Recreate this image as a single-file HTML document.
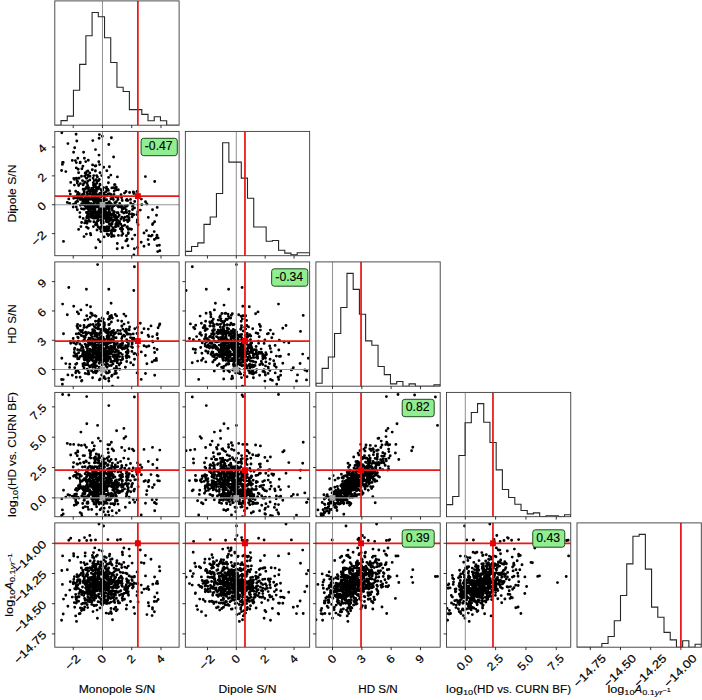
<!DOCTYPE html>
<html><head><meta charset="utf-8"><style>
html,body{margin:0;padding:0;background:#fff;}
svg{display:block;}
text{font-family:"Liberation Sans", sans-serif;fill:#000;}
</style></head><body>
<svg width="702" height="700" viewBox="0 0 702 700">
<rect width="702" height="700" fill="#fff"/>
<clipPath id="c00"><rect x="54.80" y="0.90" width="124.30" height="124.30"/></clipPath>
<g clip-path="url(#c00)">
<line x1="102.47" y1="0.90" x2="102.47" y2="125.20" stroke="#959595" stroke-width="1.05"/>
<path d="M54.80 125.20L54.80 125.20L61.02 125.20L61.02 120.60L67.23 120.60L67.23 116.10L73.44 116.10L73.44 90.20L79.66 90.20L79.66 64.40L85.88 64.40L85.88 35.80L92.09 35.80L92.09 12.50L98.30 12.50L98.30 16.70L104.52 16.70L104.52 37.70L110.73 37.70L110.73 62.50L116.95 62.50L116.95 87.30L123.16 87.30L123.16 91.50L129.38 91.50L129.38 109.60L135.59 109.60L135.59 109.60L141.81 109.60L141.81 114.40L148.02 114.40L148.02 120.80L154.24 120.80L154.24 116.70L160.45 116.70L160.45 120.80L166.67 120.80L166.67 125.20L172.88 125.20L172.88 125.20L179.10 125.20L179.10 125.20" fill="none" stroke="#262626" stroke-width="1.1" stroke-linejoin="miter"/>
<line x1="137.86" y1="0.90" x2="137.86" y2="125.20" stroke="#ec1616" stroke-width="1.75"/>
</g>
<rect x="54.80" y="0.90" width="124.30" height="124.30" fill="none" stroke="#3a3a3a" stroke-width="0.9"/>
<path d="M73.23 125.20v2.9M102.47 125.20v2.9M131.72 125.20v2.9M160.97 125.20v2.9" stroke="#000" stroke-width="0.8"/>
<clipPath id="c01"><rect x="54.80" y="131.40" width="124.30" height="124.30"/></clipPath>
<g clip-path="url(#c01)">
<path d="M96.3 194.5h0M132.1 216.8h0M137.5 247.5h0M114.1 236.1h0M95.5 199.9h0M102.6 203.0h0M91.7 213.2h0M113.7 235.6h0M61.6 170.5h0M104.9 203.6h0M101.5 204.3h0M87.6 221.5h0M113.5 213.1h0M87.7 200.2h0M73.6 152.2h0M93.0 212.8h0M101.3 222.9h0M127.0 227.3h0M103.7 167.3h0M114.2 211.7h0M81.7 203.6h0M99.0 155.1h0M92.1 194.4h0M93.6 199.3h0M73.2 207.1h0M98.7 204.8h0M80.9 226.6h0M111.8 187.9h0M89.8 179.9h0M94.7 208.2h0M87.0 183.4h0M83.6 201.6h0M95.2 205.8h0M124.8 217.2h0M158.1 237.9h0M92.4 217.8h0M92.3 208.4h0M128.3 232.8h0M91.4 211.9h0M115.8 226.8h0M130.5 229.0h0M90.4 233.4h0M122.3 209.0h0M128.4 229.4h0M94.1 196.3h0M134.0 192.5h0M86.5 227.1h0M73.5 204.1h0M81.3 195.9h0M80.4 183.6h0M128.3 232.9h0M77.6 198.5h0M86.6 187.0h0M84.5 202.6h0M105.6 211.6h0M95.5 224.4h0M98.9 211.2h0M88.2 228.2h0M94.1 198.1h0M97.0 181.8h0M128.3 233.5h0M103.5 187.6h0M126.9 199.5h0M95.4 200.0h0M98.8 194.5h0M106.5 187.1h0M101.9 225.2h0M89.5 190.5h0M109.1 218.6h0M122.5 206.8h0M98.0 220.7h0M115.6 218.0h0M107.1 208.8h0M127.2 239.2h0M67.3 202.4h0M93.5 209.9h0M110.5 214.6h0M101.7 175.6h0M102.3 136.3h0M102.9 218.8h0M119.2 206.3h0M108.5 204.9h0M156.5 215.2h0M90.2 216.9h0M92.6 212.8h0M133.8 193.6h0M104.3 204.6h0M70.7 182.4h0M96.1 190.2h0M83.1 189.3h0M89.8 203.8h0M109.4 224.2h0M109.0 227.9h0M102.4 213.4h0M101.6 211.5h0M106.9 221.8h0M137.7 211.9h0M76.3 207.0h0M87.8 181.2h0M99.1 138.3h0M91.7 206.3h0M75.7 202.5h0M90.5 213.9h0M103.8 199.3h0M84.0 236.6h0M82.5 180.6h0M116.9 226.1h0M103.9 193.2h0M87.9 206.0h0M103.1 201.0h0M119.6 221.7h0M109.6 220.1h0M108.0 194.0h0M148.8 244.5h0M103.6 215.2h0M111.7 234.4h0M97.4 202.3h0M90.8 207.7h0M129.2 214.2h0M99.0 201.5h0M111.6 217.6h0M154.6 221.8h0M90.2 214.0h0M90.0 191.5h0M106.2 208.9h0M113.4 187.6h0M100.7 208.2h0M120.5 205.9h0M86.7 217.9h0M94.9 217.3h0M114.7 230.9h0M145.5 201.7h0M100.1 217.3h0M94.4 198.1h0M146.5 230.6h0M109.4 166.7h0M98.0 203.6h0M96.2 179.7h0M104.4 230.7h0M88.2 217.7h0M100.7 196.2h0M107.8 208.3h0M120.8 224.3h0M99.2 188.4h0M88.3 160.3h0M86.4 178.3h0M86.1 174.6h0M84.6 176.3h0M108.2 222.0h0M108.4 230.0h0M93.1 199.9h0M92.6 164.9h0M93.4 226.6h0M97.6 204.7h0M68.8 198.9h0M94.8 197.8h0M114.0 194.4h0M77.8 192.4h0M100.5 216.0h0M87.2 196.5h0M87.1 204.5h0M105.9 228.9h0M104.1 196.3h0M102.2 195.8h0M89.8 204.0h0M132.2 238.9h0M96.6 222.9h0M94.8 184.6h0M107.1 190.3h0M81.4 208.6h0M105.4 209.6h0M113.6 236.0h0M101.3 200.5h0M108.4 227.8h0M87.7 215.0h0M100.4 227.4h0M99.7 208.4h0M114.5 184.8h0M91.0 215.5h0M107.8 218.4h0M95.5 185.9h0M127.3 226.6h0M132.5 206.4h0M108.4 190.4h0M92.6 213.5h0M122.2 212.0h0M89.7 211.1h0M79.9 212.6h0M116.5 223.1h0M105.9 208.1h0M86.9 171.4h0M117.3 243.5h0M94.2 213.2h0M93.2 211.4h0M95.8 247.7h0M86.4 234.1h0M108.9 230.5h0M134.8 235.1h0M89.8 172.9h0M102.0 209.9h0M87.7 185.4h0M104.8 203.1h0M122.4 226.2h0M77.6 181.6h0M100.3 210.5h0M78.6 172.7h0M101.4 208.3h0M148.1 239.6h0M89.8 217.3h0M98.0 219.9h0M94.2 198.8h0M128.5 228.4h0M106.2 195.5h0M112.2 204.8h0M95.9 165.8h0M96.5 206.9h0M90.2 199.3h0M74.7 197.2h0M116.6 220.7h0M96.1 224.9h0M99.9 184.3h0M99.7 208.7h0M105.6 227.7h0M101.6 196.9h0M96.0 199.9h0M104.5 203.3h0M106.3 228.2h0M118.4 216.6h0M86.5 207.9h0M103.7 228.2h0M87.5 191.8h0M93.9 221.7h0M106.3 221.5h0M76.5 201.6h0M111.0 219.2h0M99.0 213.8h0M93.8 204.5h0M104.1 236.9h0M75.7 197.8h0M93.3 182.7h0M110.9 198.8h0M98.6 211.0h0M83.1 209.1h0M96.1 195.6h0M74.3 179.3h0M88.1 212.8h0M93.1 178.3h0M98.2 197.0h0M91.0 203.7h0M121.0 194.7h0M115.3 204.7h0M129.3 211.4h0M152.5 209.8h0M93.7 175.6h0M115.3 226.6h0M103.6 204.6h0M103.7 209.0h0M92.4 209.6h0M117.4 176.9h0M86.7 198.1h0M134.4 248.7h0M69.8 203.4h0M82.2 196.2h0M124.6 225.2h0M79.9 198.0h0M98.8 161.8h0M85.2 206.1h0M118.0 199.6h0M69.6 191.0h0M114.2 191.3h0M106.8 205.9h0M110.5 214.8h0M99.2 211.4h0M119.6 221.8h0M133.8 214.8h0M89.0 216.6h0M107.1 219.4h0M137.3 220.0h0M111.3 223.7h0M125.4 206.0h0M131.9 214.0h0M113.8 214.1h0M99.3 179.5h0M106.6 218.6h0M102.2 203.8h0M114.7 202.6h0M97.4 204.6h0M107.4 203.3h0M100.8 202.3h0M96.0 212.0h0M97.9 195.3h0M95.4 171.1h0M107.9 219.1h0M108.4 227.0h0M100.1 241.8h0M95.0 193.5h0M106.8 170.7h0M97.6 215.3h0M84.7 222.9h0M107.9 230.8h0M96.9 202.6h0M124.0 220.5h0M93.5 207.3h0M92.8 190.6h0M101.0 189.7h0M92.8 194.8h0M157.7 251.6h0M134.5 207.9h0M111.3 214.1h0M106.8 213.7h0M127.8 200.6h0M100.4 229.0h0M94.1 190.6h0M87.5 188.5h0M120.8 207.1h0M137.1 191.5h0M92.6 189.6h0M138.1 224.7h0M106.3 205.9h0M79.3 193.8h0M102.3 201.8h0M95.9 213.9h0M94.3 180.6h0M96.3 223.0h0M114.4 216.9h0M129.6 192.5h0M94.0 205.7h0M148.8 235.8h0M103.1 196.9h0M99.4 204.7h0M94.4 202.9h0M87.4 202.7h0M90.8 234.9h0M112.1 231.6h0M122.4 247.8h0M83.6 152.3h0M126.7 220.0h0M82.7 194.3h0M100.8 220.2h0M129.1 220.4h0M89.4 194.3h0M97.8 212.9h0M128.0 245.7h0M86.7 205.3h0M119.7 203.4h0M88.8 187.8h0M116.3 187.2h0M104.4 199.2h0M79.2 196.3h0M77.8 158.2h0M148.3 217.4h0M84.9 182.0h0M122.6 229.2h0M80.2 199.5h0M104.9 199.9h0M103.3 222.9h0M115.5 226.7h0M107.6 216.2h0M89.7 204.7h0M126.0 191.5h0M133.3 192.0h0M122.2 200.5h0M74.4 185.1h0M82.9 166.3h0M103.9 217.5h0M97.0 224.7h0M76.3 162.6h0M112.3 207.7h0M111.6 214.9h0M114.9 217.0h0M121.8 217.1h0M93.0 215.5h0M70.3 194.1h0M78.6 185.5h0M118.5 207.1h0M90.5 191.8h0M113.6 157.0h0M126.5 240.8h0M118.1 197.7h0M98.1 216.3h0M86.0 201.0h0M122.9 233.7h0M96.8 200.1h0M86.4 199.8h0M99.0 210.2h0M89.1 198.1h0M110.7 203.4h0M106.3 206.9h0M88.3 211.9h0M84.4 209.1h0M122.3 206.3h0M159.4 245.3h0M105.8 191.8h0M109.1 217.1h0M146.9 204.0h0M100.0 185.0h0M76.4 178.1h0M151.0 236.1h0M83.4 198.9h0M82.7 201.0h0M92.3 169.8h0M126.7 240.4h0M77.3 183.1h0M77.6 201.4h0M130.7 202.9h0M80.3 162.3h0M81.5 176.2h0M81.7 198.4h0M106.3 188.5h0M102.4 213.7h0M91.6 188.4h0M115.5 215.5h0M104.2 194.1h0M104.9 196.4h0M106.6 205.0h0M90.0 217.0h0M95.7 190.3h0M77.7 193.5h0M112.5 198.5h0M84.0 199.6h0M102.6 197.6h0M80.1 162.9h0M116.2 197.1h0M104.2 227.1h0M102.2 200.2h0M75.4 160.6h0M100.9 220.6h0M95.1 195.4h0M95.9 201.8h0M111.7 230.2h0M104.8 218.3h0M93.4 198.1h0M105.5 204.4h0M109.7 212.5h0M84.3 191.9h0M93.1 206.0h0M65.8 171.6h0M108.4 182.8h0M128.3 228.6h0M91.7 198.5h0M96.7 183.2h0M83.1 184.9h0M117.2 205.5h0M96.1 198.5h0M104.5 211.3h0M88.2 175.3h0M137.0 214.6h0M113.4 199.6h0M98.7 187.2h0M93.5 204.3h0M108.5 216.6h0M92.6 208.6h0M120.3 228.7h0M152.1 235.2h0M95.5 149.6h0M76.3 167.9h0M104.0 212.7h0M90.2 193.9h0M94.1 186.6h0M98.1 217.6h0M113.1 197.5h0M133.2 204.4h0M88.2 202.3h0M126.3 209.9h0M144.0 233.0h0M105.0 216.9h0M99.4 134.6h0M84.0 209.0h0M88.0 214.6h0M133.8 254.9h0M78.4 196.4h0M89.9 209.7h0M107.4 226.7h0M95.4 170.6h0M103.8 210.0h0M61.8 132.8h0M78.6 229.4h0M137.2 222.3h0M145.4 176.6h0M98.5 207.3h0M109.5 193.7h0M111.5 236.6h0M114.7 188.2h0M107.4 212.6h0M157.2 207.4h0M118.7 223.2h0M105.4 214.5h0M97.8 202.7h0M94.2 199.3h0M108.2 235.6h0M85.1 202.9h0M112.1 196.6h0M109.7 220.0h0M102.9 210.1h0M98.4 239.6h0M73.8 178.4h0M81.9 168.7h0M90.0 176.2h0M114.0 205.7h0M95.6 216.3h0M84.4 158.2h0M110.5 219.9h0M108.8 234.8h0M88.1 209.2h0M117.9 220.4h0M99.7 228.4h0M103.2 207.0h0M156.3 238.0h0M97.1 201.1h0M101.8 210.0h0M89.0 220.4h0M97.1 221.4h0M105.3 207.8h0M114.6 205.3h0M96.6 198.9h0M94.8 192.8h0M67.9 143.6h0M112.8 227.8h0M99.5 199.3h0M83.1 204.7h0M108.1 205.4h0M87.0 223.2h0M102.7 190.0h0M141.8 204.8h0M108.6 177.4h0M101.0 231.6h0M105.4 196.2h0M141.3 199.1h0M85.1 189.0h0M90.8 206.2h0M95.2 166.0h0M92.0 208.8h0M91.5 191.2h0M116.4 201.8h0M62.4 164.4h0M132.5 214.1h0M94.0 203.3h0M134.7 201.5h0M125.6 212.3h0M102.3 203.1h0M97.2 188.0h0M73.7 198.2h0M117.8 205.6h0M109.2 205.2h0M99.6 164.6h0M157.1 245.6h0M93.7 217.5h0M152.5 224.5h0M86.8 217.1h0M103.8 198.0h0M111.4 218.1h0M124.7 208.3h0M77.3 209.8h0M108.8 144.5h0M102.8 212.3h0M109.9 204.0h0M114.0 229.5h0M84.5 199.4h0M63.5 241.4h0M92.4 208.3h0M98.2 226.9h0M99.8 193.4h0M121.7 211.8h0M92.9 187.9h0M99.7 213.0h0M108.7 208.5h0M114.3 219.9h0M96.4 191.5h0M130.5 199.4h0M105.5 207.7h0M93.4 185.1h0M79.9 217.0h0M154.2 231.6h0M126.2 212.0h0M122.7 208.9h0M83.7 183.4h0M81.6 222.5h0M77.0 180.8h0M111.1 225.6h0M108.2 215.9h0M144.0 246.3h0M132.5 209.5h0M92.4 194.9h0M97.5 189.2h0M78.2 169.3h0M110.2 206.1h0M103.4 218.0h0M98.1 214.6h0M141.2 242.3h0M121.7 227.6h0M112.7 221.6h0M87.2 192.9h0M101.5 220.3h0M97.3 196.8h0M123.9 213.0h0M76.1 134.2h0M86.0 173.6h0M102.0 217.1h0M114.3 219.7h0M120.5 205.7h0M115.2 230.3h0M93.9 190.2h0M86.8 178.1h0M98.4 215.2h0M123.8 218.4h0M107.1 234.1h0M98.4 211.6h0M127.4 205.5h0M93.1 207.0h0M111.0 194.5h0M91.1 203.7h0M112.1 224.0h0M102.5 200.5h0M108.2 206.0h0M86.8 195.4h0M85.6 220.8h0M93.0 199.5h0M85.1 200.3h0M118.3 226.0h0M63.2 162.4h0M88.6 207.1h0M131.5 229.2h0M117.2 248.8h0M108.2 213.4h0M106.6 199.8h0M62.6 162.5h0M110.8 175.1h0M120.6 205.2h0M77.0 195.5h0M105.5 217.9h0M101.8 206.5h0M98.3 211.7h0M157.0 235.3h0M101.7 191.8h0M112.4 210.4h0M76.8 141.0h0M127.1 216.4h0M100.0 172.7h0M79.1 178.1h0M118.3 189.8h0M78.9 178.2h0M103.3 198.8h0M128.5 217.3h0M108.1 217.4h0M115.8 224.3h0M152.8 223.6h0M103.4 210.8h0M72.3 160.4h0M106.6 215.9h0M91.8 189.4h0M104.4 199.5h0M97.0 230.0h0M87.9 171.0h0M126.6 206.2h0M109.2 210.7h0M93.9 211.5h0M85.7 161.6h0M116.4 189.8h0M106.1 227.2h0M129.1 218.3h0M98.7 188.4h0M77.5 196.3h0M91.3 199.0h0M90.2 221.4h0M110.2 219.4h0M107.8 208.5h0M111.6 208.8h0M108.8 227.2h0M75.7 191.3h0M83.2 218.4h0M119.2 215.1h0M92.8 140.6h0M103.5 218.2h0M107.7 189.3h0M96.6 175.6h0M94.5 212.2h0M95.4 187.2h0M99.9 206.8h0M117.0 224.3h0M96.5 214.9h0M93.3 192.4h0M111.2 233.1h0M100.0 204.1h0M107.3 203.1h0M94.3 211.2h0M98.8 180.6h0M125.8 240.9h0M111.0 204.0h0M115.4 204.5h0M115.7 217.5h0M99.4 202.6h0M121.8 231.2h0M154.4 239.5h0M101.0 227.2h0M118.0 212.7h0M105.0 215.0h0M84.0 191.0h0M115.0 184.6h0M94.0 218.2h0M109.5 220.9h0M88.0 200.8h0M102.1 211.6h0M103.1 221.5h0M94.8 209.9h0M116.9 212.6h0M93.6 184.9h0M80.4 205.2h0M95.3 217.1h0M126.4 235.8h0M109.4 213.6h0M140.3 210.1h0M94.2 197.1h0M106.2 219.7h0M109.4 201.6h0M95.8 217.8h0M154.7 181.5h0M87.2 215.9h0M102.5 219.6h0M105.5 218.1h0M85.4 197.7h0M159.8 250.7h0M124.5 193.1h0M118.4 235.4h0M93.0 213.0h0M111.8 220.0h0M113.0 215.0h0M106.3 231.1h0M126.7 212.5h0M126.3 200.3h0M99.9 213.4h0M88.5 176.2h0M101.5 193.2h0M121.6 197.7h0M120.9 219.0h0M85.2 173.0h0M93.8 201.5h0M98.7 216.0h0M93.5 190.7h0M116.9 217.9h0M102.4 208.9h0M100.4 212.4h0M104.2 216.8h0M95.8 218.1h0M97.4 215.8h0M75.7 203.1h0M98.5 198.7h0M92.4 215.5h0M116.1 217.0h0M97.4 176.9h0M103.0 218.6h0M107.1 219.1h0M121.7 235.4h0M111.4 137.8h0M111.4 231.3h0M113.0 214.4h0M74.7 147.8h0M95.1 209.7h0M84.0 194.2h0M127.8 221.7h0M86.4 212.5h0" stroke="#000" stroke-width="2.9" stroke-linecap="round"/>
<line x1="102.47" y1="131.40" x2="102.47" y2="255.70" stroke="#959595" stroke-width="1.05"/>
<line x1="54.80" y1="204.74" x2="179.10" y2="204.74" stroke="#959595" stroke-width="1.05"/>
<rect x="99.57" y="201.94" width="5.8" height="5.6" fill="#a4a4a4"/>
<line x1="137.86" y1="131.40" x2="137.86" y2="255.70" stroke="#ec1616" stroke-width="1.75"/>
<line x1="54.80" y1="196.08" x2="179.10" y2="196.08" stroke="#ec1616" stroke-width="1.75"/>
<rect x="134.91" y="193.13" width="5.9" height="5.9" fill="#e80000"/>
</g>
<rect x="54.80" y="131.40" width="124.30" height="124.30" fill="none" stroke="#3a3a3a" stroke-width="0.9"/>
<path d="M73.23 255.70v2.9M102.47 255.70v2.9M131.72 255.70v2.9M160.97 255.70v2.9M54.80 233.61h-2.9M54.80 204.74h-2.9M54.80 175.87h-2.9M54.80 146.99h-2.9" stroke="#000" stroke-width="0.8"/>
<clipPath id="c11"><rect x="185.35" y="131.40" width="124.30" height="124.30"/></clipPath>
<g clip-path="url(#c11)">
<line x1="236.31" y1="131.40" x2="236.31" y2="255.70" stroke="#959595" stroke-width="1.05"/>
<path d="M185.35 255.70L185.35 251.40L191.57 251.40L191.57 246.50L197.78 246.50L197.78 242.90L204.00 242.90L204.00 224.40L210.21 224.40L210.21 217.00L216.43 217.00L216.43 193.50L222.64 193.50L222.64 142.80L228.86 142.80L228.86 162.10L235.07 162.10L235.07 162.10L241.29 162.10L241.29 178.10L247.50 178.10L247.50 198.30L253.72 198.30L253.72 227.00L259.93 227.00L259.93 227.00L266.15 227.00L266.15 241.30L272.36 241.30L272.36 240.50L278.58 240.50L278.58 250.30L284.79 250.30L284.79 253.10L291.00 253.10L291.00 254.80L297.22 254.80L297.22 252.80L303.44 252.80L303.44 252.80L309.65 252.80L309.65 255.70" fill="none" stroke="#262626" stroke-width="1.1" stroke-linejoin="miter"/>
<line x1="244.97" y1="131.40" x2="244.97" y2="255.70" stroke="#ec1616" stroke-width="1.75"/>
</g>
<rect x="185.35" y="131.40" width="124.30" height="124.30" fill="none" stroke="#3a3a3a" stroke-width="0.9"/>
<path d="M207.44 255.70v2.9M236.31 255.70v2.9M265.18 255.70v2.9M294.06 255.70v2.9" stroke="#000" stroke-width="0.8"/>
<clipPath id="c02"><rect x="54.80" y="261.90" width="124.30" height="124.30"/></clipPath>
<g clip-path="url(#c02)">
<path d="M96.3 360.4h0M132.1 343.9h0M137.5 327.4h0M114.1 343.9h0M95.5 321.2h0M102.6 342.7h0M91.7 370.4h0M113.7 337.0h0M61.6 379.5h0M104.9 359.0h0M101.5 349.8h0M87.6 341.3h0M113.5 347.6h0M87.7 373.9h0M73.6 342.7h0M93.0 357.6h0M101.3 330.2h0M127.0 334.3h0M103.7 360.7h0M114.2 357.6h0M81.7 347.7h0M99.0 325.5h0M92.1 337.2h0M93.6 352.9h0M73.2 338.5h0M98.7 355.0h0M80.9 309.9h0M111.8 361.5h0M89.8 349.1h0M94.7 348.0h0M87.0 358.2h0M83.6 336.5h0M95.2 367.3h0M124.8 331.0h0M158.1 327.8h0M92.4 356.2h0M92.3 358.8h0M128.3 351.6h0M91.4 335.4h0M115.8 360.1h0M130.5 337.6h0M90.4 339.4h0M122.3 354.6h0M128.4 334.0h0M94.1 362.5h0M134.0 353.7h0M86.5 354.7h0M73.5 342.0h0M81.3 335.5h0M80.4 356.4h0M128.3 344.9h0M77.6 358.7h0M86.6 354.3h0M84.5 339.9h0M105.6 371.7h0M95.5 354.3h0M98.9 346.8h0M88.2 326.0h0M94.1 365.4h0M97.0 336.7h0M128.3 346.2h0M103.5 377.8h0M126.9 354.7h0M95.4 353.8h0M98.8 320.4h0M106.5 373.0h0M101.9 354.9h0M89.5 366.3h0M109.1 353.9h0M122.5 357.1h0M98.0 327.0h0M115.6 355.7h0M107.1 336.5h0M127.2 353.3h0M67.3 314.8h0M93.5 345.8h0M110.5 359.3h0M101.7 375.0h0M102.3 370.0h0M102.9 321.5h0M119.2 345.7h0M108.5 348.2h0M156.5 360.4h0M90.2 338.5h0M92.6 346.4h0M133.8 340.6h0M104.3 353.7h0M70.7 343.2h0M96.1 351.2h0M83.1 347.4h0M89.8 343.9h0M109.4 324.2h0M109.0 337.0h0M102.4 339.9h0M101.6 354.4h0M106.9 345.1h0M137.7 354.0h0M76.3 344.1h0M87.8 364.7h0M99.1 354.1h0M91.7 365.2h0M75.7 344.0h0M90.5 324.8h0M103.8 344.2h0M84.0 325.4h0M82.5 330.1h0M116.9 354.7h0M103.9 353.7h0M87.9 351.3h0M103.1 349.2h0M119.6 356.6h0M109.6 318.7h0M108.0 333.5h0M148.8 336.6h0M103.6 353.0h0M111.7 341.7h0M97.4 348.5h0M90.8 350.0h0M129.2 357.1h0M99.0 348.9h0M111.6 352.5h0M154.6 352.5h0M90.2 349.7h0M90.0 356.6h0M106.2 360.0h0M113.4 355.0h0M100.7 349.0h0M120.5 353.1h0M86.7 327.3h0M94.9 331.8h0M114.7 346.5h0M145.5 373.5h0M100.1 379.0h0M94.4 347.0h0M146.5 346.8h0M109.4 365.6h0M98.0 353.6h0M96.2 361.4h0M104.4 323.0h0M88.2 340.3h0M100.7 356.6h0M107.8 346.9h0M120.8 347.5h0M99.2 367.1h0M88.3 371.1h0M86.4 354.3h0M86.1 354.5h0M84.6 356.5h0M108.2 350.9h0M108.4 343.5h0M93.1 349.2h0M92.6 367.3h0M93.4 329.7h0M97.6 264.6h0M68.8 287.5h0M94.8 331.0h0M114.0 360.9h0M77.8 370.4h0M100.5 341.6h0M87.2 369.3h0M87.1 333.6h0M105.9 352.0h0M104.1 350.7h0M102.2 353.2h0M89.8 339.7h0M132.2 342.7h0M96.6 355.4h0M94.8 350.4h0M107.1 336.0h0M81.4 331.8h0M105.4 378.7h0M113.6 330.5h0M101.3 356.4h0M108.4 319.3h0M87.7 319.3h0M100.4 329.4h0M99.7 324.7h0M114.5 352.0h0M91.0 313.2h0M107.8 358.8h0M95.5 365.6h0M127.3 341.3h0M132.5 347.5h0M108.4 343.5h0M92.6 329.7h0M122.2 348.1h0M89.7 351.6h0M79.9 350.1h0M116.5 350.0h0M105.9 347.9h0M86.9 345.9h0M117.3 361.1h0M94.2 352.3h0M93.2 333.4h0M95.8 339.7h0M86.4 347.1h0M108.9 336.1h0M134.8 328.7h0M89.8 367.1h0M102.0 360.5h0M87.7 362.2h0M104.8 352.1h0M122.4 345.3h0M77.6 324.4h0M100.3 346.8h0M78.6 333.4h0M101.4 370.0h0M148.1 335.2h0M89.8 353.7h0M98.0 356.6h0M94.2 353.2h0M128.5 356.2h0M106.2 366.2h0M112.2 346.6h0M95.9 372.9h0M96.5 335.3h0M90.2 358.3h0M74.7 348.2h0M116.6 315.9h0M96.1 347.7h0M99.9 369.6h0M99.7 337.7h0M105.6 332.0h0M101.6 349.4h0M96.0 316.2h0M104.5 353.6h0M106.3 362.0h0M118.4 354.7h0M86.5 345.2h0M103.7 352.3h0M87.5 348.1h0M93.9 333.1h0M106.3 331.9h0M76.5 354.2h0M111.0 352.3h0M99.0 319.5h0M93.8 331.9h0M104.1 327.1h0M75.7 354.9h0M93.3 341.3h0M110.9 353.8h0M98.6 353.8h0M83.1 341.0h0M96.1 340.5h0M74.3 352.5h0M88.1 345.8h0M93.1 364.5h0M98.2 353.5h0M91.0 342.1h0M121.0 360.1h0M115.3 355.0h0M129.3 341.3h0M152.5 341.2h0M93.7 365.9h0M115.3 345.0h0M103.6 356.1h0M103.7 348.7h0M92.4 315.3h0M117.4 343.4h0M86.7 315.7h0M134.4 266.7h0M69.8 364.2h0M82.2 355.5h0M124.6 348.5h0M79.9 344.0h0M98.8 340.2h0M85.2 336.9h0M118.0 377.6h0M69.6 367.4h0M114.2 368.7h0M106.8 359.7h0M110.5 342.8h0M99.2 356.2h0M119.6 363.9h0M133.8 338.3h0M89.0 325.2h0M107.1 367.2h0M137.3 355.0h0M111.3 365.5h0M125.4 367.3h0M131.9 351.4h0M113.8 333.2h0M99.3 363.3h0M106.6 350.8h0M102.2 349.2h0M114.7 361.0h0M97.4 340.1h0M107.4 356.1h0M100.8 359.9h0M96.0 352.9h0M97.9 328.9h0M95.4 370.6h0M107.9 313.5h0M108.4 356.7h0M100.1 340.1h0M95.0 366.1h0M106.8 330.1h0M97.6 334.7h0M84.7 320.1h0M107.9 312.4h0M96.9 356.6h0M124.0 324.1h0M93.5 366.3h0M92.8 361.1h0M101.0 358.1h0M92.8 353.4h0M157.7 338.5h0M134.5 359.3h0M111.3 347.0h0M106.8 332.7h0M127.8 350.0h0M100.4 320.9h0M94.1 339.7h0M87.5 352.0h0M120.8 362.9h0M137.1 372.9h0M92.6 349.7h0M138.1 346.6h0M106.3 360.7h0M79.3 333.8h0M102.3 352.3h0M95.9 327.9h0M94.3 326.5h0M96.3 324.6h0M114.4 334.0h0M129.6 326.9h0M94.0 333.2h0M148.8 346.0h0M103.1 354.4h0M99.4 334.5h0M94.4 344.3h0M87.4 350.8h0M90.8 313.2h0M112.1 340.6h0M122.4 349.0h0M83.6 354.4h0M126.7 339.6h0M82.7 353.6h0M100.8 339.5h0M129.1 329.9h0M89.4 325.5h0M97.8 359.8h0M128.0 352.8h0M86.7 360.2h0M119.7 369.2h0M88.8 374.0h0M116.3 366.5h0M104.4 357.1h0M79.2 372.6h0M77.8 328.2h0M148.3 329.1h0M84.9 352.2h0M122.6 343.2h0M80.2 325.8h0M104.9 353.9h0M103.3 337.8h0M115.5 371.0h0M107.6 313.4h0M89.7 357.0h0M126.0 356.3h0M133.3 364.9h0M122.2 359.5h0M74.4 349.6h0M82.9 364.0h0M103.9 323.4h0M97.0 341.9h0M76.3 377.2h0M112.3 348.0h0M111.6 331.4h0M114.9 348.5h0M121.8 326.2h0M93.0 344.7h0M70.3 341.4h0M78.6 313.7h0M118.5 352.2h0M90.5 306.7h0M113.6 342.1h0M126.5 332.8h0M118.1 356.2h0M98.1 321.0h0M86.0 335.0h0M122.9 329.1h0M96.8 336.0h0M86.4 346.2h0M99.0 340.7h0M89.1 360.9h0M110.7 346.3h0M106.3 350.9h0M88.3 332.6h0M84.4 354.6h0M122.3 336.6h0M159.4 325.3h0M105.8 353.5h0M109.1 371.0h0M146.9 363.7h0M100.0 354.3h0M76.4 371.4h0M151.0 325.9h0M83.4 350.1h0M82.7 351.2h0M92.3 351.9h0M126.7 347.5h0M77.3 311.9h0M77.6 349.7h0M130.7 362.8h0M80.3 350.0h0M81.5 381.1h0M81.7 345.7h0M106.3 361.2h0M102.4 348.6h0M91.6 370.9h0M115.5 344.8h0M104.2 376.8h0M104.9 339.8h0M106.6 356.6h0M90.0 333.1h0M95.7 371.6h0M77.7 337.1h0M112.5 386.1h0M84.0 327.6h0M102.6 344.7h0M80.1 377.2h0M116.2 351.5h0M104.2 326.6h0M102.2 365.1h0M75.4 356.2h0M100.9 337.6h0M95.1 315.8h0M95.9 335.1h0M111.7 316.9h0M104.8 344.5h0M93.4 351.1h0M105.5 351.8h0M109.7 316.4h0M84.3 359.8h0M93.1 355.1h0M65.8 363.6h0M108.4 353.7h0M128.3 322.6h0M91.7 354.7h0M96.7 333.5h0M83.1 332.9h0M117.2 356.9h0M96.1 362.3h0M104.5 324.9h0M88.2 352.7h0M137.0 333.5h0M113.4 340.0h0M98.7 349.7h0M93.5 339.5h0M108.5 338.2h0M92.6 377.8h0M120.3 330.6h0M152.1 361.9h0M95.5 369.9h0M76.3 333.9h0M104.0 359.1h0M90.2 344.6h0M94.1 365.1h0M98.1 348.0h0M113.1 347.3h0M133.2 333.9h0M88.2 356.0h0M126.3 330.9h0M144.0 345.7h0M105.0 350.4h0M99.4 379.9h0M84.0 358.7h0M88.0 353.3h0M133.8 290.5h0M78.4 341.1h0M89.9 355.1h0M107.4 347.1h0M95.4 348.4h0M103.8 341.7h0M61.8 358.3h0M78.6 352.7h0M137.2 340.4h0M145.4 355.5h0M98.5 354.6h0M109.5 348.7h0M111.5 339.0h0M114.7 373.8h0M107.4 364.0h0M157.2 333.8h0M118.7 333.7h0M105.4 354.9h0M97.8 359.8h0M94.2 344.3h0M108.2 330.3h0M85.1 337.5h0M112.1 375.3h0M109.7 348.8h0M102.9 338.4h0M98.4 323.3h0M73.8 356.0h0M81.9 380.4h0M90.0 339.9h0M114.0 348.6h0M95.6 352.6h0M84.4 363.3h0M110.5 339.9h0M108.8 289.3h0M88.1 354.7h0M117.9 320.6h0M99.7 348.1h0M103.2 355.1h0M156.3 358.4h0M97.1 354.4h0M101.8 336.4h0M89.0 338.2h0M97.1 355.6h0M105.3 364.5h0M114.6 343.4h0M96.6 365.9h0M94.8 336.2h0M67.9 374.9h0M112.8 356.4h0M99.5 362.4h0M83.1 365.9h0M108.1 372.9h0M87.0 348.4h0M102.7 345.4h0M141.8 332.8h0M108.6 357.4h0M101.0 337.0h0M105.4 361.2h0M141.3 351.9h0M85.1 364.9h0M90.8 334.3h0M95.2 345.4h0M92.0 313.7h0M91.5 334.6h0M116.4 369.2h0M62.4 384.2h0M132.5 339.8h0M94.0 347.3h0M134.7 353.4h0M125.6 345.7h0M102.3 347.1h0M97.2 371.3h0M73.7 306.2h0M117.8 330.5h0M109.2 335.9h0M99.6 356.1h0M157.1 349.5h0M93.7 357.1h0M152.5 336.6h0M86.8 305.1h0M103.8 360.1h0M111.4 349.8h0M124.7 336.2h0M77.3 342.3h0M108.8 381.0h0M102.8 329.0h0M109.9 357.0h0M114.0 343.3h0M84.5 337.6h0M63.5 333.8h0M92.4 344.2h0M98.2 334.3h0M99.8 357.5h0M121.7 341.1h0M92.9 355.5h0M99.7 342.2h0M108.7 378.2h0M114.3 337.6h0M96.4 345.3h0M130.5 334.4h0M105.5 329.4h0M93.4 372.4h0M79.9 330.4h0M154.2 348.1h0M126.2 352.3h0M122.7 359.1h0M83.7 356.9h0M81.6 331.5h0M77.0 326.0h0M111.1 303.3h0M108.2 341.0h0M144.0 328.8h0M132.5 338.2h0M92.4 341.0h0M97.5 352.5h0M78.2 337.7h0M110.2 348.0h0M103.4 352.7h0M98.1 352.9h0M141.2 379.4h0M121.7 338.4h0M112.7 351.0h0M87.2 358.2h0M101.5 333.3h0M97.3 354.1h0M123.9 314.1h0M76.1 371.0h0M86.0 333.9h0M102.0 345.7h0M114.3 345.2h0M120.5 344.2h0M115.2 314.4h0M93.9 352.1h0M86.8 358.8h0M98.4 358.2h0M123.8 335.2h0M107.1 338.5h0M98.4 353.3h0M127.4 355.8h0M93.1 324.5h0M111.0 352.0h0M91.1 359.5h0M112.1 332.3h0M102.5 362.7h0M108.2 341.2h0M86.8 364.5h0M85.6 332.1h0M93.0 354.4h0M85.1 344.2h0M118.3 359.6h0M63.2 379.6h0M88.6 343.3h0M131.5 346.8h0M117.2 362.7h0M108.2 332.0h0M106.6 354.8h0M62.6 304.1h0M110.8 361.9h0M120.6 345.0h0M77.0 356.0h0M105.5 358.0h0M101.8 354.7h0M98.3 344.8h0M157.0 334.8h0M101.7 345.0h0M112.4 318.1h0M76.8 363.5h0M127.1 341.8h0M100.0 368.9h0M79.1 358.0h0M118.3 347.5h0M78.9 358.7h0M103.3 318.9h0M128.5 344.3h0M108.1 342.6h0M115.8 332.7h0M152.8 341.9h0M103.4 351.9h0M72.3 375.2h0M106.6 332.1h0M91.8 343.0h0M104.4 352.4h0M97.0 354.4h0M87.9 359.2h0M126.6 358.1h0M109.2 340.5h0M93.9 361.0h0M85.7 356.4h0M116.4 373.2h0M106.1 355.8h0M129.1 329.1h0M98.7 328.7h0M77.5 327.2h0M91.3 341.4h0M90.2 317.2h0M110.2 332.4h0M107.8 360.8h0M111.6 376.3h0M108.8 324.7h0M75.7 364.3h0M83.2 354.9h0M119.2 365.1h0M92.8 331.4h0M103.5 330.2h0M107.7 351.2h0M96.6 358.3h0M94.5 364.0h0M95.4 357.5h0M99.9 332.6h0M117.0 358.0h0M96.5 352.2h0M93.3 347.8h0M111.2 353.0h0M100.0 360.4h0M107.3 352.4h0M94.3 357.2h0M98.8 353.2h0M125.8 316.1h0M111.0 334.7h0M115.4 358.9h0M115.7 351.6h0M99.4 346.9h0M121.8 326.0h0M154.4 360.4h0M101.0 345.1h0M118.0 346.4h0M105.0 350.0h0M84.0 352.1h0M115.0 357.4h0M94.0 330.9h0M109.5 351.3h0M88.0 364.9h0M102.1 317.9h0M103.1 354.6h0M94.8 344.4h0M116.9 343.7h0M93.6 346.5h0M80.4 350.3h0M95.3 366.4h0M126.4 345.9h0M109.4 328.8h0M140.3 323.3h0M94.2 350.7h0M106.2 346.3h0M109.4 372.1h0M95.8 360.2h0M154.7 375.2h0M87.2 347.8h0M102.5 343.8h0M105.5 355.6h0M85.4 356.8h0M159.8 323.9h0M124.5 347.4h0M118.4 351.0h0M93.0 346.1h0M111.8 347.9h0M113.0 336.2h0M106.3 342.9h0M126.7 361.5h0M126.3 329.3h0M99.9 352.7h0M88.5 372.4h0M101.5 350.8h0M121.6 345.7h0M120.9 333.7h0M85.2 373.4h0M93.8 348.1h0M98.7 350.7h0M93.5 340.9h0M116.9 368.4h0M102.4 345.1h0M100.4 356.0h0M104.2 350.9h0M95.8 341.7h0M97.4 351.4h0M75.7 372.7h0M98.5 338.7h0M92.4 332.8h0M116.1 337.8h0M97.4 369.6h0M103.0 337.3h0M107.1 338.5h0M121.7 321.2h0M111.4 315.4h0M111.4 322.0h0M113.0 363.9h0M74.7 367.7h0M95.1 333.8h0M84.0 368.0h0M127.8 350.2h0M86.4 289.3h0" stroke="#000" stroke-width="2.9" stroke-linecap="round"/>
<line x1="102.47" y1="261.90" x2="102.47" y2="386.20" stroke="#959595" stroke-width="1.05"/>
<line x1="54.80" y1="369.59" x2="179.10" y2="369.59" stroke="#959595" stroke-width="1.05"/>
<rect x="99.57" y="366.79" width="5.8" height="5.6" fill="#a4a4a4"/>
<line x1="137.86" y1="261.90" x2="137.86" y2="386.20" stroke="#ec1616" stroke-width="1.75"/>
<line x1="54.80" y1="341.05" x2="179.10" y2="341.05" stroke="#ec1616" stroke-width="1.75"/>
<rect x="134.91" y="338.10" width="5.9" height="5.9" fill="#e80000"/>
</g>
<rect x="54.80" y="261.90" width="124.30" height="124.30" fill="none" stroke="#3a3a3a" stroke-width="0.9"/>
<path d="M73.23 386.20v2.9M102.47 386.20v2.9M131.72 386.20v2.9M160.97 386.20v2.9M54.80 369.59h-2.9M54.80 340.27h-2.9M54.80 310.96h-2.9M54.80 281.64h-2.9" stroke="#000" stroke-width="0.8"/>
<clipPath id="c12"><rect x="185.35" y="261.90" width="124.30" height="124.30"/></clipPath>
<g clip-path="url(#c12)">
<path d="M246.5 360.4h0M224.3 343.9h0M193.6 327.4h0M205.0 343.9h0M241.2 321.2h0M238.0 342.7h0M227.9 370.4h0M205.5 337.0h0M270.5 379.5h0M237.4 359.0h0M236.8 349.8h0M219.5 341.3h0M227.9 347.6h0M240.8 373.9h0M288.8 342.7h0M228.2 357.6h0M218.1 330.2h0M213.8 334.3h0M273.7 360.7h0M229.4 357.6h0M237.4 347.7h0M286.0 325.5h0M246.7 337.2h0M241.8 352.9h0M233.9 338.5h0M236.3 355.0h0M214.4 309.9h0M253.2 361.5h0M261.1 349.1h0M232.8 348.0h0M257.6 358.2h0M239.4 336.5h0M235.3 367.3h0M223.9 331.0h0M203.2 327.8h0M223.2 356.2h0M232.6 358.8h0M208.2 351.6h0M229.2 335.4h0M214.3 360.1h0M212.0 337.6h0M207.7 339.4h0M232.1 354.6h0M211.6 334.0h0M244.8 362.5h0M248.5 353.7h0M213.9 354.7h0M237.0 342.0h0M245.2 335.5h0M257.4 356.4h0M208.1 344.9h0M242.6 358.7h0M254.0 354.3h0M238.4 339.9h0M229.5 371.7h0M216.7 354.3h0M229.8 346.8h0M212.8 326.0h0M242.9 365.4h0M259.2 336.7h0M207.6 346.2h0M253.4 377.8h0M241.6 354.7h0M241.1 353.8h0M246.6 320.4h0M253.9 373.0h0M215.8 354.9h0M250.6 366.3h0M222.4 353.9h0M234.3 357.1h0M220.3 327.0h0M223.0 355.7h0M232.2 336.5h0M201.9 353.3h0M238.7 314.8h0M231.2 345.8h0M226.5 359.3h0M265.4 375.0h0M304.8 370.0h0M222.2 321.5h0M234.7 345.7h0M236.1 348.2h0M225.8 360.4h0M224.2 338.5h0M228.3 346.4h0M247.4 340.6h0M236.4 353.7h0M258.6 343.2h0M250.9 351.2h0M251.8 347.4h0M237.2 343.9h0M216.8 324.2h0M213.2 337.0h0M227.6 339.9h0M229.6 354.4h0M219.2 345.1h0M229.1 354.0h0M234.0 344.1h0M259.8 364.7h0M302.7 354.1h0M234.7 365.2h0M238.5 344.0h0M227.2 324.8h0M241.8 344.2h0M204.5 325.4h0M260.4 330.1h0M214.9 354.7h0M247.8 353.7h0M235.0 351.3h0M240.1 349.2h0M219.4 356.6h0M220.9 318.7h0M247.1 333.5h0M196.6 336.6h0M225.8 353.0h0M206.6 341.7h0M238.8 348.5h0M233.3 350.0h0M226.8 357.1h0M239.5 348.9h0M223.5 352.5h0M219.3 352.5h0M227.1 349.7h0M249.6 356.6h0M232.1 360.0h0M253.5 355.0h0M232.9 349.0h0M235.1 353.1h0M223.2 327.3h0M223.7 331.8h0M210.1 346.5h0M239.4 373.5h0M223.7 379.0h0M243.0 347.0h0M210.4 346.8h0M274.4 365.6h0M237.5 353.6h0M261.3 361.4h0M210.4 323.0h0M223.3 340.3h0M244.9 356.6h0M232.7 346.9h0M216.7 347.5h0M252.6 367.1h0M280.8 371.1h0M262.7 354.3h0M266.5 354.5h0M264.8 356.5h0M219.1 350.9h0M211.1 343.5h0M241.1 349.2h0M276.2 367.3h0M214.5 329.7h0M236.4 264.6h0M242.1 287.5h0M243.2 331.0h0M246.7 360.9h0M248.6 370.4h0M225.0 341.6h0M244.5 369.3h0M236.5 333.6h0M212.2 352.0h0M244.8 350.7h0M245.3 353.2h0M237.0 339.7h0M202.2 342.7h0M218.2 355.4h0M256.4 350.4h0M250.8 336.0h0M232.5 331.8h0M231.5 378.7h0M205.1 330.5h0M240.5 356.4h0M213.3 319.3h0M226.1 319.3h0M213.7 329.4h0M232.7 324.7h0M256.2 352.0h0M225.6 313.2h0M222.7 358.8h0M255.1 365.6h0M214.4 341.3h0M234.6 347.5h0M250.7 343.5h0M227.5 329.7h0M229.0 348.1h0M230.0 351.6h0M228.4 350.1h0M217.9 350.0h0M233.0 347.9h0M269.7 345.9h0M197.6 361.1h0M227.8 352.3h0M229.7 333.4h0M193.4 339.7h0M207.0 347.1h0M210.5 336.1h0M205.9 328.7h0M268.2 367.1h0M231.2 360.5h0M255.7 362.2h0M238.0 352.1h0M214.8 345.3h0M259.4 324.4h0M230.6 346.8h0M268.4 333.4h0M232.7 370.0h0M201.5 335.2h0M223.8 353.7h0M221.2 356.6h0M242.2 353.2h0M212.7 356.2h0M245.6 366.2h0M236.2 346.6h0M275.2 372.9h0M234.2 335.3h0M241.8 358.3h0M243.8 348.2h0M220.3 315.9h0M216.1 347.7h0M256.7 369.6h0M232.4 337.7h0M213.3 332.0h0M244.2 349.4h0M241.1 316.2h0M237.8 353.6h0M212.8 362.0h0M224.5 354.7h0M233.2 345.2h0M212.9 352.3h0M249.2 348.1h0M219.3 333.1h0M219.5 331.9h0M239.4 354.2h0M221.8 352.3h0M227.3 319.5h0M236.6 331.9h0M204.1 327.1h0M243.3 354.9h0M258.3 341.3h0M242.2 353.8h0M230.1 353.8h0M232.0 341.0h0M245.5 340.5h0M261.7 352.5h0M228.3 345.8h0M262.8 364.5h0M244.1 353.5h0M237.3 342.1h0M246.4 360.1h0M236.3 355.0h0M229.7 341.3h0M231.3 341.2h0M265.5 365.9h0M214.4 345.0h0M236.5 356.1h0M232.1 348.7h0M231.4 315.3h0M264.1 343.4h0M243.0 315.7h0M192.3 266.7h0M237.6 364.2h0M244.9 355.5h0M215.9 348.5h0M243.0 344.0h0M279.3 340.2h0M234.9 336.9h0M241.5 377.6h0M250.1 367.4h0M249.8 368.7h0M235.1 359.7h0M226.3 342.8h0M229.6 356.2h0M219.2 363.9h0M226.2 338.3h0M224.5 325.2h0M221.6 367.2h0M221.0 355.0h0M217.4 365.5h0M235.0 367.3h0M227.0 351.4h0M227.0 333.2h0M261.6 363.3h0M222.5 350.8h0M237.3 349.2h0M238.5 361.0h0M236.4 340.1h0M237.8 356.1h0M238.8 359.9h0M229.1 352.9h0M245.7 328.9h0M269.9 370.6h0M221.9 313.5h0M214.1 356.7h0M199.3 340.1h0M247.6 366.1h0M270.4 330.1h0M225.7 334.7h0M218.2 320.1h0M210.2 312.4h0M238.5 356.6h0M220.6 324.1h0M233.8 366.3h0M250.5 361.1h0M251.3 358.1h0M246.3 353.4h0M189.5 338.5h0M233.1 359.3h0M226.9 347.0h0M227.3 332.7h0M240.4 350.0h0M212.1 320.9h0M250.5 339.7h0M252.5 352.0h0M234.0 362.9h0M249.6 372.9h0M251.4 349.7h0M216.3 346.6h0M235.1 360.7h0M247.2 333.8h0M239.2 352.3h0M227.1 327.9h0M260.4 326.5h0M218.1 324.6h0M224.1 334.0h0M248.5 326.9h0M235.4 333.2h0M205.2 346.0h0M244.1 354.4h0M236.3 334.5h0M238.1 344.3h0M238.3 350.8h0M206.1 313.2h0M209.4 340.6h0M193.2 349.0h0M288.7 354.4h0M221.0 339.6h0M246.7 353.6h0M220.9 339.5h0M220.7 329.9h0M246.8 325.5h0M228.1 359.8h0M195.3 352.8h0M235.8 360.2h0M237.6 369.2h0M253.3 374.0h0M253.9 366.5h0M241.9 357.1h0M244.7 372.6h0M282.8 328.2h0M223.6 329.1h0M259.1 352.2h0M211.9 343.2h0M241.5 325.8h0M241.1 353.9h0M218.2 337.8h0M214.3 371.0h0M224.9 313.4h0M236.4 357.0h0M249.6 356.3h0M249.0 364.9h0M240.5 359.5h0M256.0 349.6h0M274.7 364.0h0M223.6 323.4h0M216.4 341.9h0M278.5 377.2h0M233.3 348.0h0M226.1 331.4h0M224.0 348.5h0M224.0 326.2h0M225.6 344.7h0M247.0 341.4h0M255.6 313.7h0M234.0 352.2h0M249.3 306.7h0M284.1 342.1h0M200.3 332.8h0M243.4 356.2h0M224.8 321.0h0M240.0 335.0h0M207.3 329.1h0M240.9 336.0h0M241.3 346.2h0M230.9 340.7h0M243.0 360.9h0M237.6 346.3h0M234.1 350.9h0M229.1 332.6h0M232.0 354.6h0M234.8 336.6h0M195.7 325.3h0M249.3 353.5h0M223.9 371.0h0M237.0 363.7h0M256.1 354.3h0M262.9 371.4h0M205.0 325.9h0M242.1 350.1h0M240.0 351.2h0M271.2 351.9h0M200.7 347.5h0M258.0 311.9h0M239.7 349.7h0M238.2 362.8h0M278.8 350.0h0M264.9 381.1h0M242.7 345.7h0M252.5 361.2h0M227.3 348.6h0M252.6 370.9h0M225.5 344.8h0M247.0 376.8h0M244.7 339.8h0M236.1 356.6h0M224.0 333.1h0M250.7 371.6h0M247.6 337.1h0M242.5 386.1h0M241.4 327.6h0M243.4 344.7h0M278.1 377.2h0M243.9 351.5h0M214.0 326.6h0M240.8 365.1h0M280.5 356.2h0M220.4 337.6h0M245.7 315.8h0M239.2 335.1h0M210.9 316.9h0M222.8 344.5h0M243.0 351.1h0M236.7 351.8h0M228.5 316.4h0M249.2 359.8h0M235.0 355.1h0M269.5 363.6h0M258.2 353.7h0M212.5 322.6h0M242.6 354.7h0M257.9 333.5h0M256.1 332.9h0M235.6 356.9h0M242.5 362.3h0M229.8 324.9h0M265.8 352.7h0M226.4 333.5h0M241.5 340.0h0M253.9 349.7h0M236.7 339.5h0M224.5 338.2h0M232.5 377.8h0M212.4 330.6h0M205.8 361.9h0M291.4 369.9h0M273.2 333.9h0M228.3 359.1h0M247.2 344.6h0M254.5 365.1h0M223.5 348.0h0M243.6 347.3h0M236.6 333.9h0M238.7 356.0h0M231.1 330.9h0M208.1 345.7h0M224.2 350.4h0M306.5 379.9h0M232.1 358.7h0M226.4 353.3h0M186.1 290.5h0M244.6 341.1h0M231.3 355.1h0M214.4 347.1h0M270.4 348.4h0M231.1 341.7h0M308.3 358.3h0M211.7 352.7h0M218.8 340.4h0M264.5 355.5h0M233.8 354.6h0M247.3 348.7h0M204.5 339.0h0M252.9 373.8h0M228.5 364.0h0M233.7 333.8h0M217.8 333.7h0M226.5 354.9h0M238.4 359.8h0M241.8 344.3h0M205.5 330.3h0M238.2 337.5h0M244.4 375.3h0M221.1 348.8h0M230.9 338.4h0M201.4 323.3h0M262.7 356.0h0M272.4 380.4h0M264.9 339.9h0M235.3 348.6h0M224.8 352.6h0M282.8 363.3h0M221.2 339.9h0M206.3 289.3h0M231.8 354.7h0M220.7 320.6h0M212.6 348.1h0M234.0 355.1h0M203.0 358.4h0M239.9 354.4h0M231.1 336.4h0M220.7 338.2h0M219.7 355.6h0M233.3 364.5h0M235.7 343.4h0M242.2 365.9h0M248.2 336.2h0M297.5 374.9h0M213.2 356.4h0M241.8 362.4h0M236.3 365.9h0M235.7 372.9h0M217.8 348.4h0M251.0 345.4h0M236.2 332.8h0M263.6 357.4h0M209.5 337.0h0M244.8 361.2h0M241.9 351.9h0M252.1 364.9h0M234.8 334.3h0M275.1 345.4h0M232.3 313.7h0M249.8 334.6h0M239.3 369.2h0M276.7 384.2h0M227.0 339.8h0M237.7 347.3h0M239.5 353.4h0M228.8 345.7h0M237.9 347.1h0M253.0 371.3h0M242.8 306.2h0M235.4 330.5h0M235.8 335.9h0M276.4 356.1h0M195.5 349.5h0M223.5 357.1h0M216.5 336.6h0M224.0 305.1h0M243.0 360.1h0M222.9 349.8h0M232.7 336.2h0M231.3 342.3h0M296.5 381.0h0M228.7 329.0h0M237.1 357.0h0M211.6 343.3h0M241.6 337.6h0M199.7 333.8h0M232.8 344.2h0M214.2 334.3h0M247.7 357.5h0M229.3 341.1h0M253.2 355.5h0M228.1 342.2h0M232.6 378.2h0M221.1 337.6h0M249.5 345.3h0M241.6 334.4h0M233.3 329.4h0M256.0 372.4h0M224.1 330.4h0M209.5 348.1h0M229.1 352.3h0M232.1 359.1h0M257.6 356.9h0M218.6 331.5h0M260.3 326.0h0M215.4 303.3h0M225.2 341.0h0M194.8 328.8h0M231.6 338.2h0M246.1 341.0h0M251.9 352.5h0M271.8 337.7h0M235.0 348.0h0M223.0 352.7h0M226.5 352.9h0M198.7 379.4h0M213.5 338.4h0M219.5 351.0h0M248.1 358.2h0M220.7 333.3h0M244.3 354.1h0M228.0 314.1h0M306.9 371.0h0M267.4 333.9h0M223.9 345.7h0M221.3 345.2h0M235.3 344.2h0M210.8 314.4h0M250.9 352.1h0M262.9 358.8h0M225.9 358.2h0M222.7 335.2h0M206.9 338.5h0M229.4 353.3h0M235.6 355.8h0M234.0 324.5h0M246.5 352.0h0M237.4 359.5h0M217.0 332.3h0M240.5 362.7h0M235.0 341.2h0M245.7 364.5h0M220.2 332.1h0M241.6 354.4h0M240.7 344.2h0M215.1 359.6h0M278.7 379.6h0M233.9 343.3h0M211.9 346.8h0M192.2 362.7h0M227.6 332.0h0M241.3 354.8h0M278.5 304.1h0M265.9 361.9h0M235.9 345.0h0M245.6 356.0h0M223.1 358.0h0M234.6 354.7h0M229.4 344.8h0M205.8 334.8h0M249.3 345.0h0M230.7 318.1h0M300.1 363.5h0M224.7 341.8h0M268.4 368.9h0M262.9 358.0h0M251.2 347.5h0M262.8 358.7h0M242.3 318.9h0M223.8 344.3h0M223.7 342.6h0M216.8 332.7h0M217.5 341.9h0M230.3 351.9h0M280.6 375.2h0M225.1 332.1h0M251.7 343.0h0M241.6 352.4h0M211.0 354.4h0M270.1 359.2h0M234.8 358.1h0M230.4 340.5h0M229.6 361.0h0M279.4 356.4h0M251.3 373.2h0M213.8 355.8h0M222.7 329.1h0M252.7 328.7h0M244.7 327.2h0M242.0 341.4h0M219.7 317.2h0M221.6 332.4h0M232.6 360.8h0M232.2 376.3h0M213.9 324.7h0M249.7 364.3h0M222.7 354.9h0M226.0 365.1h0M300.5 331.4h0M222.8 330.2h0M251.7 351.2h0M265.5 358.3h0M228.8 364.0h0M253.8 357.5h0M234.2 332.6h0M216.7 358.0h0M226.2 352.2h0M248.6 347.8h0M207.9 353.0h0M236.9 360.4h0M237.9 352.4h0M229.9 357.2h0M260.4 353.2h0M200.1 316.1h0M237.1 334.7h0M236.5 358.9h0M223.5 351.6h0M238.5 346.9h0M209.9 326.0h0M201.5 360.4h0M213.8 345.1h0M228.3 346.4h0M226.0 350.0h0M250.1 352.1h0M256.4 357.4h0M222.8 330.9h0M220.2 351.3h0M240.2 364.9h0M229.5 317.9h0M219.6 354.6h0M231.1 344.4h0M228.4 343.7h0M256.1 346.5h0M235.9 350.3h0M223.9 366.4h0M205.3 345.9h0M227.5 328.8h0M231.0 323.3h0M243.9 350.7h0M221.3 346.3h0M239.5 372.1h0M223.2 360.2h0M259.6 375.2h0M225.1 347.8h0M221.5 343.8h0M223.0 355.6h0M243.3 356.8h0M190.4 323.9h0M247.9 347.4h0M205.7 351.0h0M228.0 346.1h0M221.1 347.9h0M226.0 336.2h0M209.9 342.9h0M228.5 361.5h0M240.7 329.3h0M227.6 352.7h0M264.9 372.4h0M247.8 350.8h0M243.3 345.7h0M222.1 333.7h0M268.1 373.4h0M239.5 348.1h0M225.1 350.7h0M250.4 340.9h0M223.2 368.4h0M232.1 345.1h0M228.6 356.0h0M224.2 350.9h0M223.0 341.7h0M225.3 351.4h0M238.0 372.7h0M242.3 338.7h0M225.5 332.8h0M224.1 337.8h0M264.1 369.6h0M222.5 337.3h0M221.9 338.5h0M205.6 321.2h0M303.2 315.4h0M209.8 322.0h0M226.7 363.9h0M293.3 367.7h0M231.4 333.8h0M246.8 368.0h0M219.4 350.2h0M228.6 289.3h0" stroke="#000" stroke-width="2.9" stroke-linecap="round"/>
<line x1="236.31" y1="261.90" x2="236.31" y2="386.20" stroke="#959595" stroke-width="1.05"/>
<line x1="185.35" y1="369.59" x2="309.65" y2="369.59" stroke="#959595" stroke-width="1.05"/>
<rect x="233.41" y="366.79" width="5.8" height="5.6" fill="#a4a4a4"/>
<line x1="244.97" y1="261.90" x2="244.97" y2="386.20" stroke="#ec1616" stroke-width="1.75"/>
<line x1="185.35" y1="341.05" x2="309.65" y2="341.05" stroke="#ec1616" stroke-width="1.75"/>
<rect x="242.02" y="338.10" width="5.9" height="5.9" fill="#e80000"/>
</g>
<rect x="185.35" y="261.90" width="124.30" height="124.30" fill="none" stroke="#3a3a3a" stroke-width="0.9"/>
<path d="M207.44 386.20v2.9M236.31 386.20v2.9M265.18 386.20v2.9M294.06 386.20v2.9M185.35 369.59h-2.9M185.35 340.27h-2.9M185.35 310.96h-2.9M185.35 281.64h-2.9" stroke="#000" stroke-width="0.8"/>
<clipPath id="c22"><rect x="315.90" y="261.90" width="124.30" height="124.30"/></clipPath>
<g clip-path="url(#c22)">
<line x1="332.51" y1="261.90" x2="332.51" y2="386.20" stroke="#959595" stroke-width="1.05"/>
<path d="M315.90 386.20L315.90 383.20L322.12 383.20L322.12 368.40L328.33 368.40L328.33 357.00L334.55 357.00L334.55 333.50L340.76 333.50L340.76 307.50L346.98 307.50L346.98 273.40L353.19 273.40L353.19 289.40L359.41 289.40L359.41 314.20L365.62 314.20L365.62 340.90L371.84 340.90L371.84 345.30L378.05 345.30L378.05 366.50L384.27 366.50L384.27 374.60L390.48 374.60L390.48 383.90L396.70 383.90L396.70 381.50L402.91 381.50L402.91 386.20L409.12 386.20L409.12 383.90L415.34 383.90L415.34 386.20L421.56 386.20L421.56 386.20L427.77 386.20L427.77 386.20L433.99 386.20L433.99 384.90L440.20 384.90L440.20 386.20" fill="none" stroke="#262626" stroke-width="1.1" stroke-linejoin="miter"/>
<line x1="361.05" y1="261.90" x2="361.05" y2="386.20" stroke="#ec1616" stroke-width="1.75"/>
</g>
<rect x="315.90" y="261.90" width="124.30" height="124.30" fill="none" stroke="#3a3a3a" stroke-width="0.9"/>
<path d="M332.51 386.20v2.9M361.83 386.20v2.9M391.14 386.20v2.9M420.46 386.20v2.9" stroke="#000" stroke-width="0.8"/>
<clipPath id="c03"><rect x="54.80" y="392.40" width="124.30" height="124.30"/></clipPath>
<g clip-path="url(#c03)">
<path d="M96.3 497.8h0M132.1 470.7h0M137.5 463.0h0M114.1 467.3h0M95.5 462.6h0M102.6 476.5h0M91.7 509.5h0M113.7 485.8h0M61.6 515.5h0M104.9 489.9h0M101.5 476.1h0M87.6 470.1h0M113.5 476.8h0M87.7 507.1h0M73.6 462.6h0M93.0 496.6h0M101.3 463.6h0M127.0 471.9h0M103.7 474.3h0M114.2 487.0h0M81.7 488.3h0M99.0 473.3h0M92.1 486.1h0M93.6 480.0h0M73.2 467.0h0M98.7 491.6h0M80.9 432.1h0M111.8 496.1h0M89.8 486.2h0M94.7 476.1h0M87.0 503.2h0M83.6 462.2h0M95.2 487.2h0M124.8 450.6h0M158.1 476.0h0M92.4 486.8h0M92.3 478.3h0M128.3 490.4h0M91.4 468.9h0M115.8 485.1h0M130.5 480.6h0M90.4 481.5h0M122.3 480.7h0M128.4 458.9h0M94.1 504.0h0M134.0 491.0h0M86.5 476.9h0M73.5 476.3h0M81.3 476.0h0M80.4 481.9h0M128.3 487.8h0M77.6 502.9h0M86.6 471.4h0M84.5 478.6h0M105.6 501.8h0M95.5 491.1h0M98.9 487.5h0M88.2 469.8h0M94.1 493.7h0M97.0 473.6h0M128.3 484.0h0M103.5 511.7h0M126.9 483.9h0M95.4 473.3h0M98.8 456.1h0M106.5 503.1h0M101.9 471.3h0M89.5 493.9h0M109.1 479.3h0M122.5 491.1h0M98.0 458.4h0M115.6 494.8h0M107.1 480.1h0M127.2 478.6h0M67.3 443.4h0M93.5 489.4h0M110.5 499.4h0M101.7 508.1h0M102.3 492.9h0M102.9 459.8h0M119.2 479.7h0M108.5 486.2h0M156.5 499.6h0M90.2 484.7h0M92.6 478.7h0M133.8 490.8h0M104.3 484.6h0M70.7 455.0h0M96.1 477.8h0M83.1 493.4h0M89.8 482.1h0M109.4 476.0h0M109.0 474.5h0M102.4 469.1h0M101.6 487.5h0M106.9 494.8h0M137.7 479.8h0M76.3 477.3h0M87.8 486.5h0M99.1 463.3h0M91.7 494.3h0M75.7 453.3h0M90.5 455.0h0M103.8 475.7h0M84.0 462.7h0M82.5 467.0h0M116.9 484.0h0M103.9 493.1h0M87.9 488.1h0M103.1 480.3h0M119.6 475.8h0M109.6 461.5h0M108.0 464.6h0M148.8 480.5h0M103.6 488.2h0M111.7 475.5h0M97.4 474.4h0M90.8 494.4h0M129.2 497.2h0M99.0 484.0h0M111.6 480.7h0M154.6 502.5h0M90.2 473.7h0M90.0 492.8h0M106.2 487.1h0M113.4 496.4h0M100.7 474.2h0M120.5 484.9h0M86.7 471.5h0M94.9 482.6h0M114.7 471.2h0M145.5 503.3h0M100.1 509.7h0M94.4 476.7h0M146.5 494.6h0M109.4 507.4h0M98.0 490.2h0M96.2 485.7h0M104.4 464.6h0M88.2 467.6h0M100.7 490.0h0M107.8 482.7h0M120.8 478.7h0M99.2 504.1h0M88.3 496.9h0M86.4 481.6h0M86.1 491.0h0M84.6 490.6h0M108.2 481.3h0M108.4 484.6h0M93.1 472.2h0M92.6 498.7h0M93.4 468.6h0M97.6 425.4h0M68.8 395.0h0M94.8 473.4h0M114.0 490.8h0M77.8 503.0h0M100.5 463.9h0M87.2 502.4h0M87.1 471.5h0M105.9 482.5h0M104.1 495.2h0M102.2 478.7h0M89.8 466.3h0M132.2 476.0h0M96.6 480.8h0M94.8 481.4h0M107.1 458.2h0M81.4 445.4h0M105.4 515.0h0M113.6 488.6h0M101.3 493.2h0M108.4 452.7h0M87.7 469.7h0M100.4 477.2h0M99.7 472.8h0M114.5 482.5h0M91.0 451.6h0M107.8 500.1h0M95.5 499.6h0M127.3 486.1h0M132.5 475.5h0M108.4 471.0h0M92.6 471.9h0M122.2 480.2h0M89.7 493.9h0M79.9 476.6h0M116.5 479.9h0M105.9 487.8h0M86.9 469.8h0M117.3 500.8h0M94.2 484.2h0M93.2 470.1h0M95.8 458.9h0M86.4 485.8h0M108.9 444.9h0M134.8 479.7h0M89.8 480.1h0M102.0 490.1h0M87.7 503.4h0M104.8 471.0h0M122.4 474.4h0M77.6 464.2h0M100.3 477.5h0M78.6 470.3h0M101.4 502.8h0M148.1 481.9h0M89.8 494.5h0M98.0 496.7h0M94.2 490.0h0M128.5 483.6h0M106.2 494.9h0M112.2 485.4h0M95.9 504.2h0M96.5 473.1h0M90.2 476.2h0M74.7 496.6h0M116.6 430.7h0M96.1 489.8h0M99.9 503.3h0M99.7 457.7h0M105.6 463.0h0M101.6 480.9h0M96.0 459.2h0M104.5 467.2h0M106.3 495.4h0M118.4 492.9h0M86.5 480.2h0M103.7 487.4h0M87.5 489.8h0M93.9 483.9h0M106.3 473.5h0M76.5 494.0h0M111.0 494.1h0M99.0 460.7h0M93.8 458.2h0M104.1 481.4h0M75.7 472.0h0M93.3 469.6h0M110.9 493.9h0M98.6 487.3h0M83.1 480.2h0M96.1 470.4h0M74.3 505.2h0M88.1 490.7h0M93.1 498.1h0M98.2 492.8h0M91.0 484.0h0M121.0 477.8h0M115.3 480.7h0M129.3 473.8h0M152.5 487.5h0M93.7 497.2h0M115.3 464.9h0M103.6 498.6h0M103.7 478.8h0M92.4 442.8h0M117.4 489.8h0M86.7 396.6h0M134.4 397.0h0M69.8 478.3h0M82.2 481.1h0M124.6 484.2h0M79.9 484.4h0M98.8 479.3h0M85.2 487.9h0M118.0 504.1h0M69.6 495.3h0M114.2 504.8h0M106.8 488.7h0M110.5 480.1h0M99.2 498.7h0M119.6 491.5h0M133.8 476.6h0M89.0 463.1h0M107.1 503.4h0M137.3 499.8h0M111.3 495.9h0M125.4 507.2h0M131.9 484.8h0M113.8 470.5h0M99.3 495.8h0M106.6 482.9h0M102.2 481.9h0M114.7 493.2h0M97.4 469.2h0M107.4 494.5h0M100.8 491.1h0M96.0 492.5h0M97.9 462.7h0M95.4 489.1h0M107.9 449.1h0M108.4 485.2h0M100.1 494.4h0M95.0 492.6h0M106.8 482.4h0M97.6 481.6h0M84.7 445.0h0M107.9 444.6h0M96.9 487.0h0M124.0 438.4h0M93.5 498.7h0M92.8 501.1h0M101.0 490.9h0M92.8 485.1h0M157.7 480.6h0M134.5 489.2h0M111.3 483.6h0M106.8 474.0h0M127.8 489.6h0M100.4 441.1h0M94.1 492.4h0M87.5 484.1h0M120.8 491.6h0M137.1 499.7h0M92.6 475.9h0M138.1 486.8h0M106.3 486.3h0M79.3 459.1h0M102.3 503.7h0M95.9 470.4h0M94.3 445.9h0M96.3 454.0h0M114.4 467.8h0M129.6 502.8h0M94.0 474.2h0M148.8 486.5h0M103.1 480.0h0M99.4 466.2h0M94.4 462.8h0M87.4 481.3h0M90.8 458.1h0M112.1 471.5h0M122.4 490.0h0M83.6 486.6h0M126.7 476.3h0M82.7 493.9h0M100.8 464.8h0M129.1 468.8h0M89.4 450.5h0M97.8 500.2h0M128.0 479.9h0M86.7 497.2h0M119.7 492.5h0M88.8 496.6h0M116.3 496.3h0M104.4 495.8h0M79.2 478.6h0M77.8 451.9h0M148.3 461.5h0M84.9 493.8h0M122.6 476.8h0M80.2 463.3h0M104.9 490.5h0M103.3 471.8h0M115.5 499.8h0M107.6 469.1h0M89.7 490.0h0M126.0 483.5h0M133.3 499.6h0M122.2 481.4h0M74.4 475.5h0M82.9 489.0h0M103.9 462.4h0M97.0 482.2h0M76.3 504.6h0M112.3 483.3h0M111.6 466.2h0M114.9 476.9h0M121.8 467.3h0M93.0 481.1h0M70.3 444.4h0M78.6 445.0h0M118.5 483.0h0M90.5 453.0h0M113.6 450.8h0M126.5 480.6h0M118.1 486.6h0M98.1 460.1h0M86.0 481.0h0M122.9 486.6h0M96.8 467.0h0M86.4 461.6h0M99.0 477.2h0M89.1 491.3h0M110.7 480.7h0M106.3 481.7h0M88.3 473.0h0M84.4 489.0h0M122.3 486.2h0M159.4 480.9h0M105.8 477.9h0M109.1 497.7h0M146.9 490.8h0M100.0 489.5h0M76.4 488.5h0M151.0 474.6h0M83.4 479.9h0M82.7 503.5h0M92.3 486.2h0M126.7 479.7h0M77.3 455.8h0M77.6 497.3h0M130.7 491.7h0M80.3 486.7h0M81.5 513.7h0M81.7 496.1h0M106.3 495.6h0M102.4 479.9h0M91.6 498.7h0M115.5 488.4h0M104.2 508.3h0M104.9 485.1h0M106.6 500.1h0M90.0 475.4h0M95.7 501.1h0M77.7 451.0h0M112.5 516.7h0M84.0 479.5h0M102.6 471.3h0M80.1 512.6h0M116.2 485.2h0M104.2 467.1h0M102.2 496.6h0M75.4 489.7h0M100.9 474.1h0M95.1 460.7h0M95.9 478.7h0M111.7 465.4h0M104.8 489.7h0M93.4 488.2h0M105.5 481.9h0M109.7 444.6h0M84.3 492.9h0M93.1 493.6h0M65.8 497.1h0M108.4 493.2h0M128.3 477.1h0M91.7 487.2h0M96.7 475.1h0M83.1 455.6h0M117.2 487.0h0M96.1 497.7h0M104.5 459.2h0M88.2 473.2h0M137.0 474.5h0M113.4 477.6h0M98.7 489.6h0M93.5 473.5h0M108.5 473.1h0M92.6 499.0h0M120.3 475.3h0M152.1 499.8h0M95.5 496.4h0M76.3 475.2h0M104.0 493.0h0M90.2 477.5h0M94.1 503.2h0M98.1 488.4h0M113.1 474.8h0M133.2 468.0h0M88.2 495.5h0M126.3 473.5h0M144.0 481.4h0M105.0 483.1h0M99.4 502.5h0M84.0 500.4h0M88.0 488.4h0M133.8 450.7h0M78.4 486.0h0M89.9 492.9h0M107.4 465.5h0M95.4 457.0h0M103.8 484.4h0M61.8 498.7h0M78.6 487.7h0M137.2 473.3h0M145.4 480.6h0M98.5 473.6h0M109.5 474.5h0M111.5 493.3h0M114.7 503.9h0M107.4 494.3h0M157.2 459.8h0M118.7 470.8h0M105.4 503.0h0M97.8 498.8h0M94.2 474.8h0M108.2 477.5h0M85.1 473.8h0M112.1 510.8h0M109.7 477.3h0M102.9 473.3h0M98.4 438.2h0M73.8 497.8h0M81.9 516.0h0M90.0 457.4h0M114.0 486.5h0M95.6 474.5h0M84.4 500.3h0M110.5 473.8h0M108.8 405.6h0M88.1 475.3h0M117.9 462.7h0M99.7 496.0h0M103.2 485.2h0M156.3 503.7h0M97.1 481.3h0M101.8 471.6h0M89.0 479.8h0M97.1 500.1h0M105.3 502.5h0M114.6 470.9h0M96.6 506.8h0M94.8 485.0h0M67.9 494.7h0M112.8 489.9h0M99.5 495.0h0M83.1 507.7h0M108.1 511.8h0M87.0 475.2h0M102.7 464.0h0M141.8 467.5h0M108.6 485.1h0M101.0 489.1h0M105.4 498.7h0M141.3 474.7h0M85.1 497.4h0M90.8 482.0h0M95.2 490.8h0M92.0 466.6h0M91.5 468.4h0M116.4 500.8h0M62.4 509.9h0M132.5 483.5h0M94.0 486.7h0M134.7 502.3h0M125.6 470.3h0M102.3 468.6h0M97.2 502.3h0M73.7 444.4h0M117.8 466.7h0M109.2 468.8h0M99.6 495.9h0M157.1 475.5h0M93.7 492.2h0M152.5 447.4h0M86.8 423.7h0M103.8 501.3h0M111.4 472.9h0M124.7 468.3h0M77.3 490.6h0M108.8 515.1h0M102.8 468.7h0M109.9 481.2h0M114.0 485.9h0M84.5 455.6h0M63.5 490.2h0M92.4 478.1h0M98.2 478.2h0M99.8 494.9h0M121.7 484.2h0M92.9 480.2h0M99.7 486.1h0M108.7 494.8h0M114.3 486.6h0M96.4 484.1h0M130.5 463.5h0M105.5 473.0h0M93.4 489.4h0M79.9 474.8h0M154.2 484.7h0M126.2 465.3h0M122.7 484.9h0M83.7 496.6h0M81.6 486.6h0M77.0 464.0h0M111.1 459.5h0M108.2 485.0h0M144.0 449.4h0M132.5 449.3h0M92.4 480.9h0M97.5 488.7h0M78.2 474.0h0M110.2 483.0h0M103.4 482.2h0M98.1 493.8h0M141.2 515.0h0M121.7 465.8h0M112.7 494.6h0M87.2 484.3h0M101.5 465.9h0M97.3 480.1h0M123.9 428.4h0M76.1 502.3h0M86.0 460.9h0M102.0 484.3h0M114.3 484.7h0M120.5 469.1h0M115.2 470.0h0M93.9 493.1h0M86.8 497.6h0M98.4 489.7h0M123.8 458.1h0M107.1 479.2h0M98.4 493.5h0M127.4 492.2h0M93.1 450.2h0M111.0 470.3h0M91.1 491.6h0M112.1 449.0h0M102.5 492.0h0M108.2 475.5h0M86.8 497.3h0M85.6 478.6h0M93.0 486.1h0M85.1 466.7h0M118.3 484.0h0M63.2 514.0h0M88.6 479.7h0M131.5 486.8h0M117.2 490.8h0M108.2 460.6h0M106.6 490.5h0M62.6 394.5h0M110.8 503.8h0M120.6 461.4h0M77.0 496.8h0M105.5 490.5h0M101.8 496.0h0M98.3 480.2h0M157.0 468.1h0M101.7 479.5h0M112.4 463.1h0M76.8 478.1h0M127.1 470.1h0M100.0 475.6h0M79.1 488.8h0M118.3 485.3h0M78.9 498.0h0M103.3 458.6h0M128.5 475.1h0M108.1 465.3h0M115.8 459.5h0M152.8 464.5h0M103.4 504.6h0M72.3 496.1h0M106.6 480.0h0M91.8 476.5h0M104.4 484.8h0M97.0 472.8h0M87.9 502.0h0M126.6 493.8h0M109.2 475.3h0M93.9 495.8h0M85.7 497.0h0M116.4 513.0h0M106.1 488.3h0M129.1 448.8h0M98.7 454.7h0M77.5 473.7h0M91.3 486.0h0M90.2 453.8h0M110.2 472.8h0M107.8 498.8h0M111.6 497.8h0M108.8 456.7h0M75.7 501.1h0M83.2 489.8h0M119.2 510.5h0M92.8 470.2h0M103.5 466.9h0M107.7 483.8h0M96.6 514.3h0M94.5 494.4h0M95.4 494.7h0M99.9 477.1h0M117.0 484.2h0M96.5 494.4h0M93.3 481.1h0M111.2 478.7h0M100.0 484.5h0M107.3 490.8h0M94.3 487.8h0M98.8 473.3h0M125.8 436.6h0M111.0 486.1h0M115.4 501.3h0M115.7 492.6h0M99.4 468.7h0M121.8 465.6h0M154.4 502.7h0M101.0 481.4h0M118.0 471.9h0M105.0 496.5h0M84.0 497.4h0M115.0 489.2h0M94.0 449.5h0M109.5 482.3h0M88.0 503.3h0M102.1 455.9h0M103.1 482.5h0M94.8 466.8h0M116.9 482.1h0M93.6 486.5h0M80.4 480.6h0M95.3 490.4h0M126.4 476.7h0M109.4 468.6h0M140.3 464.9h0M94.2 489.5h0M106.2 486.4h0M109.4 500.0h0M95.8 496.4h0M154.7 510.7h0M87.2 485.9h0M102.5 462.0h0M105.5 496.0h0M85.4 488.7h0M159.8 450.1h0M124.5 488.9h0M118.4 491.0h0M93.0 483.2h0M111.8 486.9h0M113.0 483.7h0M106.3 494.4h0M126.7 494.9h0M126.3 496.6h0M99.9 483.7h0M88.5 509.4h0M101.5 485.1h0M121.6 487.1h0M120.9 472.1h0M85.2 506.6h0M93.8 467.9h0M98.7 487.9h0M93.5 481.4h0M116.9 500.3h0M102.4 468.5h0M100.4 480.8h0M104.2 488.1h0M95.8 486.5h0M97.4 478.3h0M75.7 499.7h0M98.5 484.5h0M92.4 474.5h0M116.1 467.1h0M97.4 498.2h0M103.0 468.5h0M107.1 478.1h0M121.7 447.5h0M111.4 442.2h0M111.4 468.2h0M113.0 503.8h0M74.7 494.4h0M95.1 471.9h0M84.0 491.9h0M127.8 489.5h0M86.4 447.2h0" stroke="#000" stroke-width="2.9" stroke-linecap="round"/>
<line x1="102.47" y1="392.40" x2="102.47" y2="516.70" stroke="#959595" stroke-width="1.05"/>
<line x1="54.80" y1="497.85" x2="179.10" y2="497.85" stroke="#959595" stroke-width="1.05"/>
<rect x="99.57" y="495.05" width="5.8" height="5.6" fill="#a4a4a4"/>
<line x1="137.86" y1="392.40" x2="137.86" y2="516.70" stroke="#ec1616" stroke-width="1.75"/>
<line x1="54.80" y1="470.19" x2="179.10" y2="470.19" stroke="#ec1616" stroke-width="1.75"/>
<rect x="134.91" y="467.24" width="5.9" height="5.9" fill="#e80000"/>
</g>
<rect x="54.80" y="392.40" width="124.30" height="124.30" fill="none" stroke="#3a3a3a" stroke-width="0.9"/>
<path d="M73.23 516.70v2.9M102.47 516.70v2.9M131.72 516.70v2.9M160.97 516.70v2.9M54.80 497.85h-2.9M54.80 467.52h-2.9M54.80 437.20h-2.9M54.80 406.87h-2.9" stroke="#000" stroke-width="0.8"/>
<clipPath id="c13"><rect x="185.35" y="392.40" width="124.30" height="124.30"/></clipPath>
<g clip-path="url(#c13)">
<path d="M246.5 497.8h0M224.3 470.7h0M193.6 463.0h0M205.0 467.3h0M241.2 462.6h0M238.0 476.5h0M227.9 509.5h0M205.5 485.8h0M270.5 515.5h0M237.4 489.9h0M236.8 476.1h0M219.5 470.1h0M227.9 476.8h0M240.8 507.1h0M288.8 462.6h0M228.2 496.6h0M218.1 463.6h0M213.8 471.9h0M273.7 474.3h0M229.4 487.0h0M237.4 488.3h0M286.0 473.3h0M246.7 486.1h0M241.8 480.0h0M233.9 467.0h0M236.3 491.6h0M214.4 432.1h0M253.2 496.1h0M261.1 486.2h0M232.8 476.1h0M257.6 503.2h0M239.4 462.2h0M235.3 487.2h0M223.9 450.6h0M203.2 476.0h0M223.2 486.8h0M232.6 478.3h0M208.2 490.4h0M229.2 468.9h0M214.3 485.1h0M212.0 480.6h0M207.7 481.5h0M232.1 480.7h0M211.6 458.9h0M244.8 504.0h0M248.5 491.0h0M213.9 476.9h0M237.0 476.3h0M245.2 476.0h0M257.4 481.9h0M208.1 487.8h0M242.6 502.9h0M254.0 471.4h0M238.4 478.6h0M229.5 501.8h0M216.7 491.1h0M229.8 487.5h0M212.8 469.8h0M242.9 493.7h0M259.2 473.6h0M207.6 484.0h0M253.4 511.7h0M241.6 483.9h0M241.1 473.3h0M246.6 456.1h0M253.9 503.1h0M215.8 471.3h0M250.6 493.9h0M222.4 479.3h0M234.3 491.1h0M220.3 458.4h0M223.0 494.8h0M232.2 480.1h0M201.9 478.6h0M238.7 443.4h0M231.2 489.4h0M226.5 499.4h0M265.4 508.1h0M304.8 492.9h0M222.2 459.8h0M234.7 479.7h0M236.1 486.2h0M225.8 499.6h0M224.2 484.7h0M228.3 478.7h0M247.4 490.8h0M236.4 484.6h0M258.6 455.0h0M250.9 477.8h0M251.8 493.4h0M237.2 482.1h0M216.8 476.0h0M213.2 474.5h0M227.6 469.1h0M229.6 487.5h0M219.2 494.8h0M229.1 479.8h0M234.0 477.3h0M259.8 486.5h0M302.7 463.3h0M234.7 494.3h0M238.5 453.3h0M227.2 455.0h0M241.8 475.7h0M204.5 462.7h0M260.4 467.0h0M214.9 484.0h0M247.8 493.1h0M235.0 488.1h0M240.1 480.3h0M219.4 475.8h0M220.9 461.5h0M247.1 464.6h0M196.6 480.5h0M225.8 488.2h0M206.6 475.5h0M238.8 474.4h0M233.3 494.4h0M226.8 497.2h0M239.5 484.0h0M223.5 480.7h0M219.3 502.5h0M227.1 473.7h0M249.6 492.8h0M232.1 487.1h0M253.5 496.4h0M232.9 474.2h0M235.1 484.9h0M223.2 471.5h0M223.7 482.6h0M210.1 471.2h0M239.4 503.3h0M223.7 509.7h0M243.0 476.7h0M210.4 494.6h0M274.4 507.4h0M237.5 490.2h0M261.3 485.7h0M210.4 464.6h0M223.3 467.6h0M244.9 490.0h0M232.7 482.7h0M216.7 478.7h0M252.6 504.1h0M280.8 496.9h0M262.7 481.6h0M266.5 491.0h0M264.8 490.6h0M219.1 481.3h0M211.1 484.6h0M241.1 472.2h0M276.2 498.7h0M214.5 468.6h0M236.4 425.4h0M242.1 395.0h0M243.2 473.4h0M246.7 490.8h0M248.6 503.0h0M225.0 463.9h0M244.5 502.4h0M236.5 471.5h0M212.2 482.5h0M244.8 495.2h0M245.3 478.7h0M237.0 466.3h0M202.2 476.0h0M218.2 480.8h0M256.4 481.4h0M250.8 458.2h0M232.5 445.4h0M231.5 515.0h0M205.1 488.6h0M240.5 493.2h0M213.3 452.7h0M226.1 469.7h0M213.7 477.2h0M232.7 472.8h0M256.2 482.5h0M225.6 451.6h0M222.7 500.1h0M255.1 499.6h0M214.4 486.1h0M234.6 475.5h0M250.7 471.0h0M227.5 471.9h0M229.0 480.2h0M230.0 493.9h0M228.4 476.6h0M217.9 479.9h0M233.0 487.8h0M269.7 469.8h0M197.6 500.8h0M227.8 484.2h0M229.7 470.1h0M193.4 458.9h0M207.0 485.8h0M210.5 444.9h0M205.9 479.7h0M268.2 480.1h0M231.2 490.1h0M255.7 503.4h0M238.0 471.0h0M214.8 474.4h0M259.4 464.2h0M230.6 477.5h0M268.4 470.3h0M232.7 502.8h0M201.5 481.9h0M223.8 494.5h0M221.2 496.7h0M242.2 490.0h0M212.7 483.6h0M245.6 494.9h0M236.2 485.4h0M275.2 504.2h0M234.2 473.1h0M241.8 476.2h0M243.8 496.6h0M220.3 430.7h0M216.1 489.8h0M256.7 503.3h0M232.4 457.7h0M213.3 463.0h0M244.2 480.9h0M241.1 459.2h0M237.8 467.2h0M212.8 495.4h0M224.5 492.9h0M233.2 480.2h0M212.9 487.4h0M249.2 489.8h0M219.3 483.9h0M219.5 473.5h0M239.4 494.0h0M221.8 494.1h0M227.3 460.7h0M236.6 458.2h0M204.1 481.4h0M243.3 472.0h0M258.3 469.6h0M242.2 493.9h0M230.1 487.3h0M232.0 480.2h0M245.5 470.4h0M261.7 505.2h0M228.3 490.7h0M262.8 498.1h0M244.1 492.8h0M237.3 484.0h0M246.4 477.8h0M236.3 480.7h0M229.7 473.8h0M231.3 487.5h0M265.5 497.2h0M214.4 464.9h0M236.5 498.6h0M232.1 478.8h0M231.4 442.8h0M264.1 489.8h0M243.0 396.6h0M192.3 397.0h0M237.6 478.3h0M244.9 481.1h0M215.9 484.2h0M243.0 484.4h0M279.3 479.3h0M234.9 487.9h0M241.5 504.1h0M250.1 495.3h0M249.8 504.8h0M235.1 488.7h0M226.3 480.1h0M229.6 498.7h0M219.2 491.5h0M226.2 476.6h0M224.5 463.1h0M221.6 503.4h0M221.0 499.8h0M217.4 495.9h0M235.0 507.2h0M227.0 484.8h0M227.0 470.5h0M261.6 495.8h0M222.5 482.9h0M237.3 481.9h0M238.5 493.2h0M236.4 469.2h0M237.8 494.5h0M238.8 491.1h0M229.1 492.5h0M245.7 462.7h0M269.9 489.1h0M221.9 449.1h0M214.1 485.2h0M199.3 494.4h0M247.6 492.6h0M270.4 482.4h0M225.7 481.6h0M218.2 445.0h0M210.2 444.6h0M238.5 487.0h0M220.6 438.4h0M233.8 498.7h0M250.5 501.1h0M251.3 490.9h0M246.3 485.1h0M189.5 480.6h0M233.1 489.2h0M226.9 483.6h0M227.3 474.0h0M240.4 489.6h0M212.1 441.1h0M250.5 492.4h0M252.5 484.1h0M234.0 491.6h0M249.6 499.7h0M251.4 475.9h0M216.3 486.8h0M235.1 486.3h0M247.2 459.1h0M239.2 503.7h0M227.1 470.4h0M260.4 445.9h0M218.1 454.0h0M224.1 467.8h0M248.5 502.8h0M235.4 474.2h0M205.2 486.5h0M244.1 480.0h0M236.3 466.2h0M238.1 462.8h0M238.3 481.3h0M206.1 458.1h0M209.4 471.5h0M193.2 490.0h0M288.7 486.6h0M221.0 476.3h0M246.7 493.9h0M220.9 464.8h0M220.7 468.8h0M246.8 450.5h0M228.1 500.2h0M195.3 479.9h0M235.8 497.2h0M237.6 492.5h0M253.3 496.6h0M253.9 496.3h0M241.9 495.8h0M244.7 478.6h0M282.8 451.9h0M223.6 461.5h0M259.1 493.8h0M211.9 476.8h0M241.5 463.3h0M241.1 490.5h0M218.2 471.8h0M214.3 499.8h0M224.9 469.1h0M236.4 490.0h0M249.6 483.5h0M249.0 499.6h0M240.5 481.4h0M256.0 475.5h0M274.7 489.0h0M223.6 462.4h0M216.4 482.2h0M278.5 504.6h0M233.3 483.3h0M226.1 466.2h0M224.0 476.9h0M224.0 467.3h0M225.6 481.1h0M247.0 444.4h0M255.6 445.0h0M234.0 483.0h0M249.3 453.0h0M284.1 450.8h0M200.3 480.6h0M243.4 486.6h0M224.8 460.1h0M240.0 481.0h0M207.3 486.6h0M240.9 467.0h0M241.3 461.6h0M230.9 477.2h0M243.0 491.3h0M237.6 480.7h0M234.1 481.7h0M229.1 473.0h0M232.0 489.0h0M234.8 486.2h0M195.7 480.9h0M249.3 477.9h0M223.9 497.7h0M237.0 490.8h0M256.1 489.5h0M262.9 488.5h0M205.0 474.6h0M242.1 479.9h0M240.0 503.5h0M271.2 486.2h0M200.7 479.7h0M258.0 455.8h0M239.7 497.3h0M238.2 491.7h0M278.8 486.7h0M264.9 513.7h0M242.7 496.1h0M252.5 495.6h0M227.3 479.9h0M252.6 498.7h0M225.5 488.4h0M247.0 508.3h0M244.7 485.1h0M236.1 500.1h0M224.0 475.4h0M250.7 501.1h0M247.6 451.0h0M242.5 516.7h0M241.4 479.5h0M243.4 471.3h0M278.1 512.6h0M243.9 485.2h0M214.0 467.1h0M240.8 496.6h0M280.5 489.7h0M220.4 474.1h0M245.7 460.7h0M239.2 478.7h0M210.9 465.4h0M222.8 489.7h0M243.0 488.2h0M236.7 481.9h0M228.5 444.6h0M249.2 492.9h0M235.0 493.6h0M269.5 497.1h0M258.2 493.2h0M212.5 477.1h0M242.6 487.2h0M257.9 475.1h0M256.1 455.6h0M235.6 487.0h0M242.5 497.7h0M229.8 459.2h0M265.8 473.2h0M226.4 474.5h0M241.5 477.6h0M253.9 489.6h0M236.7 473.5h0M224.5 473.1h0M232.5 499.0h0M212.4 475.3h0M205.8 499.8h0M291.4 496.4h0M273.2 475.2h0M228.3 493.0h0M247.2 477.5h0M254.5 503.2h0M223.5 488.4h0M243.6 474.8h0M236.6 468.0h0M238.7 495.5h0M231.1 473.5h0M208.1 481.4h0M224.2 483.1h0M306.5 502.5h0M232.1 500.4h0M226.4 488.4h0M186.1 450.7h0M244.6 486.0h0M231.3 492.9h0M214.4 465.5h0M270.4 457.0h0M231.1 484.4h0M308.3 498.7h0M211.7 487.7h0M218.8 473.3h0M264.5 480.6h0M233.8 473.6h0M247.3 474.5h0M204.5 493.3h0M252.9 503.9h0M228.5 494.3h0M233.7 459.8h0M217.8 470.8h0M226.5 503.0h0M238.4 498.8h0M241.8 474.8h0M205.5 477.5h0M238.2 473.8h0M244.4 510.8h0M221.1 477.3h0M230.9 473.3h0M201.4 438.2h0M262.7 497.8h0M272.4 516.0h0M264.9 457.4h0M235.3 486.5h0M224.8 474.5h0M282.8 500.3h0M221.2 473.8h0M206.3 405.6h0M231.8 475.3h0M220.7 462.7h0M212.6 496.0h0M234.0 485.2h0M203.0 503.7h0M239.9 481.3h0M231.1 471.6h0M220.7 479.8h0M219.7 500.1h0M233.3 502.5h0M235.7 470.9h0M242.2 506.8h0M248.2 485.0h0M297.5 494.7h0M213.2 489.9h0M241.8 495.0h0M236.3 507.7h0M235.7 511.8h0M217.8 475.2h0M251.0 464.0h0M236.2 467.5h0M263.6 485.1h0M209.5 489.1h0M244.8 498.7h0M241.9 474.7h0M252.1 497.4h0M234.8 482.0h0M275.1 490.8h0M232.3 466.6h0M249.8 468.4h0M239.3 500.8h0M276.7 509.9h0M227.0 483.5h0M237.7 486.7h0M239.5 502.3h0M228.8 470.3h0M237.9 468.6h0M253.0 502.3h0M242.8 444.4h0M235.4 466.7h0M235.8 468.8h0M276.4 495.9h0M195.5 475.5h0M223.5 492.2h0M216.5 447.4h0M224.0 423.7h0M243.0 501.3h0M222.9 472.9h0M232.7 468.3h0M231.3 490.6h0M296.5 515.1h0M228.7 468.7h0M237.1 481.2h0M211.6 485.9h0M241.6 455.6h0M199.7 490.2h0M232.8 478.1h0M214.2 478.2h0M247.7 494.9h0M229.3 484.2h0M253.2 480.2h0M228.1 486.1h0M232.6 494.8h0M221.1 486.6h0M249.5 484.1h0M241.6 463.5h0M233.3 473.0h0M256.0 489.4h0M224.1 474.8h0M209.5 484.7h0M229.1 465.3h0M232.1 484.9h0M257.6 496.6h0M218.6 486.6h0M260.3 464.0h0M215.4 459.5h0M225.2 485.0h0M194.8 449.4h0M231.6 449.3h0M246.1 480.9h0M251.9 488.7h0M271.8 474.0h0M235.0 483.0h0M223.0 482.2h0M226.5 493.8h0M198.7 515.0h0M213.5 465.8h0M219.5 494.6h0M248.1 484.3h0M220.7 465.9h0M244.3 480.1h0M228.0 428.4h0M306.9 502.3h0M267.4 460.9h0M223.9 484.3h0M221.3 484.7h0M235.3 469.1h0M210.8 470.0h0M250.9 493.1h0M262.9 497.6h0M225.9 489.7h0M222.7 458.1h0M206.9 479.2h0M229.4 493.5h0M235.6 492.2h0M234.0 450.2h0M246.5 470.3h0M237.4 491.6h0M217.0 449.0h0M240.5 492.0h0M235.0 475.5h0M245.7 497.3h0M220.2 478.6h0M241.6 486.1h0M240.7 466.7h0M215.1 484.0h0M278.7 514.0h0M233.9 479.7h0M211.9 486.8h0M192.2 490.8h0M227.6 460.6h0M241.3 490.5h0M278.5 394.5h0M265.9 503.8h0M235.9 461.4h0M245.6 496.8h0M223.1 490.5h0M234.6 496.0h0M229.4 480.2h0M205.8 468.1h0M249.3 479.5h0M230.7 463.1h0M300.1 478.1h0M224.7 470.1h0M268.4 475.6h0M262.9 488.8h0M251.2 485.3h0M262.8 498.0h0M242.3 458.6h0M223.8 475.1h0M223.7 465.3h0M216.8 459.5h0M217.5 464.5h0M230.3 504.6h0M280.6 496.1h0M225.1 480.0h0M251.7 476.5h0M241.6 484.8h0M211.0 472.8h0M270.1 502.0h0M234.8 493.8h0M230.4 475.3h0M229.6 495.8h0M279.4 497.0h0M251.3 513.0h0M213.8 488.3h0M222.7 448.8h0M252.7 454.7h0M244.7 473.7h0M242.0 486.0h0M219.7 453.8h0M221.6 472.8h0M232.6 498.8h0M232.2 497.8h0M213.9 456.7h0M249.7 501.1h0M222.7 489.8h0M226.0 510.5h0M300.5 470.2h0M222.8 466.9h0M251.7 483.8h0M265.5 514.3h0M228.8 494.4h0M253.8 494.7h0M234.2 477.1h0M216.7 484.2h0M226.2 494.4h0M248.6 481.1h0M207.9 478.7h0M236.9 484.5h0M237.9 490.8h0M229.9 487.8h0M260.4 473.3h0M200.1 436.6h0M237.1 486.1h0M236.5 501.3h0M223.5 492.6h0M238.5 468.7h0M209.9 465.6h0M201.5 502.7h0M213.8 481.4h0M228.3 471.9h0M226.0 496.5h0M250.1 497.4h0M256.4 489.2h0M222.8 449.5h0M220.2 482.3h0M240.2 503.3h0M229.5 455.9h0M219.6 482.5h0M231.1 466.8h0M228.4 482.1h0M256.1 486.5h0M235.9 480.6h0M223.9 490.4h0M205.3 476.7h0M227.5 468.6h0M231.0 464.9h0M243.9 489.5h0M221.3 486.4h0M239.5 500.0h0M223.2 496.4h0M259.6 510.7h0M225.1 485.9h0M221.5 462.0h0M223.0 496.0h0M243.3 488.7h0M190.4 450.1h0M247.9 488.9h0M205.7 491.0h0M228.0 483.2h0M221.1 486.9h0M226.0 483.7h0M209.9 494.4h0M228.5 494.9h0M240.7 496.6h0M227.6 483.7h0M264.9 509.4h0M247.8 485.1h0M243.3 487.1h0M222.1 472.1h0M268.1 506.6h0M239.5 467.9h0M225.1 487.9h0M250.4 481.4h0M223.2 500.3h0M232.1 468.5h0M228.6 480.8h0M224.2 488.1h0M223.0 486.5h0M225.3 478.3h0M238.0 499.7h0M242.3 484.5h0M225.5 474.5h0M224.1 467.1h0M264.1 498.2h0M222.5 468.5h0M221.9 478.1h0M205.6 447.5h0M303.2 442.2h0M209.8 468.2h0M226.7 503.8h0M293.3 494.4h0M231.4 471.9h0M246.8 491.9h0M219.4 489.5h0M228.6 447.2h0" stroke="#000" stroke-width="2.9" stroke-linecap="round"/>
<line x1="236.31" y1="392.40" x2="236.31" y2="516.70" stroke="#959595" stroke-width="1.05"/>
<line x1="185.35" y1="497.85" x2="309.65" y2="497.85" stroke="#959595" stroke-width="1.05"/>
<rect x="233.41" y="495.05" width="5.8" height="5.6" fill="#a4a4a4"/>
<line x1="244.97" y1="392.40" x2="244.97" y2="516.70" stroke="#ec1616" stroke-width="1.75"/>
<line x1="185.35" y1="470.19" x2="309.65" y2="470.19" stroke="#ec1616" stroke-width="1.75"/>
<rect x="242.02" y="467.24" width="5.9" height="5.9" fill="#e80000"/>
</g>
<rect x="185.35" y="392.40" width="124.30" height="124.30" fill="none" stroke="#3a3a3a" stroke-width="0.9"/>
<path d="M207.44 516.70v2.9M236.31 516.70v2.9M265.18 516.70v2.9M294.06 516.70v2.9M185.35 497.85h-2.9M185.35 467.52h-2.9M185.35 437.20h-2.9M185.35 406.87h-2.9" stroke="#000" stroke-width="0.8"/>
<clipPath id="c23"><rect x="315.90" y="392.40" width="124.30" height="124.30"/></clipPath>
<g clip-path="url(#c23)">
<path d="M341.7 497.8h0M358.2 470.7h0M374.7 463.0h0M358.2 467.3h0M380.9 462.6h0M359.4 476.5h0M331.7 509.5h0M365.1 485.8h0M322.6 515.5h0M343.1 489.9h0M352.3 476.1h0M360.8 470.1h0M354.5 476.8h0M328.2 507.1h0M359.4 462.6h0M344.5 496.6h0M371.9 463.6h0M367.8 471.9h0M341.4 474.3h0M344.5 487.0h0M354.4 488.3h0M376.6 473.3h0M364.9 486.1h0M349.2 480.0h0M363.6 467.0h0M347.1 491.6h0M392.2 432.1h0M340.6 496.1h0M353.0 486.2h0M354.1 476.1h0M343.9 503.2h0M365.6 462.2h0M334.8 487.2h0M371.1 450.6h0M374.3 476.0h0M345.9 486.8h0M343.3 478.3h0M350.5 490.4h0M366.7 468.9h0M342.0 485.1h0M364.5 480.6h0M362.7 481.5h0M347.5 480.7h0M368.1 458.9h0M339.6 504.0h0M348.4 491.0h0M347.4 476.9h0M360.1 476.3h0M366.6 476.0h0M345.7 481.9h0M357.2 487.8h0M343.4 502.9h0M347.8 471.4h0M362.2 478.6h0M330.4 501.8h0M347.8 491.1h0M355.3 487.5h0M376.1 469.8h0M336.7 493.7h0M365.4 473.6h0M355.9 484.0h0M324.3 511.7h0M347.4 483.9h0M348.3 473.3h0M381.7 456.1h0M329.1 503.1h0M347.2 471.3h0M335.8 493.9h0M348.2 479.3h0M345.0 491.1h0M375.1 458.4h0M346.4 494.8h0M365.6 480.1h0M348.8 478.6h0M387.3 443.4h0M356.3 489.4h0M342.8 499.4h0M327.1 508.1h0M332.1 492.9h0M380.6 459.8h0M356.4 479.7h0M353.9 486.2h0M341.7 499.6h0M363.6 484.7h0M355.7 478.7h0M361.5 490.8h0M348.4 484.6h0M358.9 455.0h0M350.9 477.8h0M354.7 493.4h0M358.2 482.1h0M377.9 476.0h0M365.1 474.5h0M362.2 469.1h0M347.7 487.5h0M357.0 494.8h0M348.1 479.8h0M358.0 477.3h0M337.4 486.5h0M348.0 463.3h0M336.9 494.3h0M358.1 453.3h0M377.3 455.0h0M357.9 475.7h0M376.7 462.7h0M372.0 467.0h0M347.4 484.0h0M348.4 493.1h0M350.8 488.1h0M352.9 480.3h0M345.5 475.8h0M383.4 461.5h0M368.6 464.6h0M365.5 480.5h0M349.1 488.2h0M360.4 475.5h0M353.6 474.4h0M352.1 494.4h0M345.0 497.2h0M353.2 484.0h0M349.6 480.7h0M349.6 502.5h0M352.4 473.7h0M345.5 492.8h0M342.1 487.1h0M347.1 496.4h0M353.1 474.2h0M349.0 484.9h0M374.8 471.5h0M370.3 482.6h0M355.6 471.2h0M328.6 503.3h0M323.1 509.7h0M355.1 476.7h0M355.3 494.6h0M336.5 507.4h0M348.5 490.2h0M340.7 485.7h0M379.1 464.6h0M361.8 467.6h0M345.5 490.0h0M355.2 482.7h0M354.6 478.7h0M335.0 504.1h0M331.0 496.9h0M347.8 481.6h0M347.6 491.0h0M345.6 490.6h0M351.2 481.3h0M358.6 484.6h0M352.9 472.2h0M334.8 498.7h0M372.4 468.6h0M437.5 425.4h0M414.6 395.0h0M371.1 473.4h0M341.2 490.8h0M331.7 503.0h0M360.5 463.9h0M332.8 502.4h0M368.5 471.5h0M350.1 482.5h0M351.4 495.2h0M348.9 478.7h0M362.4 466.3h0M359.4 476.0h0M346.7 480.8h0M351.7 481.4h0M366.1 458.2h0M370.3 445.4h0M323.4 515.0h0M371.6 488.6h0M345.7 493.2h0M382.8 452.7h0M382.8 469.7h0M372.7 477.2h0M377.4 472.8h0M350.1 482.5h0M388.9 451.6h0M343.3 500.1h0M336.5 499.6h0M360.8 486.1h0M354.6 475.5h0M358.6 471.0h0M372.4 471.9h0M354.0 480.2h0M350.5 493.9h0M352.0 476.6h0M352.1 479.9h0M354.2 487.8h0M356.2 469.8h0M341.0 500.8h0M349.8 484.2h0M368.7 470.1h0M362.4 458.9h0M355.0 485.8h0M366.0 444.9h0M373.4 479.7h0M335.0 480.1h0M341.6 490.1h0M339.9 503.4h0M350.0 471.0h0M356.8 474.4h0M377.7 464.2h0M355.3 477.5h0M368.7 470.3h0M332.1 502.8h0M366.9 481.9h0M348.4 494.5h0M345.5 496.7h0M348.9 490.0h0M345.9 483.6h0M335.9 494.9h0M355.5 485.4h0M329.2 504.2h0M366.8 473.1h0M343.8 476.2h0M353.9 496.6h0M386.2 430.7h0M354.4 489.8h0M332.5 503.3h0M364.4 457.7h0M370.1 463.0h0M352.7 480.9h0M385.9 459.2h0M348.5 467.2h0M340.1 495.4h0M347.4 492.9h0M356.9 480.2h0M349.8 487.4h0M354.0 489.8h0M369.0 483.9h0M370.2 473.5h0M347.9 494.0h0M349.8 494.1h0M382.6 460.7h0M370.2 458.2h0M375.0 481.4h0M347.2 472.0h0M360.8 469.6h0M348.3 493.9h0M348.3 487.3h0M361.1 480.2h0M361.6 470.4h0M349.6 505.2h0M356.3 490.7h0M337.6 498.1h0M348.6 492.8h0M360.0 484.0h0M342.0 477.8h0M347.1 480.7h0M360.8 473.8h0M360.9 487.5h0M336.2 497.2h0M357.1 464.9h0M346.0 498.6h0M353.4 478.8h0M386.8 442.8h0M358.7 489.8h0M386.4 396.6h0M435.4 397.0h0M337.9 478.3h0M346.6 481.1h0M353.6 484.2h0M358.1 484.4h0M361.9 479.3h0M365.2 487.9h0M324.5 504.1h0M334.7 495.3h0M333.4 504.8h0M342.4 488.7h0M359.3 480.1h0M345.9 498.7h0M338.2 491.5h0M363.8 476.6h0M376.9 463.1h0M334.9 503.4h0M347.1 499.8h0M336.6 495.9h0M334.8 507.2h0M350.7 484.8h0M368.9 470.5h0M338.8 495.8h0M351.3 482.9h0M352.9 481.9h0M341.1 493.2h0M362.0 469.2h0M346.0 494.5h0M342.2 491.1h0M349.2 492.5h0M373.2 462.7h0M331.5 489.1h0M388.6 449.1h0M345.4 485.2h0M362.0 494.4h0M336.0 492.6h0M372.0 482.4h0M367.4 481.6h0M382.0 445.0h0M389.7 444.6h0M345.5 487.0h0M378.0 438.4h0M335.8 498.7h0M341.0 501.1h0M344.0 490.9h0M348.7 485.1h0M363.6 480.6h0M342.8 489.2h0M355.1 483.6h0M369.4 474.0h0M352.1 489.6h0M381.2 441.1h0M362.4 492.4h0M350.1 484.1h0M339.2 491.6h0M329.2 499.7h0M352.4 475.9h0M355.5 486.8h0M341.4 486.3h0M368.3 459.1h0M349.8 503.7h0M374.2 470.4h0M375.6 445.9h0M377.5 454.0h0M368.1 467.8h0M375.2 502.8h0M368.9 474.2h0M356.1 486.5h0M347.7 480.0h0M367.6 466.2h0M357.8 462.8h0M351.3 481.3h0M388.9 458.1h0M361.5 471.5h0M353.1 490.0h0M347.7 486.6h0M362.5 476.3h0M348.5 493.9h0M362.6 464.8h0M372.2 468.8h0M376.6 450.5h0M342.3 500.2h0M349.3 479.9h0M341.9 497.2h0M332.9 492.5h0M328.1 496.6h0M335.6 496.3h0M345.0 495.8h0M329.5 478.6h0M373.9 451.9h0M373.0 461.5h0M349.9 493.8h0M358.9 476.8h0M376.3 463.3h0M348.2 490.5h0M364.3 471.8h0M331.1 499.8h0M388.7 469.1h0M345.1 490.0h0M345.8 483.5h0M337.2 499.6h0M342.6 481.4h0M352.5 475.5h0M338.1 489.0h0M378.7 462.4h0M360.2 482.2h0M324.9 504.6h0M354.1 483.3h0M370.7 466.2h0M353.6 476.9h0M375.9 467.3h0M357.4 481.1h0M360.7 444.4h0M388.4 445.0h0M349.9 483.0h0M395.4 453.0h0M360.0 450.8h0M369.3 480.6h0M345.9 486.6h0M381.1 460.1h0M367.1 481.0h0M373.0 486.6h0M366.1 467.0h0M355.9 461.6h0M361.4 477.2h0M341.2 491.3h0M355.8 480.7h0M351.2 481.7h0M369.5 473.0h0M347.5 489.0h0M365.5 486.2h0M376.8 480.9h0M348.6 477.9h0M331.1 497.7h0M338.4 490.8h0M347.8 489.5h0M330.7 488.5h0M376.2 474.6h0M352.0 479.9h0M350.9 503.5h0M350.2 486.2h0M354.6 479.7h0M390.2 455.8h0M352.4 497.3h0M339.3 491.7h0M352.1 486.7h0M321.0 513.7h0M356.4 496.1h0M340.9 495.6h0M353.5 479.9h0M331.2 498.7h0M357.3 488.4h0M325.3 508.3h0M362.3 485.1h0M345.5 500.1h0M369.0 475.4h0M330.5 501.1h0M365.0 451.0h0M316.0 516.7h0M374.5 479.5h0M357.4 471.3h0M324.9 512.6h0M350.6 485.2h0M375.5 467.1h0M337.0 496.6h0M345.9 489.7h0M364.5 474.1h0M386.3 460.7h0M367.0 478.7h0M385.2 465.4h0M357.6 489.7h0M351.0 488.2h0M350.3 481.9h0M385.7 444.6h0M342.3 492.9h0M347.0 493.6h0M338.5 497.1h0M348.4 493.2h0M379.5 477.1h0M347.4 487.2h0M368.6 475.1h0M369.2 455.6h0M345.2 487.0h0M339.8 497.7h0M377.2 459.2h0M349.4 473.2h0M368.6 474.5h0M362.1 477.6h0M352.4 489.6h0M362.6 473.5h0M363.9 473.1h0M324.3 499.0h0M371.5 475.3h0M340.2 499.8h0M332.2 496.4h0M368.2 475.2h0M343.0 493.0h0M357.5 477.5h0M337.0 503.2h0M354.1 488.4h0M354.8 474.8h0M368.2 468.0h0M346.1 495.5h0M371.2 473.5h0M356.4 481.4h0M351.7 483.1h0M322.2 502.5h0M343.4 500.4h0M348.8 488.4h0M411.6 450.7h0M361.0 486.0h0M347.0 492.9h0M355.0 465.5h0M353.7 457.0h0M360.4 484.4h0M343.8 498.7h0M349.4 487.7h0M361.7 473.3h0M346.6 480.6h0M347.5 473.6h0M353.4 474.5h0M363.1 493.3h0M328.3 503.9h0M338.1 494.3h0M368.3 459.8h0M368.4 470.8h0M347.2 503.0h0M342.3 498.8h0M357.8 474.8h0M371.8 477.5h0M364.6 473.8h0M326.8 510.8h0M353.3 477.3h0M363.7 473.3h0M378.8 438.2h0M346.1 497.8h0M321.7 516.0h0M362.2 457.4h0M353.5 486.5h0M349.5 474.5h0M338.8 500.3h0M362.2 473.8h0M412.8 405.6h0M347.4 475.3h0M381.5 462.7h0M354.0 496.0h0M347.0 485.2h0M343.7 503.7h0M347.7 481.3h0M365.7 471.6h0M363.9 479.8h0M346.5 500.1h0M337.6 502.5h0M358.7 470.9h0M336.2 506.8h0M365.9 485.0h0M327.2 494.7h0M345.7 489.9h0M339.7 495.0h0M336.2 507.7h0M329.2 511.8h0M353.7 475.2h0M356.7 464.0h0M369.3 467.5h0M344.7 485.1h0M365.1 489.1h0M340.9 498.7h0M350.2 474.7h0M337.2 497.4h0M367.8 482.0h0M356.7 490.8h0M388.4 466.6h0M367.5 468.4h0M332.9 500.8h0M317.9 509.9h0M362.3 483.5h0M354.8 486.7h0M348.7 502.3h0M356.4 470.3h0M355.0 468.6h0M330.8 502.3h0M395.9 444.4h0M371.6 466.7h0M366.2 468.8h0M346.0 495.9h0M352.6 475.5h0M345.0 492.2h0M365.5 447.4h0M397.0 423.7h0M342.0 501.3h0M352.3 472.9h0M365.9 468.3h0M359.8 490.6h0M321.1 515.1h0M373.1 468.7h0M345.1 481.2h0M358.8 485.9h0M364.5 455.6h0M368.3 490.2h0M357.9 478.1h0M367.8 478.2h0M344.6 494.9h0M361.0 484.2h0M346.6 480.2h0M359.9 486.1h0M323.9 494.8h0M364.5 486.6h0M356.8 484.1h0M367.7 463.5h0M372.7 473.0h0M329.7 489.4h0M371.7 474.8h0M354.0 484.7h0M349.8 465.3h0M343.0 484.9h0M345.2 496.6h0M370.6 486.6h0M376.1 464.0h0M398.8 459.5h0M361.1 485.0h0M373.3 449.4h0M363.9 449.3h0M361.1 480.9h0M349.6 488.7h0M364.4 474.0h0M354.1 483.0h0M349.4 482.2h0M349.2 493.8h0M322.7 515.0h0M363.7 465.8h0M351.1 494.6h0M343.9 484.3h0M368.8 465.9h0M348.0 480.1h0M388.0 428.4h0M331.1 502.3h0M368.2 460.9h0M356.4 484.3h0M356.9 484.7h0M357.9 469.1h0M387.7 470.0h0M350.0 493.1h0M343.3 497.6h0M343.9 489.7h0M366.9 458.1h0M363.6 479.2h0M348.8 493.5h0M346.3 492.2h0M377.6 450.2h0M350.1 470.3h0M342.6 491.6h0M369.8 449.0h0M339.4 492.0h0M360.9 475.5h0M337.6 497.3h0M370.0 478.6h0M347.7 486.1h0M357.9 466.7h0M342.5 484.0h0M322.5 514.0h0M358.8 479.7h0M355.3 486.8h0M339.4 490.8h0M370.1 460.6h0M347.3 490.5h0M398.0 394.5h0M340.2 503.8h0M357.1 461.4h0M346.1 496.8h0M344.1 490.5h0M347.4 496.0h0M357.3 480.2h0M367.3 468.1h0M357.1 479.5h0M384.0 463.1h0M338.6 478.1h0M360.3 470.1h0M333.2 475.6h0M344.1 488.8h0M354.6 485.3h0M343.4 498.0h0M383.2 458.6h0M357.8 475.1h0M359.5 465.3h0M369.4 459.5h0M360.2 464.5h0M350.2 504.6h0M326.9 496.1h0M370.0 480.0h0M359.1 476.5h0M349.7 484.8h0M347.7 472.8h0M342.9 502.0h0M344.0 493.8h0M361.6 475.3h0M341.1 495.8h0M345.7 497.0h0M328.9 513.0h0M346.3 488.3h0M373.0 448.8h0M373.4 454.7h0M374.9 473.7h0M360.7 486.0h0M384.9 453.8h0M369.7 472.8h0M341.3 498.8h0M325.8 497.8h0M377.4 456.7h0M337.8 501.1h0M347.2 489.8h0M337.0 510.5h0M370.7 470.2h0M371.9 466.9h0M350.9 483.8h0M343.8 514.3h0M338.1 494.4h0M344.6 494.7h0M369.5 477.1h0M344.1 484.2h0M349.9 494.4h0M354.3 481.1h0M349.1 478.7h0M341.7 484.5h0M349.7 490.8h0M344.9 487.8h0M348.9 473.3h0M386.0 436.6h0M367.4 486.1h0M343.2 501.3h0M350.5 492.6h0M355.2 468.7h0M376.1 465.6h0M341.7 502.7h0M357.0 481.4h0M355.7 471.9h0M352.1 496.5h0M350.0 497.4h0M344.7 489.2h0M371.2 449.5h0M350.8 482.3h0M337.2 503.3h0M384.2 455.9h0M347.5 482.5h0M357.7 466.8h0M358.4 482.1h0M355.6 486.5h0M351.8 480.6h0M335.7 490.4h0M356.2 476.7h0M373.3 468.6h0M378.8 464.9h0M351.4 489.5h0M355.8 486.4h0M330.0 500.0h0M341.9 496.4h0M326.9 510.7h0M354.3 485.9h0M358.3 462.0h0M346.5 496.0h0M345.3 488.7h0M378.2 450.1h0M354.7 488.9h0M351.1 491.0h0M356.0 483.2h0M354.2 486.9h0M365.9 483.7h0M359.2 494.4h0M340.6 494.9h0M372.8 496.6h0M349.4 483.7h0M329.7 509.4h0M351.3 485.1h0M356.4 487.1h0M368.4 472.1h0M328.7 506.6h0M354.0 467.9h0M351.4 487.9h0M361.2 481.4h0M333.7 500.3h0M357.0 468.5h0M346.1 480.8h0M351.2 488.1h0M360.4 486.5h0M350.7 478.3h0M329.4 499.7h0M363.4 484.5h0M369.3 474.5h0M364.3 467.1h0M332.5 498.2h0M364.8 468.5h0M363.6 478.1h0M380.9 447.5h0M386.7 442.2h0M380.1 468.2h0M338.2 503.8h0M334.4 494.4h0M368.3 471.9h0M334.1 491.9h0M351.9 489.5h0M412.8 447.2h0" stroke="#000" stroke-width="2.9" stroke-linecap="round"/>
<line x1="332.51" y1="392.40" x2="332.51" y2="516.70" stroke="#959595" stroke-width="1.05"/>
<line x1="315.90" y1="497.85" x2="440.20" y2="497.85" stroke="#959595" stroke-width="1.05"/>
<rect x="329.61" y="495.05" width="5.8" height="5.6" fill="#a4a4a4"/>
<line x1="361.05" y1="392.40" x2="361.05" y2="516.70" stroke="#ec1616" stroke-width="1.75"/>
<line x1="315.90" y1="470.19" x2="440.20" y2="470.19" stroke="#ec1616" stroke-width="1.75"/>
<rect x="358.10" y="467.24" width="5.9" height="5.9" fill="#e80000"/>
</g>
<rect x="315.90" y="392.40" width="124.30" height="124.30" fill="none" stroke="#3a3a3a" stroke-width="0.9"/>
<path d="M332.51 516.70v2.9M361.83 516.70v2.9M391.14 516.70v2.9M420.46 516.70v2.9M315.90 497.85h-2.9M315.90 467.52h-2.9M315.90 437.20h-2.9M315.90 406.87h-2.9" stroke="#000" stroke-width="0.8"/>
<clipPath id="c33"><rect x="446.45" y="392.40" width="124.30" height="124.30"/></clipPath>
<g clip-path="url(#c33)">
<line x1="465.30" y1="392.40" x2="465.30" y2="516.70" stroke="#959595" stroke-width="1.05"/>
<path d="M446.45 516.70L446.45 504.60L452.67 504.60L452.67 496.50L458.88 496.50L458.88 455.50L465.10 455.50L465.10 422.70L471.31 422.70L471.31 412.50L477.53 412.50L477.53 403.60L483.74 403.60L483.74 422.30L489.96 422.30L489.96 442.50L496.17 442.50L496.17 469.90L502.39 469.90L502.39 489.50L508.60 489.50L508.60 497.50L514.82 497.50L514.82 504.20L521.03 504.20L521.03 510.50L527.25 510.50L527.25 513.90L533.46 513.90L533.46 512.90L539.68 512.90L539.68 516.70L545.89 516.70L545.89 515.80L552.11 515.80L552.11 515.80L558.32 515.80L558.32 516.70L564.54 516.70L564.54 514.80L570.75 514.80L570.75 516.70" fill="none" stroke="#262626" stroke-width="1.1" stroke-linejoin="miter"/>
<line x1="492.96" y1="392.40" x2="492.96" y2="516.70" stroke="#ec1616" stroke-width="1.75"/>
</g>
<rect x="446.45" y="392.40" width="124.30" height="124.30" fill="none" stroke="#3a3a3a" stroke-width="0.9"/>
<path d="M465.30 516.70v2.9M495.63 516.70v2.9M525.95 516.70v2.9M556.28 516.70v2.9" stroke="#000" stroke-width="0.8"/>
<clipPath id="c04"><rect x="54.80" y="522.90" width="124.30" height="124.30"/></clipPath>
<g clip-path="url(#c04)">
<path d="M96.3 556.3h0M132.1 563.1h0M137.5 541.4h0M114.1 586.1h0M95.5 581.4h0M102.6 563.6h0M91.7 604.4h0M113.7 580.9h0M61.6 620.3h0M104.9 573.0h0M101.5 569.1h0M87.6 589.3h0M113.5 574.9h0M87.7 607.6h0M73.6 553.8h0M93.0 587.8h0M101.3 566.1h0M127.0 573.7h0M103.7 582.3h0M114.2 585.4h0M81.7 591.1h0M99.0 524.1h0M92.1 596.9h0M93.6 605.1h0M73.2 583.8h0M98.7 588.2h0M80.9 562.4h0M111.8 582.7h0M89.8 583.2h0M94.7 575.9h0M87.0 586.0h0M83.6 581.0h0M95.2 595.7h0M124.8 567.1h0M158.1 599.5h0M92.4 595.0h0M92.3 570.3h0M128.3 591.8h0M91.4 573.3h0M115.8 584.8h0M130.5 601.5h0M90.4 586.3h0M122.3 586.2h0M128.4 581.5h0M94.1 586.6h0M134.0 583.0h0M86.5 592.4h0M73.5 582.2h0M81.3 567.9h0M80.4 590.2h0M128.3 582.0h0M77.6 584.8h0M86.6 591.2h0M84.5 576.9h0M105.6 593.0h0M95.5 595.0h0M98.9 577.3h0M88.2 577.6h0M94.1 588.9h0M97.0 569.5h0M128.3 582.5h0M103.5 603.0h0M126.9 581.3h0M95.4 568.9h0M98.8 586.8h0M106.5 602.2h0M101.9 590.1h0M89.5 577.8h0M109.1 584.2h0M122.5 600.2h0M98.0 561.6h0M115.6 577.2h0M107.1 585.7h0M127.2 587.5h0M67.3 569.8h0M93.5 562.4h0M110.5 562.2h0M101.7 589.3h0M102.3 591.8h0M102.9 570.8h0M119.2 563.8h0M108.5 590.9h0M156.5 601.4h0M90.2 591.6h0M92.6 580.8h0M133.8 607.4h0M104.3 588.5h0M70.7 538.2h0M96.1 597.3h0M83.1 582.5h0M89.8 587.7h0M109.4 591.2h0M109.0 588.6h0M102.4 573.5h0M101.6 591.6h0M106.9 573.1h0M137.7 583.5h0M76.3 589.0h0M87.8 574.8h0M99.1 550.1h0M91.7 587.5h0M75.7 594.4h0M90.5 594.3h0M103.8 581.1h0M84.0 562.7h0M82.5 587.0h0M116.9 581.2h0M103.9 589.1h0M87.9 585.6h0M103.1 595.5h0M119.6 595.2h0M109.6 572.8h0M108.0 574.2h0M148.8 605.9h0M103.6 583.5h0M111.7 590.6h0M97.4 585.3h0M90.8 578.6h0M129.2 585.8h0M99.0 589.0h0M111.6 594.7h0M154.6 577.0h0M90.2 592.4h0M90.0 594.5h0M106.2 587.2h0M113.4 580.1h0M100.7 586.8h0M120.5 581.1h0M86.7 599.6h0M94.9 577.9h0M114.7 591.4h0M145.5 575.9h0M100.1 582.1h0M94.4 593.4h0M146.5 588.6h0M109.4 591.6h0M98.0 595.6h0M96.2 590.6h0M104.4 573.1h0M88.2 589.7h0M100.7 582.4h0M107.8 584.7h0M120.8 582.9h0M99.2 586.0h0M88.3 590.9h0M86.4 588.2h0M86.1 585.6h0M84.6 598.5h0M108.2 563.9h0M108.4 573.8h0M93.1 570.7h0M92.6 595.1h0M93.4 574.6h0M97.6 576.4h0M68.8 540.2h0M94.8 574.6h0M114.0 571.9h0M77.8 584.9h0M100.5 583.3h0M87.2 587.6h0M87.1 563.9h0M105.9 577.5h0M104.1 582.6h0M102.2 582.0h0M89.8 535.5h0M132.2 580.5h0M96.6 580.0h0M94.8 591.7h0M107.1 569.4h0M81.4 573.3h0M105.4 588.2h0M113.6 601.4h0M101.3 581.2h0M108.4 586.6h0M87.7 568.1h0M100.4 602.0h0M99.7 586.3h0M114.5 579.0h0M91.0 540.3h0M107.8 603.3h0M95.5 597.0h0M127.3 582.1h0M132.5 584.7h0M108.4 586.8h0M92.6 557.2h0M122.2 598.1h0M89.7 601.8h0M79.9 583.2h0M116.5 565.9h0M105.9 566.4h0M86.9 581.8h0M117.3 609.6h0M94.2 594.1h0M93.2 583.6h0M95.8 573.6h0M86.4 580.8h0M108.9 585.5h0M134.8 583.4h0M89.8 591.6h0M102.0 574.3h0M87.7 594.2h0M104.8 581.6h0M122.4 578.6h0M77.6 581.0h0M100.3 578.9h0M78.6 579.8h0M101.4 580.5h0M148.1 586.6h0M89.8 586.0h0M98.0 588.8h0M94.2 600.2h0M128.5 595.3h0M106.2 613.1h0M112.2 593.6h0M95.9 585.8h0M96.5 579.0h0M90.2 587.6h0M74.7 588.8h0M116.6 562.7h0M96.1 588.0h0M99.9 583.0h0M99.7 574.4h0M105.6 561.8h0M101.6 594.1h0M96.0 564.3h0M104.5 556.7h0M106.3 557.6h0M118.4 602.9h0M86.5 589.1h0M103.7 592.8h0M87.5 592.7h0M93.9 576.1h0M106.3 578.6h0M76.5 621.4h0M111.0 608.5h0M99.0 583.9h0M93.8 599.0h0M104.1 581.7h0M75.7 615.9h0M93.3 577.6h0M110.9 602.1h0M98.6 587.9h0M83.1 573.3h0M96.1 565.8h0M74.3 602.6h0M88.1 589.0h0M93.1 591.0h0M98.2 583.0h0M91.0 583.6h0M121.0 576.2h0M115.3 592.7h0M129.3 576.0h0M152.5 609.1h0M93.7 588.6h0M115.3 583.8h0M103.6 526.0h0M103.7 586.8h0M92.4 555.4h0M117.4 540.0h0M86.7 540.5h0M134.4 576.5h0M69.8 590.1h0M82.2 593.3h0M124.6 589.4h0M79.9 580.0h0M98.8 569.9h0M85.2 553.0h0M118.0 600.9h0M69.6 560.5h0M114.2 609.0h0M106.8 588.5h0M110.5 582.2h0M99.2 575.5h0M119.6 602.9h0M133.8 576.7h0M89.0 585.3h0M107.1 589.7h0M137.3 591.6h0M111.3 591.7h0M125.4 589.0h0M131.9 579.8h0M113.8 587.5h0M99.3 597.4h0M106.6 583.7h0M102.2 596.3h0M114.7 577.3h0M97.4 589.7h0M107.4 575.8h0M100.8 599.1h0M96.0 605.4h0M97.9 587.0h0M95.4 584.8h0M107.9 576.3h0M108.4 576.6h0M100.1 566.7h0M95.0 583.2h0M106.8 587.7h0M97.6 586.0h0M84.7 607.0h0M107.9 539.6h0M96.9 582.0h0M124.0 593.5h0M93.5 588.6h0M92.8 594.8h0M101.0 584.5h0M92.8 590.7h0M157.7 583.6h0M134.5 576.8h0M111.3 583.7h0M106.8 564.4h0M127.8 581.3h0M100.4 564.7h0M94.1 605.7h0M87.5 585.7h0M120.8 590.7h0M137.1 571.9h0M92.6 565.9h0M138.1 602.0h0M106.3 603.6h0M79.3 540.5h0M102.3 604.5h0M95.9 567.6h0M94.3 560.7h0M96.3 590.7h0M114.4 595.4h0M129.6 556.1h0M94.0 564.8h0M148.8 589.5h0M103.1 585.4h0M99.4 579.1h0M94.4 580.2h0M87.4 591.5h0M90.8 569.4h0M112.1 559.0h0M122.4 552.3h0M83.6 592.2h0M126.7 591.2h0M82.7 603.5h0M100.8 562.0h0M129.1 575.9h0M89.4 589.3h0M97.8 573.4h0M128.0 593.5h0M86.7 588.2h0M119.7 591.4h0M88.8 599.9h0M116.3 591.2h0M104.4 593.1h0M79.2 613.8h0M77.8 597.1h0M148.3 602.8h0M84.9 593.3h0M122.6 554.8h0M80.2 581.1h0M104.9 585.2h0M103.3 596.4h0M115.5 582.6h0M107.6 585.6h0M89.7 598.2h0M126.0 592.8h0M133.3 586.7h0M122.2 583.4h0M74.4 576.8h0M82.9 576.1h0M103.9 559.9h0M97.0 590.1h0M76.3 603.1h0M112.3 597.4h0M111.6 583.7h0M114.9 578.5h0M121.8 581.0h0M93.0 589.8h0M70.3 581.7h0M78.6 576.3h0M118.5 586.7h0M90.5 598.4h0M113.6 597.7h0M126.5 586.5h0M118.1 583.8h0M98.1 563.7h0M86.0 568.5h0M122.9 572.7h0M96.8 588.3h0M86.4 575.2h0M99.0 578.8h0M89.1 580.4h0M110.7 598.5h0M106.3 573.6h0M88.3 587.7h0M84.4 578.2h0M122.3 552.2h0M159.4 566.7h0M105.8 601.4h0M109.1 593.4h0M146.9 614.6h0M100.0 608.0h0M76.4 584.6h0M151.0 559.3h0M83.4 574.3h0M82.7 570.2h0M92.3 567.8h0M126.7 567.9h0M77.3 577.0h0M77.6 585.0h0M130.7 583.7h0M80.3 574.7h0M81.5 610.5h0M81.7 604.1h0M106.3 588.8h0M102.4 605.1h0M91.6 577.3h0M115.5 595.1h0M104.2 600.8h0M104.9 567.9h0M106.6 583.3h0M90.0 584.2h0M95.7 590.8h0M77.7 557.1h0M112.5 619.7h0M84.0 579.7h0M102.6 590.3h0M80.1 613.5h0M116.2 610.7h0M104.2 572.9h0M102.2 587.0h0M75.4 583.3h0M100.9 583.7h0M95.1 582.6h0M95.9 580.0h0M111.7 564.7h0M104.8 575.7h0M93.4 592.7h0M105.5 603.1h0M109.7 554.2h0M84.3 582.4h0M93.1 592.4h0M65.8 595.3h0M108.4 589.7h0M128.3 566.1h0M91.7 601.9h0M96.7 581.7h0M83.1 572.4h0M117.2 587.7h0M96.1 597.2h0M104.5 573.9h0M88.2 571.3h0M137.0 595.5h0M113.4 590.9h0M98.7 588.1h0M93.5 574.3h0M108.5 578.4h0M92.6 592.7h0M120.3 572.2h0M152.1 615.6h0M95.5 539.9h0M76.3 599.2h0M104.0 598.4h0M90.2 561.0h0M94.1 594.5h0M98.1 589.5h0M113.1 586.7h0M133.2 584.3h0M88.2 586.4h0M126.3 584.6h0M144.0 589.1h0M105.0 583.0h0M99.4 573.9h0M84.0 609.0h0M88.0 585.0h0M133.8 577.1h0M78.4 588.6h0M89.9 600.8h0M107.4 579.5h0M95.4 578.9h0M103.8 582.3h0M61.8 570.5h0M78.6 601.3h0M137.2 583.8h0M145.4 555.5h0M98.5 575.6h0M109.5 586.8h0M111.5 583.1h0M114.7 602.5h0M107.4 578.8h0M157.2 581.5h0M118.7 569.8h0M105.4 596.4h0M97.8 584.7h0M94.2 578.7h0M108.2 570.5h0M85.1 556.1h0M112.1 575.4h0M109.7 592.8h0M102.9 588.2h0M98.4 576.9h0M73.8 579.5h0M81.9 608.4h0M90.0 567.7h0M114.0 582.3h0M95.6 572.7h0M84.4 603.2h0M110.5 559.6h0M108.8 582.6h0M88.1 591.7h0M117.9 587.3h0M99.7 566.9h0M103.2 595.8h0M156.3 583.4h0M97.1 590.4h0M101.8 570.9h0M89.0 581.7h0M97.1 610.1h0M105.3 599.7h0M114.6 582.5h0M96.6 605.1h0M94.8 566.2h0M67.9 606.3h0M112.8 588.0h0M99.5 589.8h0M83.1 591.7h0M108.1 595.5h0M87.0 573.6h0M102.7 584.1h0M141.8 592.6h0M108.6 568.0h0M101.0 572.7h0M105.4 582.7h0M141.3 562.6h0M85.1 584.3h0M90.8 592.7h0M95.2 568.1h0M92.0 578.5h0M91.5 580.6h0M116.4 598.3h0M62.4 584.4h0M132.5 588.1h0M94.0 574.2h0M134.7 613.6h0M125.6 573.1h0M102.3 585.1h0M97.2 590.7h0M73.7 556.0h0M117.8 570.0h0M109.2 573.7h0M99.6 589.7h0M157.1 593.0h0M93.7 584.6h0M152.5 607.8h0M86.8 575.9h0M103.8 594.9h0M111.4 581.1h0M124.7 587.8h0M77.3 581.6h0M108.8 613.6h0M102.8 586.1h0M109.9 581.0h0M114.0 568.2h0M84.5 537.6h0M63.5 599.1h0M92.4 584.2h0M98.2 588.4h0M99.8 587.7h0M121.7 594.1h0M92.9 582.6h0M99.7 572.1h0M108.7 580.0h0M114.3 581.1h0M96.4 585.2h0M130.5 584.4h0M105.5 566.5h0M93.4 586.8h0M79.9 592.0h0M154.2 601.5h0M126.2 590.6h0M122.7 596.0h0M83.7 595.6h0M81.6 594.6h0M77.0 574.6h0M111.1 582.5h0M108.2 589.6h0M144.0 563.2h0M132.5 587.7h0M92.4 600.4h0M97.5 581.2h0M78.2 596.6h0M110.2 592.5h0M103.4 588.8h0M98.1 601.7h0M141.2 585.1h0M121.7 567.5h0M112.7 587.9h0M87.2 570.2h0M101.5 589.1h0M97.3 555.2h0M123.9 548.0h0M76.1 586.3h0M86.0 588.3h0M102.0 579.9h0M114.3 600.3h0M120.5 539.5h0M115.2 586.8h0M93.9 557.7h0M86.8 568.3h0M98.4 574.9h0M123.8 562.4h0M107.1 570.5h0M98.4 590.0h0M127.4 589.3h0M93.1 566.5h0M111.0 573.6h0M91.1 596.9h0M112.1 565.1h0M102.5 590.6h0M108.2 597.0h0M86.8 583.7h0M85.6 588.0h0M93.0 611.6h0M85.1 564.7h0M118.3 580.6h0M63.2 614.0h0M88.6 571.0h0M131.5 577.0h0M117.2 585.1h0M108.2 563.9h0M106.6 585.7h0M62.6 555.9h0M110.8 611.7h0M120.6 577.2h0M77.0 586.4h0M105.5 590.3h0M101.8 587.4h0M98.3 570.9h0M157.0 581.8h0M101.7 581.2h0M112.4 573.5h0M76.8 601.0h0M127.1 591.0h0M100.0 579.0h0M79.1 596.7h0M118.3 580.5h0M78.9 593.6h0M103.3 576.5h0M128.5 580.7h0M108.1 598.7h0M115.8 570.4h0M152.8 584.3h0M103.4 577.7h0M72.3 597.1h0M106.6 578.8h0M91.8 590.8h0M104.4 582.0h0M97.0 586.4h0M87.9 597.0h0M126.6 578.9h0M109.2 579.8h0M93.9 597.8h0M85.7 603.3h0M116.4 587.9h0M106.1 588.3h0M129.1 549.1h0M98.7 587.1h0M77.5 580.3h0M91.3 590.6h0M90.2 579.8h0M110.2 593.8h0M107.8 580.5h0M111.6 598.0h0M108.8 563.7h0M75.7 589.0h0M83.2 581.5h0M119.2 578.2h0M92.8 563.2h0M103.5 579.0h0M107.7 600.4h0M96.6 583.9h0M94.5 590.1h0M95.4 597.8h0M99.9 572.7h0M117.0 560.6h0M96.5 582.1h0M93.3 598.0h0M111.2 577.0h0M100.0 591.3h0M107.3 593.6h0M94.3 593.1h0M98.8 568.6h0M125.8 586.5h0M111.0 579.2h0M115.4 592.0h0M115.7 607.2h0M99.4 583.5h0M121.8 577.4h0M154.4 611.8h0M101.0 603.6h0M118.0 592.2h0M105.0 582.9h0M84.0 581.2h0M115.0 577.4h0M94.0 564.0h0M109.5 603.1h0M88.0 601.6h0M102.1 551.0h0M103.1 581.6h0M94.8 547.9h0M116.9 574.7h0M93.6 588.5h0M80.4 608.0h0M95.3 591.1h0M126.4 591.7h0M109.4 556.1h0M140.3 550.0h0M94.2 583.9h0M106.2 588.5h0M109.4 596.8h0M95.8 598.1h0M154.7 597.0h0M87.2 604.7h0M102.5 595.6h0M105.5 568.5h0M85.4 569.6h0M159.8 570.9h0M124.5 599.2h0M118.4 582.2h0M93.0 579.1h0M111.8 587.5h0M113.0 575.1h0M106.3 571.5h0M126.7 605.1h0M126.3 609.0h0M99.9 588.0h0M88.5 579.1h0M101.5 599.9h0M121.6 564.7h0M120.9 583.1h0M85.2 600.3h0M93.8 583.0h0M98.7 594.3h0M93.5 552.6h0M116.9 592.3h0M102.4 565.8h0M100.4 587.9h0M104.2 588.7h0M95.8 570.3h0M97.4 573.3h0M75.7 597.3h0M98.5 590.0h0M92.4 584.7h0M116.1 569.3h0M97.4 618.3h0M103.0 574.8h0M107.1 587.7h0M121.7 585.2h0M111.4 613.5h0M111.4 563.9h0M113.0 594.2h0M74.7 607.3h0M95.1 569.6h0M84.0 609.7h0M127.8 588.0h0M86.4 569.8h0" stroke="#000" stroke-width="2.9" stroke-linecap="round"/>
<line x1="102.47" y1="522.90" x2="102.47" y2="647.20" stroke="#959595" stroke-width="1.05"/>
<line x1="137.86" y1="522.90" x2="137.86" y2="647.20" stroke="#ec1616" stroke-width="1.75"/>
<line x1="54.80" y1="543.31" x2="179.10" y2="543.31" stroke="#ec1616" stroke-width="1.75"/>
<rect x="134.91" y="540.36" width="5.9" height="5.9" fill="#e80000"/>
</g>
<rect x="54.80" y="522.90" width="124.30" height="124.30" fill="none" stroke="#3a3a3a" stroke-width="0.9"/>
<path d="M73.23 647.20v2.9M102.47 647.20v2.9M131.72 647.20v2.9M160.97 647.20v2.9M54.80 633.91h-2.9M54.80 603.71h-2.9M54.80 573.51h-2.9M54.80 543.31h-2.9" stroke="#000" stroke-width="0.8"/>
<clipPath id="c14"><rect x="185.35" y="522.90" width="124.30" height="124.30"/></clipPath>
<g clip-path="url(#c14)">
<path d="M246.5 556.3h0M224.3 563.1h0M193.6 541.4h0M205.0 586.1h0M241.2 581.4h0M238.0 563.6h0M227.9 604.4h0M205.5 580.9h0M270.5 620.3h0M237.4 573.0h0M236.8 569.1h0M219.5 589.3h0M227.9 574.9h0M240.8 607.6h0M288.8 553.8h0M228.2 587.8h0M218.1 566.1h0M213.8 573.7h0M273.7 582.3h0M229.4 585.4h0M237.4 591.1h0M286.0 524.1h0M246.7 596.9h0M241.8 605.1h0M233.9 583.8h0M236.3 588.2h0M214.4 562.4h0M253.2 582.7h0M261.1 583.2h0M232.8 575.9h0M257.6 586.0h0M239.4 581.0h0M235.3 595.7h0M223.9 567.1h0M203.2 599.5h0M223.2 595.0h0M232.6 570.3h0M208.2 591.8h0M229.2 573.3h0M214.3 584.8h0M212.0 601.5h0M207.7 586.3h0M232.1 586.2h0M211.6 581.5h0M244.8 586.6h0M248.5 583.0h0M213.9 592.4h0M237.0 582.2h0M245.2 567.9h0M257.4 590.2h0M208.1 582.0h0M242.6 584.8h0M254.0 591.2h0M238.4 576.9h0M229.5 593.0h0M216.7 595.0h0M229.8 577.3h0M212.8 577.6h0M242.9 588.9h0M259.2 569.5h0M207.6 582.5h0M253.4 603.0h0M241.6 581.3h0M241.1 568.9h0M246.6 586.8h0M253.9 602.2h0M215.8 590.1h0M250.6 577.8h0M222.4 584.2h0M234.3 600.2h0M220.3 561.6h0M223.0 577.2h0M232.2 585.7h0M201.9 587.5h0M238.7 569.8h0M231.2 562.4h0M226.5 562.2h0M265.4 589.3h0M304.8 591.8h0M222.2 570.8h0M234.7 563.8h0M236.1 590.9h0M225.8 601.4h0M224.2 591.6h0M228.3 580.8h0M247.4 607.4h0M236.4 588.5h0M258.6 538.2h0M250.9 597.3h0M251.8 582.5h0M237.2 587.7h0M216.8 591.2h0M213.2 588.6h0M227.6 573.5h0M229.6 591.6h0M219.2 573.1h0M229.1 583.5h0M234.0 589.0h0M259.8 574.8h0M302.7 550.1h0M234.7 587.5h0M238.5 594.4h0M227.2 594.3h0M241.8 581.1h0M204.5 562.7h0M260.4 587.0h0M214.9 581.2h0M247.8 589.1h0M235.0 585.6h0M240.1 595.5h0M219.4 595.2h0M220.9 572.8h0M247.1 574.2h0M196.6 605.9h0M225.8 583.5h0M206.6 590.6h0M238.8 585.3h0M233.3 578.6h0M226.8 585.8h0M239.5 589.0h0M223.5 594.7h0M219.3 577.0h0M227.1 592.4h0M249.6 594.5h0M232.1 587.2h0M253.5 580.1h0M232.9 586.8h0M235.1 581.1h0M223.2 599.6h0M223.7 577.9h0M210.1 591.4h0M239.4 575.9h0M223.7 582.1h0M243.0 593.4h0M210.4 588.6h0M274.4 591.6h0M237.5 595.6h0M261.3 590.6h0M210.4 573.1h0M223.3 589.7h0M244.9 582.4h0M232.7 584.7h0M216.7 582.9h0M252.6 586.0h0M280.8 590.9h0M262.7 588.2h0M266.5 585.6h0M264.8 598.5h0M219.1 563.9h0M211.1 573.8h0M241.1 570.7h0M276.2 595.1h0M214.5 574.6h0M236.4 576.4h0M242.1 540.2h0M243.2 574.6h0M246.7 571.9h0M248.6 584.9h0M225.0 583.3h0M244.5 587.6h0M236.5 563.9h0M212.2 577.5h0M244.8 582.6h0M245.3 582.0h0M237.0 535.5h0M202.2 580.5h0M218.2 580.0h0M256.4 591.7h0M250.8 569.4h0M232.5 573.3h0M231.5 588.2h0M205.1 601.4h0M240.5 581.2h0M213.3 586.6h0M226.1 568.1h0M213.7 602.0h0M232.7 586.3h0M256.2 579.0h0M225.6 540.3h0M222.7 603.3h0M255.1 597.0h0M214.4 582.1h0M234.6 584.7h0M250.7 586.8h0M227.5 557.2h0M229.0 598.1h0M230.0 601.8h0M228.4 583.2h0M217.9 565.9h0M233.0 566.4h0M269.7 581.8h0M197.6 609.6h0M227.8 594.1h0M229.7 583.6h0M193.4 573.6h0M207.0 580.8h0M210.5 585.5h0M205.9 583.4h0M268.2 591.6h0M231.2 574.3h0M255.7 594.2h0M238.0 581.6h0M214.8 578.6h0M259.4 581.0h0M230.6 578.9h0M268.4 579.8h0M232.7 580.5h0M201.5 586.6h0M223.8 586.0h0M221.2 588.8h0M242.2 600.2h0M212.7 595.3h0M245.6 613.1h0M236.2 593.6h0M275.2 585.8h0M234.2 579.0h0M241.8 587.6h0M243.8 588.8h0M220.3 562.7h0M216.1 588.0h0M256.7 583.0h0M232.4 574.4h0M213.3 561.8h0M244.2 594.1h0M241.1 564.3h0M237.8 556.7h0M212.8 557.6h0M224.5 602.9h0M233.2 589.1h0M212.9 592.8h0M249.2 592.7h0M219.3 576.1h0M219.5 578.6h0M239.4 621.4h0M221.8 608.5h0M227.3 583.9h0M236.6 599.0h0M204.1 581.7h0M243.3 615.9h0M258.3 577.6h0M242.2 602.1h0M230.1 587.9h0M232.0 573.3h0M245.5 565.8h0M261.7 602.6h0M228.3 589.0h0M262.8 591.0h0M244.1 583.0h0M237.3 583.6h0M246.4 576.2h0M236.3 592.7h0M229.7 576.0h0M231.3 609.1h0M265.5 588.6h0M214.4 583.8h0M236.5 526.0h0M232.1 586.8h0M231.4 555.4h0M264.1 540.0h0M243.0 540.5h0M192.3 576.5h0M237.6 590.1h0M244.9 593.3h0M215.9 589.4h0M243.0 580.0h0M279.3 569.9h0M234.9 553.0h0M241.5 600.9h0M250.1 560.5h0M249.8 609.0h0M235.1 588.5h0M226.3 582.2h0M229.6 575.5h0M219.2 602.9h0M226.2 576.7h0M224.5 585.3h0M221.6 589.7h0M221.0 591.6h0M217.4 591.7h0M235.0 589.0h0M227.0 579.8h0M227.0 587.5h0M261.6 597.4h0M222.5 583.7h0M237.3 596.3h0M238.5 577.3h0M236.4 589.7h0M237.8 575.8h0M238.8 599.1h0M229.1 605.4h0M245.7 587.0h0M269.9 584.8h0M221.9 576.3h0M214.1 576.6h0M199.3 566.7h0M247.6 583.2h0M270.4 587.7h0M225.7 586.0h0M218.2 607.0h0M210.2 539.6h0M238.5 582.0h0M220.6 593.5h0M233.8 588.6h0M250.5 594.8h0M251.3 584.5h0M246.3 590.7h0M189.5 583.6h0M233.1 576.8h0M226.9 583.7h0M227.3 564.4h0M240.4 581.3h0M212.1 564.7h0M250.5 605.7h0M252.5 585.7h0M234.0 590.7h0M249.6 571.9h0M251.4 565.9h0M216.3 602.0h0M235.1 603.6h0M247.2 540.5h0M239.2 604.5h0M227.1 567.6h0M260.4 560.7h0M218.1 590.7h0M224.1 595.4h0M248.5 556.1h0M235.4 564.8h0M205.2 589.5h0M244.1 585.4h0M236.3 579.1h0M238.1 580.2h0M238.3 591.5h0M206.1 569.4h0M209.4 559.0h0M193.2 552.3h0M288.7 592.2h0M221.0 591.2h0M246.7 603.5h0M220.9 562.0h0M220.7 575.9h0M246.8 589.3h0M228.1 573.4h0M195.3 593.5h0M235.8 588.2h0M237.6 591.4h0M253.3 599.9h0M253.9 591.2h0M241.9 593.1h0M244.7 613.8h0M282.8 597.1h0M223.6 602.8h0M259.1 593.3h0M211.9 554.8h0M241.5 581.1h0M241.1 585.2h0M218.2 596.4h0M214.3 582.6h0M224.9 585.6h0M236.4 598.2h0M249.6 592.8h0M249.0 586.7h0M240.5 583.4h0M256.0 576.8h0M274.7 576.1h0M223.6 559.9h0M216.4 590.1h0M278.5 603.1h0M233.3 597.4h0M226.1 583.7h0M224.0 578.5h0M224.0 581.0h0M225.6 589.8h0M247.0 581.7h0M255.6 576.3h0M234.0 586.7h0M249.3 598.4h0M284.1 597.7h0M200.3 586.5h0M243.4 583.8h0M224.8 563.7h0M240.0 568.5h0M207.3 572.7h0M240.9 588.3h0M241.3 575.2h0M230.9 578.8h0M243.0 580.4h0M237.6 598.5h0M234.1 573.6h0M229.1 587.7h0M232.0 578.2h0M234.8 552.2h0M195.7 566.7h0M249.3 601.4h0M223.9 593.4h0M237.0 614.6h0M256.1 608.0h0M262.9 584.6h0M205.0 559.3h0M242.1 574.3h0M240.0 570.2h0M271.2 567.8h0M200.7 567.9h0M258.0 577.0h0M239.7 585.0h0M238.2 583.7h0M278.8 574.7h0M264.9 610.5h0M242.7 604.1h0M252.5 588.8h0M227.3 605.1h0M252.6 577.3h0M225.5 595.1h0M247.0 600.8h0M244.7 567.9h0M236.1 583.3h0M224.0 584.2h0M250.7 590.8h0M247.6 557.1h0M242.5 619.7h0M241.4 579.7h0M243.4 590.3h0M278.1 613.5h0M243.9 610.7h0M214.0 572.9h0M240.8 587.0h0M280.5 583.3h0M220.4 583.7h0M245.7 582.6h0M239.2 580.0h0M210.9 564.7h0M222.8 575.7h0M243.0 592.7h0M236.7 603.1h0M228.5 554.2h0M249.2 582.4h0M235.0 592.4h0M269.5 595.3h0M258.2 589.7h0M212.5 566.1h0M242.6 601.9h0M257.9 581.7h0M256.1 572.4h0M235.6 587.7h0M242.5 597.2h0M229.8 573.9h0M265.8 571.3h0M226.4 595.5h0M241.5 590.9h0M253.9 588.1h0M236.7 574.3h0M224.5 578.4h0M232.5 592.7h0M212.4 572.2h0M205.8 615.6h0M291.4 539.9h0M273.2 599.2h0M228.3 598.4h0M247.2 561.0h0M254.5 594.5h0M223.5 589.5h0M243.6 586.7h0M236.6 584.3h0M238.7 586.4h0M231.1 584.6h0M208.1 589.1h0M224.2 583.0h0M306.5 573.9h0M232.1 609.0h0M226.4 585.0h0M186.1 577.1h0M244.6 588.6h0M231.3 600.8h0M214.4 579.5h0M270.4 578.9h0M231.1 582.3h0M308.3 570.5h0M211.7 601.3h0M218.8 583.8h0M264.5 555.5h0M233.8 575.6h0M247.3 586.8h0M204.5 583.1h0M252.9 602.5h0M228.5 578.8h0M233.7 581.5h0M217.8 569.8h0M226.5 596.4h0M238.4 584.7h0M241.8 578.7h0M205.5 570.5h0M238.2 556.1h0M244.4 575.4h0M221.1 592.8h0M230.9 588.2h0M201.4 576.9h0M262.7 579.5h0M272.4 608.4h0M264.9 567.7h0M235.3 582.3h0M224.8 572.7h0M282.8 603.2h0M221.2 559.6h0M206.3 582.6h0M231.8 591.7h0M220.7 587.3h0M212.6 566.9h0M234.0 595.8h0M203.0 583.4h0M239.9 590.4h0M231.1 570.9h0M220.7 581.7h0M219.7 610.1h0M233.3 599.7h0M235.7 582.5h0M242.2 605.1h0M248.2 566.2h0M297.5 606.3h0M213.2 588.0h0M241.8 589.8h0M236.3 591.7h0M235.7 595.5h0M217.8 573.6h0M251.0 584.1h0M236.2 592.6h0M263.6 568.0h0M209.5 572.7h0M244.8 582.7h0M241.9 562.6h0M252.1 584.3h0M234.8 592.7h0M275.1 568.1h0M232.3 578.5h0M249.8 580.6h0M239.3 598.3h0M276.7 584.4h0M227.0 588.1h0M237.7 574.2h0M239.5 613.6h0M228.8 573.1h0M237.9 585.1h0M253.0 590.7h0M242.8 556.0h0M235.4 570.0h0M235.8 573.7h0M276.4 589.7h0M195.5 593.0h0M223.5 584.6h0M216.5 607.8h0M224.0 575.9h0M243.0 594.9h0M222.9 581.1h0M232.7 587.8h0M231.3 581.6h0M296.5 613.6h0M228.7 586.1h0M237.1 581.0h0M211.6 568.2h0M241.6 537.6h0M199.7 599.1h0M232.8 584.2h0M214.2 588.4h0M247.7 587.7h0M229.3 594.1h0M253.2 582.6h0M228.1 572.1h0M232.6 580.0h0M221.1 581.1h0M249.5 585.2h0M241.6 584.4h0M233.3 566.5h0M256.0 586.8h0M224.1 592.0h0M209.5 601.5h0M229.1 590.6h0M232.1 596.0h0M257.6 595.6h0M218.6 594.6h0M260.3 574.6h0M215.4 582.5h0M225.2 589.6h0M194.8 563.2h0M231.6 587.7h0M246.1 600.4h0M251.9 581.2h0M271.8 596.6h0M235.0 592.5h0M223.0 588.8h0M226.5 601.7h0M198.7 585.1h0M213.5 567.5h0M219.5 587.9h0M248.1 570.2h0M220.7 589.1h0M244.3 555.2h0M228.0 548.0h0M306.9 586.3h0M267.4 588.3h0M223.9 579.9h0M221.3 600.3h0M235.3 539.5h0M210.8 586.8h0M250.9 557.7h0M262.9 568.3h0M225.9 574.9h0M222.7 562.4h0M206.9 570.5h0M229.4 590.0h0M235.6 589.3h0M234.0 566.5h0M246.5 573.6h0M237.4 596.9h0M217.0 565.1h0M240.5 590.6h0M235.0 597.0h0M245.7 583.7h0M220.2 588.0h0M241.6 611.6h0M240.7 564.7h0M215.1 580.6h0M278.7 614.0h0M233.9 571.0h0M211.9 577.0h0M192.2 585.1h0M227.6 563.9h0M241.3 585.7h0M278.5 555.9h0M265.9 611.7h0M235.9 577.2h0M245.6 586.4h0M223.1 590.3h0M234.6 587.4h0M229.4 570.9h0M205.8 581.8h0M249.3 581.2h0M230.7 573.5h0M300.1 601.0h0M224.7 591.0h0M268.4 579.0h0M262.9 596.7h0M251.2 580.5h0M262.8 593.6h0M242.3 576.5h0M223.8 580.7h0M223.7 598.7h0M216.8 570.4h0M217.5 584.3h0M230.3 577.7h0M280.6 597.1h0M225.1 578.8h0M251.7 590.8h0M241.6 582.0h0M211.0 586.4h0M270.1 597.0h0M234.8 578.9h0M230.4 579.8h0M229.6 597.8h0M279.4 603.3h0M251.3 587.9h0M213.8 588.3h0M222.7 549.1h0M252.7 587.1h0M244.7 580.3h0M242.0 590.6h0M219.7 579.8h0M221.6 593.8h0M232.6 580.5h0M232.2 598.0h0M213.9 563.7h0M249.7 589.0h0M222.7 581.5h0M226.0 578.2h0M300.5 563.2h0M222.8 579.0h0M251.7 600.4h0M265.5 583.9h0M228.8 590.1h0M253.8 597.8h0M234.2 572.7h0M216.7 560.6h0M226.2 582.1h0M248.6 598.0h0M207.9 577.0h0M236.9 591.3h0M237.9 593.6h0M229.9 593.1h0M260.4 568.6h0M200.1 586.5h0M237.1 579.2h0M236.5 592.0h0M223.5 607.2h0M238.5 583.5h0M209.9 577.4h0M201.5 611.8h0M213.8 603.6h0M228.3 592.2h0M226.0 582.9h0M250.1 581.2h0M256.4 577.4h0M222.8 564.0h0M220.2 603.1h0M240.2 601.6h0M229.5 551.0h0M219.6 581.6h0M231.1 547.9h0M228.4 574.7h0M256.1 588.5h0M235.9 608.0h0M223.9 591.1h0M205.3 591.7h0M227.5 556.1h0M231.0 550.0h0M243.9 583.9h0M221.3 588.5h0M239.5 596.8h0M223.2 598.1h0M259.6 597.0h0M225.1 604.7h0M221.5 595.6h0M223.0 568.5h0M243.3 569.6h0M190.4 570.9h0M247.9 599.2h0M205.7 582.2h0M228.0 579.1h0M221.1 587.5h0M226.0 575.1h0M209.9 571.5h0M228.5 605.1h0M240.7 609.0h0M227.6 588.0h0M264.9 579.1h0M247.8 599.9h0M243.3 564.7h0M222.1 583.1h0M268.1 600.3h0M239.5 583.0h0M225.1 594.3h0M250.4 552.6h0M223.2 592.3h0M232.1 565.8h0M228.6 587.9h0M224.2 588.7h0M223.0 570.3h0M225.3 573.3h0M238.0 597.3h0M242.3 590.0h0M225.5 584.7h0M224.1 569.3h0M264.1 618.3h0M222.5 574.8h0M221.9 587.7h0M205.6 585.2h0M303.2 613.5h0M209.8 563.9h0M226.7 594.2h0M293.3 607.3h0M231.4 569.6h0M246.8 609.7h0M219.4 588.0h0M228.6 569.8h0" stroke="#000" stroke-width="2.9" stroke-linecap="round"/>
<line x1="236.31" y1="522.90" x2="236.31" y2="647.20" stroke="#959595" stroke-width="1.05"/>
<line x1="244.97" y1="522.90" x2="244.97" y2="647.20" stroke="#ec1616" stroke-width="1.75"/>
<line x1="185.35" y1="543.31" x2="309.65" y2="543.31" stroke="#ec1616" stroke-width="1.75"/>
<rect x="242.02" y="540.36" width="5.9" height="5.9" fill="#e80000"/>
</g>
<rect x="185.35" y="522.90" width="124.30" height="124.30" fill="none" stroke="#3a3a3a" stroke-width="0.9"/>
<path d="M207.44 647.20v2.9M236.31 647.20v2.9M265.18 647.20v2.9M294.06 647.20v2.9M185.35 633.91h-2.9M185.35 603.71h-2.9M185.35 573.51h-2.9M185.35 543.31h-2.9" stroke="#000" stroke-width="0.8"/>
<clipPath id="c24"><rect x="315.90" y="522.90" width="124.30" height="124.30"/></clipPath>
<g clip-path="url(#c24)">
<path d="M341.7 556.3h0M358.2 563.1h0M374.7 541.4h0M358.2 586.1h0M380.9 581.4h0M359.4 563.6h0M331.7 604.4h0M365.1 580.9h0M322.6 620.3h0M343.1 573.0h0M352.3 569.1h0M360.8 589.3h0M354.5 574.9h0M328.2 607.6h0M359.4 553.8h0M344.5 587.8h0M371.9 566.1h0M367.8 573.7h0M341.4 582.3h0M344.5 585.4h0M354.4 591.1h0M376.6 524.1h0M364.9 596.9h0M349.2 605.1h0M363.6 583.8h0M347.1 588.2h0M392.2 562.4h0M340.6 582.7h0M353.0 583.2h0M354.1 575.9h0M343.9 586.0h0M365.6 581.0h0M334.8 595.7h0M371.1 567.1h0M374.3 599.5h0M345.9 595.0h0M343.3 570.3h0M350.5 591.8h0M366.7 573.3h0M342.0 584.8h0M364.5 601.5h0M362.7 586.3h0M347.5 586.2h0M368.1 581.5h0M339.6 586.6h0M348.4 583.0h0M347.4 592.4h0M360.1 582.2h0M366.6 567.9h0M345.7 590.2h0M357.2 582.0h0M343.4 584.8h0M347.8 591.2h0M362.2 576.9h0M330.4 593.0h0M347.8 595.0h0M355.3 577.3h0M376.1 577.6h0M336.7 588.9h0M365.4 569.5h0M355.9 582.5h0M324.3 603.0h0M347.4 581.3h0M348.3 568.9h0M381.7 586.8h0M329.1 602.2h0M347.2 590.1h0M335.8 577.8h0M348.2 584.2h0M345.0 600.2h0M375.1 561.6h0M346.4 577.2h0M365.6 585.7h0M348.8 587.5h0M387.3 569.8h0M356.3 562.4h0M342.8 562.2h0M327.1 589.3h0M332.1 591.8h0M380.6 570.8h0M356.4 563.8h0M353.9 590.9h0M341.7 601.4h0M363.6 591.6h0M355.7 580.8h0M361.5 607.4h0M348.4 588.5h0M358.9 538.2h0M350.9 597.3h0M354.7 582.5h0M358.2 587.7h0M377.9 591.2h0M365.1 588.6h0M362.2 573.5h0M347.7 591.6h0M357.0 573.1h0M348.1 583.5h0M358.0 589.0h0M337.4 574.8h0M348.0 550.1h0M336.9 587.5h0M358.1 594.4h0M377.3 594.3h0M357.9 581.1h0M376.7 562.7h0M372.0 587.0h0M347.4 581.2h0M348.4 589.1h0M350.8 585.6h0M352.9 595.5h0M345.5 595.2h0M383.4 572.8h0M368.6 574.2h0M365.5 605.9h0M349.1 583.5h0M360.4 590.6h0M353.6 585.3h0M352.1 578.6h0M345.0 585.8h0M353.2 589.0h0M349.6 594.7h0M349.6 577.0h0M352.4 592.4h0M345.5 594.5h0M342.1 587.2h0M347.1 580.1h0M353.1 586.8h0M349.0 581.1h0M374.8 599.6h0M370.3 577.9h0M355.6 591.4h0M328.6 575.9h0M323.1 582.1h0M355.1 593.4h0M355.3 588.6h0M336.5 591.6h0M348.5 595.6h0M340.7 590.6h0M379.1 573.1h0M361.8 589.7h0M345.5 582.4h0M355.2 584.7h0M354.6 582.9h0M335.0 586.0h0M331.0 590.9h0M347.8 588.2h0M347.6 585.6h0M345.6 598.5h0M351.2 563.9h0M358.6 573.8h0M352.9 570.7h0M334.8 595.1h0M372.4 574.6h0M437.5 576.4h0M414.6 540.2h0M371.1 574.6h0M341.2 571.9h0M331.7 584.9h0M360.5 583.3h0M332.8 587.6h0M368.5 563.9h0M350.1 577.5h0M351.4 582.6h0M348.9 582.0h0M362.4 535.5h0M359.4 580.5h0M346.7 580.0h0M351.7 591.7h0M366.1 569.4h0M370.3 573.3h0M323.4 588.2h0M371.6 601.4h0M345.7 581.2h0M382.8 586.6h0M382.8 568.1h0M372.7 602.0h0M377.4 586.3h0M350.1 579.0h0M388.9 540.3h0M343.3 603.3h0M336.5 597.0h0M360.8 582.1h0M354.6 584.7h0M358.6 586.8h0M372.4 557.2h0M354.0 598.1h0M350.5 601.8h0M352.0 583.2h0M352.1 565.9h0M354.2 566.4h0M356.2 581.8h0M341.0 609.6h0M349.8 594.1h0M368.7 583.6h0M362.4 573.6h0M355.0 580.8h0M366.0 585.5h0M373.4 583.4h0M335.0 591.6h0M341.6 574.3h0M339.9 594.2h0M350.0 581.6h0M356.8 578.6h0M377.7 581.0h0M355.3 578.9h0M368.7 579.8h0M332.1 580.5h0M366.9 586.6h0M348.4 586.0h0M345.5 588.8h0M348.9 600.2h0M345.9 595.3h0M335.9 613.1h0M355.5 593.6h0M329.2 585.8h0M366.8 579.0h0M343.8 587.6h0M353.9 588.8h0M386.2 562.7h0M354.4 588.0h0M332.5 583.0h0M364.4 574.4h0M370.1 561.8h0M352.7 594.1h0M385.9 564.3h0M348.5 556.7h0M340.1 557.6h0M347.4 602.9h0M356.9 589.1h0M349.8 592.8h0M354.0 592.7h0M369.0 576.1h0M370.2 578.6h0M347.9 621.4h0M349.8 608.5h0M382.6 583.9h0M370.2 599.0h0M375.0 581.7h0M347.2 615.9h0M360.8 577.6h0M348.3 602.1h0M348.3 587.9h0M361.1 573.3h0M361.6 565.8h0M349.6 602.6h0M356.3 589.0h0M337.6 591.0h0M348.6 583.0h0M360.0 583.6h0M342.0 576.2h0M347.1 592.7h0M360.8 576.0h0M360.9 609.1h0M336.2 588.6h0M357.1 583.8h0M346.0 526.0h0M353.4 586.8h0M386.8 555.4h0M358.7 540.0h0M386.4 540.5h0M435.4 576.5h0M337.9 590.1h0M346.6 593.3h0M353.6 589.4h0M358.1 580.0h0M361.9 569.9h0M365.2 553.0h0M324.5 600.9h0M334.7 560.5h0M333.4 609.0h0M342.4 588.5h0M359.3 582.2h0M345.9 575.5h0M338.2 602.9h0M363.8 576.7h0M376.9 585.3h0M334.9 589.7h0M347.1 591.6h0M336.6 591.7h0M334.8 589.0h0M350.7 579.8h0M368.9 587.5h0M338.8 597.4h0M351.3 583.7h0M352.9 596.3h0M341.1 577.3h0M362.0 589.7h0M346.0 575.8h0M342.2 599.1h0M349.2 605.4h0M373.2 587.0h0M331.5 584.8h0M388.6 576.3h0M345.4 576.6h0M362.0 566.7h0M336.0 583.2h0M372.0 587.7h0M367.4 586.0h0M382.0 607.0h0M389.7 539.6h0M345.5 582.0h0M378.0 593.5h0M335.8 588.6h0M341.0 594.8h0M344.0 584.5h0M348.7 590.7h0M363.6 583.6h0M342.8 576.8h0M355.1 583.7h0M369.4 564.4h0M352.1 581.3h0M381.2 564.7h0M362.4 605.7h0M350.1 585.7h0M339.2 590.7h0M329.2 571.9h0M352.4 565.9h0M355.5 602.0h0M341.4 603.6h0M368.3 540.5h0M349.8 604.5h0M374.2 567.6h0M375.6 560.7h0M377.5 590.7h0M368.1 595.4h0M375.2 556.1h0M368.9 564.8h0M356.1 589.5h0M347.7 585.4h0M367.6 579.1h0M357.8 580.2h0M351.3 591.5h0M388.9 569.4h0M361.5 559.0h0M353.1 552.3h0M347.7 592.2h0M362.5 591.2h0M348.5 603.5h0M362.6 562.0h0M372.2 575.9h0M376.6 589.3h0M342.3 573.4h0M349.3 593.5h0M341.9 588.2h0M332.9 591.4h0M328.1 599.9h0M335.6 591.2h0M345.0 593.1h0M329.5 613.8h0M373.9 597.1h0M373.0 602.8h0M349.9 593.3h0M358.9 554.8h0M376.3 581.1h0M348.2 585.2h0M364.3 596.4h0M331.1 582.6h0M388.7 585.6h0M345.1 598.2h0M345.8 592.8h0M337.2 586.7h0M342.6 583.4h0M352.5 576.8h0M338.1 576.1h0M378.7 559.9h0M360.2 590.1h0M324.9 603.1h0M354.1 597.4h0M370.7 583.7h0M353.6 578.5h0M375.9 581.0h0M357.4 589.8h0M360.7 581.7h0M388.4 576.3h0M349.9 586.7h0M395.4 598.4h0M360.0 597.7h0M369.3 586.5h0M345.9 583.8h0M381.1 563.7h0M367.1 568.5h0M373.0 572.7h0M366.1 588.3h0M355.9 575.2h0M361.4 578.8h0M341.2 580.4h0M355.8 598.5h0M351.2 573.6h0M369.5 587.7h0M347.5 578.2h0M365.5 552.2h0M376.8 566.7h0M348.6 601.4h0M331.1 593.4h0M338.4 614.6h0M347.8 608.0h0M330.7 584.6h0M376.2 559.3h0M352.0 574.3h0M350.9 570.2h0M350.2 567.8h0M354.6 567.9h0M390.2 577.0h0M352.4 585.0h0M339.3 583.7h0M352.1 574.7h0M321.0 610.5h0M356.4 604.1h0M340.9 588.8h0M353.5 605.1h0M331.2 577.3h0M357.3 595.1h0M325.3 600.8h0M362.3 567.9h0M345.5 583.3h0M369.0 584.2h0M330.5 590.8h0M365.0 557.1h0M316.0 619.7h0M374.5 579.7h0M357.4 590.3h0M324.9 613.5h0M350.6 610.7h0M375.5 572.9h0M337.0 587.0h0M345.9 583.3h0M364.5 583.7h0M386.3 582.6h0M367.0 580.0h0M385.2 564.7h0M357.6 575.7h0M351.0 592.7h0M350.3 603.1h0M385.7 554.2h0M342.3 582.4h0M347.0 592.4h0M338.5 595.3h0M348.4 589.7h0M379.5 566.1h0M347.4 601.9h0M368.6 581.7h0M369.2 572.4h0M345.2 587.7h0M339.8 597.2h0M377.2 573.9h0M349.4 571.3h0M368.6 595.5h0M362.1 590.9h0M352.4 588.1h0M362.6 574.3h0M363.9 578.4h0M324.3 592.7h0M371.5 572.2h0M340.2 615.6h0M332.2 539.9h0M368.2 599.2h0M343.0 598.4h0M357.5 561.0h0M337.0 594.5h0M354.1 589.5h0M354.8 586.7h0M368.2 584.3h0M346.1 586.4h0M371.2 584.6h0M356.4 589.1h0M351.7 583.0h0M322.2 573.9h0M343.4 609.0h0M348.8 585.0h0M411.6 577.1h0M361.0 588.6h0M347.0 600.8h0M355.0 579.5h0M353.7 578.9h0M360.4 582.3h0M343.8 570.5h0M349.4 601.3h0M361.7 583.8h0M346.6 555.5h0M347.5 575.6h0M353.4 586.8h0M363.1 583.1h0M328.3 602.5h0M338.1 578.8h0M368.3 581.5h0M368.4 569.8h0M347.2 596.4h0M342.3 584.7h0M357.8 578.7h0M371.8 570.5h0M364.6 556.1h0M326.8 575.4h0M353.3 592.8h0M363.7 588.2h0M378.8 576.9h0M346.1 579.5h0M321.7 608.4h0M362.2 567.7h0M353.5 582.3h0M349.5 572.7h0M338.8 603.2h0M362.2 559.6h0M412.8 582.6h0M347.4 591.7h0M381.5 587.3h0M354.0 566.9h0M347.0 595.8h0M343.7 583.4h0M347.7 590.4h0M365.7 570.9h0M363.9 581.7h0M346.5 610.1h0M337.6 599.7h0M358.7 582.5h0M336.2 605.1h0M365.9 566.2h0M327.2 606.3h0M345.7 588.0h0M339.7 589.8h0M336.2 591.7h0M329.2 595.5h0M353.7 573.6h0M356.7 584.1h0M369.3 592.6h0M344.7 568.0h0M365.1 572.7h0M340.9 582.7h0M350.2 562.6h0M337.2 584.3h0M367.8 592.7h0M356.7 568.1h0M388.4 578.5h0M367.5 580.6h0M332.9 598.3h0M317.9 584.4h0M362.3 588.1h0M354.8 574.2h0M348.7 613.6h0M356.4 573.1h0M355.0 585.1h0M330.8 590.7h0M395.9 556.0h0M371.6 570.0h0M366.2 573.7h0M346.0 589.7h0M352.6 593.0h0M345.0 584.6h0M365.5 607.8h0M397.0 575.9h0M342.0 594.9h0M352.3 581.1h0M365.9 587.8h0M359.8 581.6h0M321.1 613.6h0M373.1 586.1h0M345.1 581.0h0M358.8 568.2h0M364.5 537.6h0M368.3 599.1h0M357.9 584.2h0M367.8 588.4h0M344.6 587.7h0M361.0 594.1h0M346.6 582.6h0M359.9 572.1h0M323.9 580.0h0M364.5 581.1h0M356.8 585.2h0M367.7 584.4h0M372.7 566.5h0M329.7 586.8h0M371.7 592.0h0M354.0 601.5h0M349.8 590.6h0M343.0 596.0h0M345.2 595.6h0M370.6 594.6h0M376.1 574.6h0M398.8 582.5h0M361.1 589.6h0M373.3 563.2h0M363.9 587.7h0M361.1 600.4h0M349.6 581.2h0M364.4 596.6h0M354.1 592.5h0M349.4 588.8h0M349.2 601.7h0M322.7 585.1h0M363.7 567.5h0M351.1 587.9h0M343.9 570.2h0M368.8 589.1h0M348.0 555.2h0M388.0 548.0h0M331.1 586.3h0M368.2 588.3h0M356.4 579.9h0M356.9 600.3h0M357.9 539.5h0M387.7 586.8h0M350.0 557.7h0M343.3 568.3h0M343.9 574.9h0M366.9 562.4h0M363.6 570.5h0M348.8 590.0h0M346.3 589.3h0M377.6 566.5h0M350.1 573.6h0M342.6 596.9h0M369.8 565.1h0M339.4 590.6h0M360.9 597.0h0M337.6 583.7h0M370.0 588.0h0M347.7 611.6h0M357.9 564.7h0M342.5 580.6h0M322.5 614.0h0M358.8 571.0h0M355.3 577.0h0M339.4 585.1h0M370.1 563.9h0M347.3 585.7h0M398.0 555.9h0M340.2 611.7h0M357.1 577.2h0M346.1 586.4h0M344.1 590.3h0M347.4 587.4h0M357.3 570.9h0M367.3 581.8h0M357.1 581.2h0M384.0 573.5h0M338.6 601.0h0M360.3 591.0h0M333.2 579.0h0M344.1 596.7h0M354.6 580.5h0M343.4 593.6h0M383.2 576.5h0M357.8 580.7h0M359.5 598.7h0M369.4 570.4h0M360.2 584.3h0M350.2 577.7h0M326.9 597.1h0M370.0 578.8h0M359.1 590.8h0M349.7 582.0h0M347.7 586.4h0M342.9 597.0h0M344.0 578.9h0M361.6 579.8h0M341.1 597.8h0M345.7 603.3h0M328.9 587.9h0M346.3 588.3h0M373.0 549.1h0M373.4 587.1h0M374.9 580.3h0M360.7 590.6h0M384.9 579.8h0M369.7 593.8h0M341.3 580.5h0M325.8 598.0h0M377.4 563.7h0M337.8 589.0h0M347.2 581.5h0M337.0 578.2h0M370.7 563.2h0M371.9 579.0h0M350.9 600.4h0M343.8 583.9h0M338.1 590.1h0M344.6 597.8h0M369.5 572.7h0M344.1 560.6h0M349.9 582.1h0M354.3 598.0h0M349.1 577.0h0M341.7 591.3h0M349.7 593.6h0M344.9 593.1h0M348.9 568.6h0M386.0 586.5h0M367.4 579.2h0M343.2 592.0h0M350.5 607.2h0M355.2 583.5h0M376.1 577.4h0M341.7 611.8h0M357.0 603.6h0M355.7 592.2h0M352.1 582.9h0M350.0 581.2h0M344.7 577.4h0M371.2 564.0h0M350.8 603.1h0M337.2 601.6h0M384.2 551.0h0M347.5 581.6h0M357.7 547.9h0M358.4 574.7h0M355.6 588.5h0M351.8 608.0h0M335.7 591.1h0M356.2 591.7h0M373.3 556.1h0M378.8 550.0h0M351.4 583.9h0M355.8 588.5h0M330.0 596.8h0M341.9 598.1h0M326.9 597.0h0M354.3 604.7h0M358.3 595.6h0M346.5 568.5h0M345.3 569.6h0M378.2 570.9h0M354.7 599.2h0M351.1 582.2h0M356.0 579.1h0M354.2 587.5h0M365.9 575.1h0M359.2 571.5h0M340.6 605.1h0M372.8 609.0h0M349.4 588.0h0M329.7 579.1h0M351.3 599.9h0M356.4 564.7h0M368.4 583.1h0M328.7 600.3h0M354.0 583.0h0M351.4 594.3h0M361.2 552.6h0M333.7 592.3h0M357.0 565.8h0M346.1 587.9h0M351.2 588.7h0M360.4 570.3h0M350.7 573.3h0M329.4 597.3h0M363.4 590.0h0M369.3 584.7h0M364.3 569.3h0M332.5 618.3h0M364.8 574.8h0M363.6 587.7h0M380.9 585.2h0M386.7 613.5h0M380.1 563.9h0M338.2 594.2h0M334.4 607.3h0M368.3 569.6h0M334.1 609.7h0M351.9 588.0h0M412.8 569.8h0" stroke="#000" stroke-width="2.9" stroke-linecap="round"/>
<line x1="332.51" y1="522.90" x2="332.51" y2="647.20" stroke="#959595" stroke-width="1.05"/>
<line x1="361.05" y1="522.90" x2="361.05" y2="647.20" stroke="#ec1616" stroke-width="1.75"/>
<line x1="315.90" y1="543.31" x2="440.20" y2="543.31" stroke="#ec1616" stroke-width="1.75"/>
<rect x="358.10" y="540.36" width="5.9" height="5.9" fill="#e80000"/>
</g>
<rect x="315.90" y="522.90" width="124.30" height="124.30" fill="none" stroke="#3a3a3a" stroke-width="0.9"/>
<path d="M332.51 647.20v2.9M361.83 647.20v2.9M391.14 647.20v2.9M420.46 647.20v2.9M315.90 633.91h-2.9M315.90 603.71h-2.9M315.90 573.51h-2.9M315.90 543.31h-2.9" stroke="#000" stroke-width="0.8"/>
<clipPath id="c34"><rect x="446.45" y="522.90" width="124.30" height="124.30"/></clipPath>
<g clip-path="url(#c34)">
<path d="M465.3 556.3h0M492.4 563.1h0M500.1 541.4h0M495.8 586.1h0M500.6 581.4h0M486.7 563.6h0M453.7 604.4h0M477.3 580.9h0M447.6 620.3h0M473.2 573.0h0M487.0 569.1h0M493.1 589.3h0M486.4 574.9h0M456.0 607.6h0M500.5 553.8h0M466.5 587.8h0M499.6 566.1h0M491.2 573.7h0M488.8 582.3h0M476.2 585.4h0M474.9 591.1h0M489.8 524.1h0M477.1 596.9h0M483.1 605.1h0M496.1 583.8h0M471.6 588.2h0M531.0 562.4h0M467.0 582.7h0M476.9 583.2h0M487.1 575.9h0M460.0 586.0h0M500.9 581.0h0M476.0 595.7h0M512.6 567.1h0M487.1 599.5h0M476.4 595.0h0M484.9 570.3h0M472.7 591.8h0M494.3 573.3h0M478.0 584.8h0M482.5 601.5h0M481.7 586.3h0M482.4 586.2h0M504.2 581.5h0M459.1 586.6h0M472.1 583.0h0M486.3 592.4h0M486.9 582.2h0M487.1 567.9h0M481.3 590.2h0M475.3 582.0h0M460.3 584.8h0M491.8 591.2h0M484.6 576.9h0M461.4 593.0h0M472.1 595.0h0M475.7 577.3h0M493.3 577.6h0M469.4 588.9h0M489.5 569.5h0M479.1 582.5h0M451.5 603.0h0M479.2 581.3h0M489.8 568.9h0M507.1 586.8h0M460.0 602.2h0M491.9 590.1h0M469.3 577.8h0M483.9 584.2h0M472.1 600.2h0M504.8 561.6h0M468.4 577.2h0M483.1 585.7h0M484.6 587.5h0M519.8 569.8h0M473.8 562.4h0M463.7 562.2h0M455.1 589.3h0M470.3 591.8h0M503.3 570.8h0M483.4 563.8h0M476.9 590.9h0M463.6 601.4h0M478.4 591.6h0M484.4 580.8h0M472.4 607.4h0M478.6 588.5h0M508.2 538.2h0M485.4 597.3h0M469.7 582.5h0M481.1 587.7h0M487.1 591.2h0M488.7 588.6h0M494.0 573.5h0M475.6 591.6h0M468.3 573.1h0M483.3 583.5h0M485.9 589.0h0M476.6 574.8h0M499.8 550.1h0M468.8 587.5h0M509.9 594.4h0M508.1 594.3h0M487.5 581.1h0M500.5 562.7h0M496.1 587.0h0M479.1 581.2h0M470.1 589.1h0M475.0 585.6h0M482.8 595.5h0M487.4 595.2h0M501.7 572.8h0M498.5 574.2h0M482.7 605.9h0M475.0 583.5h0M487.7 590.6h0M488.8 585.3h0M468.7 578.6h0M466.0 585.8h0M479.2 589.0h0M482.5 594.7h0M460.7 577.0h0M489.5 592.4h0M470.3 594.5h0M476.1 587.2h0M466.8 580.1h0M488.9 586.8h0M478.3 581.1h0M491.6 599.6h0M480.6 577.9h0M492.0 591.4h0M459.8 575.9h0M453.5 582.1h0M486.4 593.4h0M468.6 588.6h0M455.8 591.6h0M473.0 595.6h0M477.4 590.6h0M498.5 573.1h0M495.5 589.7h0M473.1 582.4h0M480.5 584.7h0M484.4 582.9h0M459.0 586.0h0M466.3 590.9h0M481.5 588.2h0M472.1 585.6h0M472.6 598.5h0M481.8 563.9h0M478.5 573.8h0M490.9 570.7h0M464.5 595.1h0M494.5 574.6h0M537.7 576.4h0M568.2 540.2h0M489.7 574.6h0M472.3 571.9h0M460.2 584.9h0M499.2 583.3h0M460.8 587.6h0M491.7 563.9h0M480.7 577.5h0M467.9 582.6h0M484.5 582.0h0M496.8 535.5h0M487.2 580.5h0M482.4 580.0h0M481.8 591.7h0M505.0 569.4h0M517.7 573.3h0M448.1 588.2h0M474.5 601.4h0M469.9 581.2h0M510.5 586.6h0M493.4 568.1h0M485.9 602.0h0M490.3 586.3h0M480.6 579.0h0M511.6 540.3h0M463.0 603.3h0M463.5 597.0h0M477.0 582.1h0M487.7 584.7h0M492.2 586.8h0M491.3 557.2h0M482.9 598.1h0M469.3 601.8h0M486.5 583.2h0M483.2 565.9h0M475.4 566.4h0M493.3 581.8h0M462.3 609.6h0M478.9 594.1h0M493.0 583.6h0M504.2 573.6h0M477.3 580.8h0M518.2 585.5h0M483.4 583.4h0M483.0 591.6h0M473.1 574.3h0M459.7 594.2h0M492.2 581.6h0M488.8 578.6h0M499.0 581.0h0M485.6 578.9h0M492.9 579.8h0M460.3 580.5h0M481.2 586.6h0M468.6 586.0h0M466.5 588.8h0M473.2 600.2h0M479.6 595.3h0M468.3 613.1h0M477.7 593.6h0M458.9 585.8h0M490.0 579.0h0M486.9 587.6h0M466.6 588.8h0M532.4 562.7h0M473.3 588.0h0M459.9 583.0h0M505.5 574.4h0M500.1 561.8h0M482.2 594.1h0M503.9 564.3h0M496.0 556.7h0M467.7 557.6h0M470.2 602.9h0M483.0 589.1h0M475.7 592.8h0M473.3 592.7h0M479.3 576.1h0M489.7 578.6h0M469.2 621.4h0M469.1 608.5h0M502.5 583.9h0M504.9 599.0h0M481.8 581.7h0M491.1 615.9h0M493.6 577.6h0M469.3 602.1h0M475.9 587.9h0M483.0 573.3h0M492.7 565.8h0M457.9 602.6h0M472.5 589.0h0M465.1 591.0h0M470.4 583.0h0M479.1 583.6h0M485.3 576.2h0M482.4 592.7h0M489.3 576.0h0M475.7 609.1h0M465.9 588.6h0M498.3 583.8h0M464.6 526.0h0M484.3 586.8h0M520.3 555.4h0M473.4 540.0h0M566.6 540.5h0M566.2 576.5h0M484.8 590.1h0M482.1 593.3h0M479.0 589.4h0M478.7 580.0h0M483.8 569.9h0M475.2 553.0h0M459.0 600.9h0M467.9 560.5h0M458.4 609.0h0M474.4 588.5h0M483.0 582.2h0M464.5 575.5h0M471.6 602.9h0M486.6 576.7h0M500.0 585.3h0M459.7 589.7h0M463.4 591.6h0M467.3 591.7h0M456.0 589.0h0M478.4 579.8h0M492.6 587.5h0M467.3 597.4h0M480.3 583.7h0M481.3 596.3h0M469.9 577.3h0M494.0 589.7h0M468.7 575.8h0M472.1 599.1h0M470.6 605.4h0M500.5 587.0h0M474.1 584.8h0M514.0 576.3h0M478.0 576.6h0M468.7 566.7h0M470.6 583.2h0M480.8 587.7h0M481.6 586.0h0M518.1 607.0h0M518.6 539.6h0M476.2 582.0h0M524.8 593.5h0M464.5 588.6h0M462.1 594.8h0M472.2 584.5h0M478.0 590.7h0M482.6 583.6h0M474.0 576.8h0M479.6 583.7h0M489.1 564.4h0M473.5 581.3h0M522.0 564.7h0M470.8 605.7h0M479.0 585.7h0M471.5 590.7h0M463.4 571.9h0M487.2 565.9h0M476.4 602.0h0M476.9 603.6h0M504.0 540.5h0M459.4 604.5h0M492.8 567.6h0M517.2 560.7h0M509.2 590.7h0M495.4 595.4h0M460.3 556.1h0M488.9 564.8h0M476.7 589.5h0M483.2 585.4h0M496.9 579.1h0M500.4 580.2h0M481.8 591.5h0M505.1 569.4h0M491.6 559.0h0M473.1 552.3h0M476.5 592.2h0M486.9 591.2h0M469.3 603.5h0M498.4 562.0h0M494.4 575.9h0M512.6 589.3h0M463.0 573.4h0M483.3 593.5h0M465.9 588.2h0M470.6 591.4h0M466.6 599.9h0M466.9 591.2h0M467.3 593.1h0M484.6 613.8h0M511.2 597.1h0M501.7 602.8h0M469.3 593.3h0M486.3 554.8h0M499.9 581.1h0M472.7 585.2h0M491.4 596.4h0M463.4 582.6h0M494.0 585.6h0M473.2 598.2h0M479.6 592.8h0M463.5 586.7h0M481.8 583.4h0M487.6 576.8h0M474.1 576.1h0M500.7 559.9h0M481.0 590.1h0M458.5 603.1h0M479.9 597.4h0M497.0 583.7h0M486.2 578.5h0M495.9 581.0h0M482.1 589.8h0M518.7 581.7h0M518.1 576.3h0M480.2 586.7h0M510.1 598.4h0M512.3 597.7h0M482.6 586.5h0M476.5 583.8h0M503.0 563.7h0M482.2 568.5h0M476.5 572.7h0M496.1 588.3h0M501.5 575.2h0M485.9 578.8h0M471.9 580.4h0M482.5 598.5h0M481.4 573.6h0M490.1 587.7h0M474.2 578.2h0M476.9 552.2h0M482.3 566.7h0M485.3 601.4h0M465.4 593.4h0M472.4 614.6h0M473.7 608.0h0M474.7 584.6h0M488.6 559.3h0M483.2 574.3h0M459.6 570.2h0M477.0 567.8h0M483.5 567.9h0M507.4 577.0h0M465.8 585.0h0M471.4 583.7h0M476.5 574.7h0M449.4 610.5h0M467.1 604.1h0M467.5 588.8h0M483.2 605.1h0M464.4 577.3h0M474.7 595.1h0M454.8 600.8h0M478.1 567.9h0M463.1 583.3h0M487.8 584.2h0M462.0 590.8h0M512.2 557.1h0M446.5 619.7h0M483.6 579.7h0M491.9 590.3h0M450.6 613.5h0M477.9 610.7h0M496.0 572.9h0M466.5 587.0h0M473.4 583.3h0M489.1 583.7h0M502.4 582.6h0M484.4 580.0h0M497.7 564.7h0M473.4 575.7h0M475.0 592.7h0M481.3 603.1h0M518.6 554.2h0M470.3 582.4h0M469.5 592.4h0M466.0 595.3h0M470.0 589.7h0M486.0 566.1h0M475.9 601.9h0M488.1 581.7h0M507.6 572.4h0M476.2 587.7h0M465.5 597.2h0M503.9 573.9h0M490.0 571.3h0M488.7 595.5h0M485.5 590.9h0M473.5 588.1h0M489.7 574.3h0M490.1 578.4h0M464.1 592.7h0M487.9 572.2h0M463.3 615.6h0M466.7 539.9h0M487.9 599.2h0M470.2 598.4h0M485.7 561.0h0M459.9 594.5h0M474.7 589.5h0M488.4 586.7h0M495.2 584.3h0M467.7 586.4h0M489.7 584.6h0M481.7 589.1h0M480.1 583.0h0M460.7 573.9h0M462.7 609.0h0M474.8 585.0h0M512.4 577.1h0M477.2 588.6h0M470.2 600.8h0M497.7 579.5h0M506.2 578.9h0M478.7 582.3h0M464.4 570.5h0M475.5 601.3h0M489.9 583.8h0M482.6 555.5h0M489.5 575.6h0M488.7 586.8h0M469.8 583.1h0M459.3 602.5h0M468.8 578.8h0M503.3 581.5h0M492.3 569.8h0M460.2 596.4h0M464.4 584.7h0M488.3 578.7h0M485.7 570.5h0M489.4 556.1h0M452.3 575.4h0M485.8 592.8h0M489.8 588.2h0M524.9 576.9h0M465.4 579.5h0M447.1 608.4h0M505.8 567.7h0M476.6 582.3h0M488.7 572.7h0M462.8 603.2h0M489.4 559.6h0M557.5 582.6h0M487.8 591.7h0M500.5 587.3h0M467.1 566.9h0M477.9 595.8h0M459.4 583.4h0M481.8 590.4h0M491.6 570.9h0M483.3 581.7h0M463.1 610.1h0M460.7 599.7h0M492.3 582.5h0M456.3 605.1h0M478.2 566.2h0M468.4 606.3h0M473.3 588.0h0M468.2 589.8h0M455.4 591.7h0M451.3 595.5h0M488.0 573.6h0M499.1 584.1h0M495.6 592.6h0M478.1 568.0h0M474.0 572.7h0M464.4 582.7h0M488.4 562.6h0M465.7 584.3h0M481.2 592.7h0M472.3 568.1h0M496.6 578.5h0M494.7 580.6h0M462.3 598.3h0M453.2 584.4h0M479.7 588.1h0M476.4 574.2h0M460.9 613.6h0M492.9 573.1h0M494.5 585.1h0M460.8 590.7h0M518.7 556.0h0M496.5 570.0h0M494.3 573.7h0M467.2 589.7h0M487.7 593.0h0M471.0 584.6h0M515.8 607.8h0M539.5 575.9h0M461.8 594.9h0M490.2 581.1h0M494.8 587.8h0M472.6 581.6h0M448.0 613.6h0M494.4 586.1h0M481.9 581.0h0M477.2 568.2h0M507.5 537.6h0M472.9 599.1h0M485.1 584.2h0M484.9 588.4h0M468.3 587.7h0M479.0 594.1h0M482.9 582.6h0M477.0 572.1h0M468.4 580.0h0M476.5 581.1h0M479.0 585.2h0M499.7 584.4h0M490.1 566.5h0M473.8 586.8h0M488.4 592.0h0M478.5 601.5h0M497.8 590.6h0M478.3 596.0h0M466.5 595.6h0M476.5 594.6h0M499.1 574.6h0M503.7 582.5h0M478.2 589.6h0M513.8 563.2h0M513.9 587.7h0M482.3 600.4h0M474.4 581.2h0M489.1 596.6h0M480.2 592.5h0M481.0 588.8h0M469.4 601.7h0M448.2 585.1h0M497.3 567.5h0M468.6 587.9h0M478.8 570.2h0M497.3 589.1h0M483.1 555.2h0M534.8 548.0h0M460.8 586.3h0M502.3 588.3h0M478.9 579.9h0M478.4 600.3h0M494.0 539.5h0M493.2 586.8h0M470.0 557.7h0M465.5 568.3h0M473.4 574.9h0M505.0 562.4h0M484.0 570.5h0M469.7 590.0h0M470.9 589.3h0M513.0 566.5h0M492.9 573.6h0M471.5 596.9h0M514.1 565.1h0M471.1 590.6h0M487.6 597.0h0M465.9 583.7h0M484.6 588.0h0M477.1 611.6h0M496.5 564.7h0M479.2 580.6h0M449.1 614.0h0M483.5 571.0h0M476.3 577.0h0M472.3 585.1h0M502.5 563.9h0M472.7 585.7h0M568.6 555.9h0M459.3 611.7h0M501.8 577.2h0M466.4 586.4h0M472.6 590.3h0M467.2 587.4h0M483.0 570.9h0M495.1 581.8h0M483.7 581.2h0M500.1 573.5h0M485.1 601.0h0M493.0 591.0h0M487.5 579.0h0M474.3 596.7h0M477.9 580.5h0M465.2 593.6h0M504.6 576.5h0M488.1 580.7h0M497.8 598.7h0M503.6 570.4h0M498.7 584.3h0M458.5 577.7h0M467.0 597.1h0M483.2 578.8h0M486.6 590.8h0M478.4 582.0h0M490.4 586.4h0M461.1 597.0h0M469.4 578.9h0M487.9 579.8h0M467.3 597.8h0M466.2 603.3h0M450.1 587.9h0M474.8 588.3h0M514.4 549.1h0M508.5 587.1h0M489.5 580.3h0M477.1 590.6h0M509.3 579.8h0M490.4 593.8h0M464.3 580.5h0M465.4 598.0h0M506.4 563.7h0M462.0 589.0h0M473.3 581.5h0M452.7 578.2h0M493.0 563.2h0M496.3 579.0h0M479.4 600.4h0M448.8 583.9h0M468.8 590.1h0M468.4 597.8h0M486.1 572.7h0M479.0 560.6h0M468.8 582.1h0M482.1 598.0h0M484.4 577.0h0M478.6 591.3h0M472.3 593.6h0M475.3 593.1h0M489.8 568.6h0M526.6 586.5h0M477.0 579.2h0M461.9 592.0h0M470.6 607.2h0M494.4 583.5h0M497.5 577.4h0M460.5 611.8h0M481.8 603.6h0M491.3 592.2h0M466.7 582.9h0M465.7 581.2h0M473.9 577.4h0M513.6 564.0h0M480.8 603.1h0M459.8 601.6h0M507.3 551.0h0M480.7 581.6h0M496.4 547.9h0M481.1 574.7h0M476.7 588.5h0M482.6 608.0h0M472.8 591.1h0M486.5 591.7h0M494.6 556.1h0M498.3 550.0h0M473.6 583.9h0M476.7 588.5h0M463.2 596.8h0M466.8 598.1h0M452.4 597.0h0M477.2 604.7h0M501.2 595.6h0M467.1 568.5h0M474.5 569.6h0M513.1 570.9h0M474.2 599.2h0M472.1 582.2h0M480.0 579.1h0M476.3 587.5h0M479.5 575.1h0M468.7 571.5h0M468.3 605.1h0M466.6 609.0h0M479.5 588.0h0M453.7 579.1h0M478.1 599.9h0M476.0 564.7h0M491.1 583.1h0M456.6 600.3h0M495.3 583.0h0M475.3 594.3h0M481.8 552.6h0M462.9 592.3h0M494.7 565.8h0M482.4 587.9h0M475.0 588.7h0M476.7 570.3h0M484.8 573.3h0M463.5 597.3h0M478.6 590.0h0M488.6 584.7h0M496.1 569.3h0M464.9 618.3h0M494.7 574.8h0M485.1 587.7h0M515.7 585.2h0M520.9 613.5h0M495.0 563.9h0M459.4 594.2h0M468.7 607.3h0M491.3 569.6h0M471.2 609.7h0M473.6 588.0h0M516.0 569.8h0" stroke="#000" stroke-width="2.9" stroke-linecap="round"/>
<line x1="465.30" y1="522.90" x2="465.30" y2="647.20" stroke="#959595" stroke-width="1.05"/>
<line x1="492.96" y1="522.90" x2="492.96" y2="647.20" stroke="#ec1616" stroke-width="1.75"/>
<line x1="446.45" y1="543.31" x2="570.75" y2="543.31" stroke="#ec1616" stroke-width="1.75"/>
<rect x="490.01" y="540.36" width="5.9" height="5.9" fill="#e80000"/>
</g>
<rect x="446.45" y="522.90" width="124.30" height="124.30" fill="none" stroke="#3a3a3a" stroke-width="0.9"/>
<path d="M465.30 647.20v2.9M495.63 647.20v2.9M525.95 647.20v2.9M556.28 647.20v2.9M446.45 633.91h-2.9M446.45 603.71h-2.9M446.45 573.51h-2.9M446.45 543.31h-2.9" stroke="#000" stroke-width="0.8"/>
<clipPath id="c44"><rect x="577.00" y="522.90" width="124.30" height="124.30"/></clipPath>
<g clip-path="url(#c44)">
<path d="M577.00 647.20L577.00 647.20L583.22 647.20L583.22 647.20L589.43 647.20L589.43 647.20L595.64 647.20L595.64 647.20L601.86 647.20L601.86 643.50L608.08 643.50L608.08 636.50L614.29 636.50L614.29 620.80L620.50 620.80L620.50 595.50L626.72 595.50L626.72 563.90L632.93 563.90L632.93 536.30L639.15 536.30L639.15 534.40L645.37 534.40L645.37 569.10L651.58 569.10L651.58 607.10L657.79 607.10L657.79 617.30L664.01 617.30L664.01 632.40L670.23 632.40L670.23 639.90L676.44 639.90L676.44 647.20L682.65 647.20L682.65 640.70L688.87 640.70L688.87 647.20L695.09 647.20L695.09 644.30L701.30 644.30L701.30 647.20" fill="none" stroke="#262626" stroke-width="1.1" stroke-linejoin="miter"/>
<line x1="680.89" y1="522.90" x2="680.89" y2="647.20" stroke="#ec1616" stroke-width="1.75"/>
</g>
<rect x="577.00" y="522.90" width="124.30" height="124.30" fill="none" stroke="#3a3a3a" stroke-width="0.9"/>
<path d="M590.29 647.20v2.9M620.49 647.20v2.9M650.69 647.20v2.9M680.89 647.20v2.9" stroke="#000" stroke-width="0.8"/>
<rect x="141.10" y="138.30" width="36.20" height="17.4" rx="2.6" fill="#90ee90" stroke="#1f4a1f" stroke-width="1.0"/>
<text x="158.70" y="150.20" font-size="12.21" text-anchor="middle" textLength="27.86" lengthAdjust="spacingAndGlyphs" stroke="#000" stroke-width="0.12">-0.47</text>
<rect x="271.65" y="268.80" width="36.20" height="17.4" rx="2.6" fill="#90ee90" stroke="#1f4a1f" stroke-width="1.0"/>
<text x="289.25" y="280.70" font-size="12.21" text-anchor="middle" textLength="27.86" lengthAdjust="spacingAndGlyphs" stroke="#000" stroke-width="0.12">-0.34</text>
<rect x="402.20" y="399.30" width="32.00" height="17.4" rx="2.6" fill="#90ee90" stroke="#1f4a1f" stroke-width="1.0"/>
<text x="417.70" y="411.20" font-size="12.21" text-anchor="middle" textLength="23.97" lengthAdjust="spacingAndGlyphs" stroke="#000" stroke-width="0.12">0.82</text>
<rect x="402.20" y="529.80" width="32.00" height="17.4" rx="2.6" fill="#90ee90" stroke="#1f4a1f" stroke-width="1.0"/>
<text x="417.70" y="541.70" font-size="12.21" text-anchor="middle" textLength="23.97" lengthAdjust="spacingAndGlyphs" stroke="#000" stroke-width="0.12">0.39</text>
<rect x="532.75" y="529.80" width="32.00" height="17.4" rx="2.6" fill="#90ee90" stroke="#1f4a1f" stroke-width="1.0"/>
<text x="548.25" y="541.70" font-size="12.21" text-anchor="middle" textLength="23.97" lengthAdjust="spacingAndGlyphs" stroke="#000" stroke-width="0.12">0.43</text>
<text x="73.23" y="665.84" font-size="11.33" text-anchor="middle" textLength="16.22" lengthAdjust="spacingAndGlyphs" transform="rotate(-45 73.23 662.84)" stroke="#000" stroke-width="0.2">−2</text>
<text x="102.47" y="662.61" font-size="11.33" text-anchor="middle" textLength="7.00" lengthAdjust="spacingAndGlyphs" transform="rotate(-45 102.47 659.61)" stroke="#000" stroke-width="0.2">0</text>
<text x="131.72" y="662.57" font-size="11.33" text-anchor="middle" textLength="7.00" lengthAdjust="spacingAndGlyphs" transform="rotate(-45 131.72 659.57)" stroke="#000" stroke-width="0.2">2</text>
<text x="160.97" y="662.57" font-size="11.33" text-anchor="middle" textLength="7.00" lengthAdjust="spacingAndGlyphs" transform="rotate(-45 160.97 659.57)" stroke="#000" stroke-width="0.2">4</text>
<text x="207.44" y="665.84" font-size="11.33" text-anchor="middle" textLength="16.22" lengthAdjust="spacingAndGlyphs" transform="rotate(-45 207.44 662.84)" stroke="#000" stroke-width="0.2">−2</text>
<text x="236.31" y="662.61" font-size="11.33" text-anchor="middle" textLength="7.00" lengthAdjust="spacingAndGlyphs" transform="rotate(-45 236.31 659.61)" stroke="#000" stroke-width="0.2">0</text>
<text x="265.18" y="662.57" font-size="11.33" text-anchor="middle" textLength="7.00" lengthAdjust="spacingAndGlyphs" transform="rotate(-45 265.18 659.57)" stroke="#000" stroke-width="0.2">2</text>
<text x="294.06" y="662.57" font-size="11.33" text-anchor="middle" textLength="7.00" lengthAdjust="spacingAndGlyphs" transform="rotate(-45 294.06 659.57)" stroke="#000" stroke-width="0.2">4</text>
<text x="332.51" y="662.61" font-size="11.33" text-anchor="middle" textLength="7.00" lengthAdjust="spacingAndGlyphs" transform="rotate(-45 332.51 659.61)" stroke="#000" stroke-width="0.2">0</text>
<text x="361.83" y="662.61" font-size="11.33" text-anchor="middle" textLength="7.00" lengthAdjust="spacingAndGlyphs" transform="rotate(-45 361.83 659.61)" stroke="#000" stroke-width="0.2">3</text>
<text x="391.14" y="662.61" font-size="11.33" text-anchor="middle" textLength="7.00" lengthAdjust="spacingAndGlyphs" transform="rotate(-45 391.14 659.61)" stroke="#000" stroke-width="0.2">6</text>
<text x="420.46" y="662.61" font-size="11.33" text-anchor="middle" textLength="7.00" lengthAdjust="spacingAndGlyphs" transform="rotate(-45 420.46 659.61)" stroke="#000" stroke-width="0.2">9</text>
<text x="465.30" y="666.28" font-size="11.33" text-anchor="middle" textLength="17.49" lengthAdjust="spacingAndGlyphs" transform="rotate(-45 465.30 663.28)" stroke="#000" stroke-width="0.2">0.0</text>
<text x="495.63" y="666.19" font-size="11.33" text-anchor="middle" textLength="17.49" lengthAdjust="spacingAndGlyphs" transform="rotate(-45 495.63 663.19)" stroke="#000" stroke-width="0.2">2.5</text>
<text x="525.95" y="666.23" font-size="11.33" text-anchor="middle" textLength="17.49" lengthAdjust="spacingAndGlyphs" transform="rotate(-45 525.95 663.23)" stroke="#000" stroke-width="0.2">5.0</text>
<text x="556.28" y="666.23" font-size="11.33" text-anchor="middle" textLength="17.49" lengthAdjust="spacingAndGlyphs" transform="rotate(-45 556.28 663.23)" stroke="#000" stroke-width="0.2">7.5</text>
<text x="590.29" y="674.41" font-size="11.33" text-anchor="middle" textLength="40.71" lengthAdjust="spacingAndGlyphs" transform="rotate(-45 590.29 671.41)" stroke="#000" stroke-width="0.2">−14.75</text>
<text x="620.49" y="674.41" font-size="11.33" text-anchor="middle" textLength="40.71" lengthAdjust="spacingAndGlyphs" transform="rotate(-45 620.49 671.41)" stroke="#000" stroke-width="0.2">−14.50</text>
<text x="650.69" y="674.37" font-size="11.33" text-anchor="middle" textLength="40.71" lengthAdjust="spacingAndGlyphs" transform="rotate(-45 650.69 671.37)" stroke="#000" stroke-width="0.2">−14.25</text>
<text x="680.89" y="674.45" font-size="11.33" text-anchor="middle" textLength="40.71" lengthAdjust="spacingAndGlyphs" transform="rotate(-45 680.89 671.45)" stroke="#000" stroke-width="0.2">−14.00</text>
<text x="39.26" y="242.05" font-size="11.33" text-anchor="middle" textLength="16.22" lengthAdjust="spacingAndGlyphs" transform="rotate(-45 39.26 239.05)" stroke="#000" stroke-width="0.2">−2</text>
<text x="42.49" y="209.95" font-size="11.33" text-anchor="middle" textLength="7.00" lengthAdjust="spacingAndGlyphs" transform="rotate(-45 42.49 206.95)" stroke="#000" stroke-width="0.2">0</text>
<text x="42.53" y="181.03" font-size="11.33" text-anchor="middle" textLength="7.00" lengthAdjust="spacingAndGlyphs" transform="rotate(-45 42.53 178.03)" stroke="#000" stroke-width="0.2">2</text>
<text x="42.53" y="152.16" font-size="11.33" text-anchor="middle" textLength="7.00" lengthAdjust="spacingAndGlyphs" transform="rotate(-45 42.53 149.16)" stroke="#000" stroke-width="0.2">4</text>
<text x="42.49" y="374.80" font-size="11.33" text-anchor="middle" textLength="7.00" lengthAdjust="spacingAndGlyphs" transform="rotate(-45 42.49 371.80)" stroke="#000" stroke-width="0.2">0</text>
<text x="42.49" y="345.48" font-size="11.33" text-anchor="middle" textLength="7.00" lengthAdjust="spacingAndGlyphs" transform="rotate(-45 42.49 342.48)" stroke="#000" stroke-width="0.2">3</text>
<text x="42.49" y="316.17" font-size="11.33" text-anchor="middle" textLength="7.00" lengthAdjust="spacingAndGlyphs" transform="rotate(-45 42.49 313.17)" stroke="#000" stroke-width="0.2">6</text>
<text x="42.49" y="286.85" font-size="11.33" text-anchor="middle" textLength="7.00" lengthAdjust="spacingAndGlyphs" transform="rotate(-45 42.49 283.85)" stroke="#000" stroke-width="0.2">9</text>
<text x="38.82" y="506.73" font-size="11.33" text-anchor="middle" textLength="17.49" lengthAdjust="spacingAndGlyphs" transform="rotate(-45 38.82 503.73)" stroke="#000" stroke-width="0.2">0.0</text>
<text x="38.91" y="476.31" font-size="11.33" text-anchor="middle" textLength="17.49" lengthAdjust="spacingAndGlyphs" transform="rotate(-45 38.91 473.31)" stroke="#000" stroke-width="0.2">2.5</text>
<text x="38.87" y="446.03" font-size="11.33" text-anchor="middle" textLength="17.49" lengthAdjust="spacingAndGlyphs" transform="rotate(-45 38.87 443.03)" stroke="#000" stroke-width="0.2">5.0</text>
<text x="38.87" y="415.71" font-size="11.33" text-anchor="middle" textLength="17.49" lengthAdjust="spacingAndGlyphs" transform="rotate(-45 38.87 412.71)" stroke="#000" stroke-width="0.2">7.5</text>
<text x="30.69" y="650.92" font-size="11.33" text-anchor="middle" textLength="40.71" lengthAdjust="spacingAndGlyphs" transform="rotate(-45 30.69 647.92)" stroke="#000" stroke-width="0.2">−14.75</text>
<text x="30.69" y="620.72" font-size="11.33" text-anchor="middle" textLength="40.71" lengthAdjust="spacingAndGlyphs" transform="rotate(-45 30.69 617.72)" stroke="#000" stroke-width="0.2">−14.50</text>
<text x="30.73" y="590.48" font-size="11.33" text-anchor="middle" textLength="40.71" lengthAdjust="spacingAndGlyphs" transform="rotate(-45 30.73 587.48)" stroke="#000" stroke-width="0.2">−14.25</text>
<text x="30.65" y="560.37" font-size="11.33" text-anchor="middle" textLength="40.71" lengthAdjust="spacingAndGlyphs" transform="rotate(-45 30.65 557.37)" stroke="#000" stroke-width="0.2">−14.00</text>
<text x="78.67" y="692.70" font-size="11.43" textLength="76.57" lengthAdjust="spacingAndGlyphs" stroke="#000" stroke-width="0.12">Monopole S/N</text>
<text x="218.50" y="692.70" font-size="11.43" textLength="58.00" lengthAdjust="spacingAndGlyphs" stroke="#000" stroke-width="0.12">Dipole S/N</text>
<text x="358.29" y="692.70" font-size="11.43" textLength="39.51" lengthAdjust="spacingAndGlyphs" stroke="#000" stroke-width="0.12">HD S/N</text>
<text x="446.09" y="692.70" font-size="11.43" textLength="16.92" lengthAdjust="spacingAndGlyphs" stroke="#000" stroke-width="0.12">log</text><text x="463.01" y="694.80" font-size="8.00" textLength="10.19" lengthAdjust="spacingAndGlyphs" stroke="#000" stroke-width="0.12">10</text><text x="473.20" y="692.70" font-size="11.43" textLength="97.91" lengthAdjust="spacingAndGlyphs" stroke="#000" stroke-width="0.12">(HD vs. CURN BF)</text>
<text x="607.45" y="692.70" font-size="11.43" textLength="16.92" lengthAdjust="spacingAndGlyphs" stroke="#000" stroke-width="0.12">log</text><text x="624.37" y="694.80" font-size="8.00" textLength="10.19" lengthAdjust="spacingAndGlyphs" stroke="#000" stroke-width="0.12">10</text><text x="634.56" y="692.70" font-size="11.43" textLength="7.59" lengthAdjust="spacingAndGlyphs" font-style="italic" stroke="#000" stroke-width="0.12">A</text><text x="642.15" y="694.80" font-size="8.00" textLength="12.66" lengthAdjust="spacingAndGlyphs" stroke="#000" stroke-width="0.12">0.1</text><text x="654.81" y="694.80" font-size="8.00" textLength="7.79" lengthAdjust="spacingAndGlyphs" font-style="italic" stroke="#000" stroke-width="0.12">yr</text><text x="662.60" y="692.10" font-size="5.76" textLength="8.25" lengthAdjust="spacingAndGlyphs" stroke="#000" stroke-width="0.12">−1</text>
<g transform="translate(15.90 193.55) rotate(-90)"><text x="-29.00" y="0.00" font-size="11.43" textLength="58.00" lengthAdjust="spacingAndGlyphs" stroke="#000" stroke-width="0.12">Dipole S/N</text></g>
<g transform="translate(15.90 324.05) rotate(-90)"><text x="-19.76" y="0.00" font-size="11.43" textLength="39.51" lengthAdjust="spacingAndGlyphs" stroke="#000" stroke-width="0.12">HD S/N</text></g>
<g transform="translate(15.90 454.55) rotate(-90)"><text x="-62.51" y="0.00" font-size="11.43" textLength="16.92" lengthAdjust="spacingAndGlyphs" stroke="#000" stroke-width="0.12">log</text><text x="-45.59" y="2.10" font-size="8.00" textLength="10.19" lengthAdjust="spacingAndGlyphs" stroke="#000" stroke-width="0.12">10</text><text x="-35.40" y="0.00" font-size="11.43" textLength="97.91" lengthAdjust="spacingAndGlyphs" stroke="#000" stroke-width="0.12">(HD vs. CURN BF)</text></g>
<g transform="translate(12.90 585.05) rotate(-90)"><text x="-31.70" y="0.00" font-size="11.43" textLength="16.92" lengthAdjust="spacingAndGlyphs" stroke="#000" stroke-width="0.12">log</text><text x="-14.78" y="2.10" font-size="8.00" textLength="10.19" lengthAdjust="spacingAndGlyphs" stroke="#000" stroke-width="0.12">10</text><text x="-4.59" y="0.00" font-size="11.43" textLength="7.59" lengthAdjust="spacingAndGlyphs" font-style="italic" stroke="#000" stroke-width="0.12">A</text><text x="3.00" y="2.10" font-size="8.00" textLength="12.66" lengthAdjust="spacingAndGlyphs" stroke="#000" stroke-width="0.12">0.1</text><text x="15.66" y="2.10" font-size="8.00" textLength="7.79" lengthAdjust="spacingAndGlyphs" font-style="italic" stroke="#000" stroke-width="0.12">yr</text><text x="23.45" y="-0.60" font-size="5.76" textLength="8.25" lengthAdjust="spacingAndGlyphs" stroke="#000" stroke-width="0.12">−1</text></g>
</svg>
</body></html>
